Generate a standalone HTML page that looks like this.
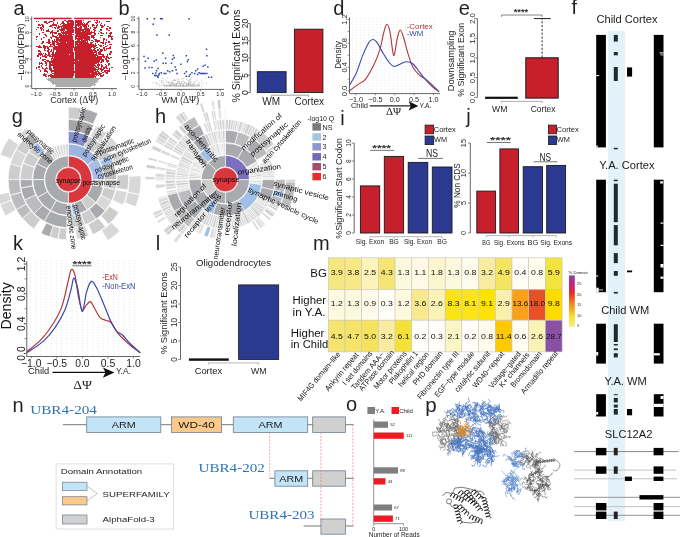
<!DOCTYPE html>
<html><head><meta charset="utf-8"><style>
html,body{margin:0;padding:0;background:#fff;}
body{width:685px;height:537px;overflow:hidden;}
svg{display:block;font-family:"Liberation Sans", sans-serif;will-change:transform;}
</style></head><body>
<svg width="685" height="537" viewBox="0 0 685 537" fill="#231f20">
<text x="13.5" y="14.5" font-size="20">a</text>
<path d="M31.7 16.5L31.7 88.6" stroke="#555" stroke-width="0.9"/>
<path d="M31.7 88.6L117 88.6" stroke="#555" stroke-width="0.9"/>
<path d="M29.7 86.1L31.7 86.1" stroke="#555" stroke-width="0.7"/>
<text x="28.6" y="86.1" font-size="5" text-anchor="middle" fill="#1e1e1e" transform="rotate(-90 28.6 86.1)">0</text>
<path d="M29.7 72.7L31.7 72.7" stroke="#555" stroke-width="0.7"/>
<text x="28.6" y="72.7" font-size="5" text-anchor="middle" fill="#1e1e1e" transform="rotate(-90 28.6 72.7)">2</text>
<path d="M29.7 59.3L31.7 59.3" stroke="#555" stroke-width="0.7"/>
<text x="28.6" y="59.3" font-size="5" text-anchor="middle" fill="#1e1e1e" transform="rotate(-90 28.6 59.3)">4</text>
<path d="M29.7 45.9L31.7 45.9" stroke="#555" stroke-width="0.7"/>
<text x="28.6" y="45.9" font-size="5" text-anchor="middle" fill="#1e1e1e" transform="rotate(-90 28.6 45.9)">6</text>
<path d="M29.7 32.5L31.7 32.5" stroke="#555" stroke-width="0.7"/>
<text x="28.6" y="32.5" font-size="5" text-anchor="middle" fill="#1e1e1e" transform="rotate(-90 28.6 32.5)">8</text>
<path d="M29.7 19.1L31.7 19.1" stroke="#555" stroke-width="0.7"/>
<text x="28.6" y="19.1" font-size="5" text-anchor="middle" fill="#1e1e1e" transform="rotate(-90 28.6 19.1)">10</text>
<path d="M36 88.6L36 90.4" stroke="#555" stroke-width="0.7"/>
<text x="36" y="95.8" font-size="5.7" text-anchor="middle" fill="#1e1e1e">−1.0</text>
<path d="M55 88.6L55 90.4" stroke="#555" stroke-width="0.7"/>
<text x="55" y="95.8" font-size="5.7" text-anchor="middle" fill="#1e1e1e">−0.5</text>
<path d="M74 88.6L74 90.4" stroke="#555" stroke-width="0.7"/>
<text x="74" y="95.8" font-size="5.7" text-anchor="middle" fill="#1e1e1e">0.0</text>
<path d="M93 88.6L93 90.4" stroke="#555" stroke-width="0.7"/>
<text x="93" y="95.8" font-size="5.7" text-anchor="middle" fill="#1e1e1e">0.5</text>
<path d="M112 88.6L112 90.4" stroke="#555" stroke-width="0.7"/>
<text x="112" y="95.8" font-size="5.7" text-anchor="middle" fill="#1e1e1e">1.0</text>
<text x="50.2" y="102.8" font-size="9">Cortex (<tspan font-family='"Liberation Serif", serif' font-size="9.5">ΔΨ</tspan>)</text>
<text x="23.8" y="51.8" font-size="8.5" text-anchor="middle" transform="rotate(-90 23.8 51.8)" textLength="56.7" lengthAdjust="spacingAndGlyphs">−Log10(FDR)</text>
<path d="M45.5 77.5h0.5v0.5h-0.5zM46.5 77.5h5.5v0.5h-5.5zM54.5 77.5h0.5v0.5h-0.5zM56 77.5h1v0.5h-1zM62 77.5h1.5v0.5h-1.5zM67.5 77.5h1v0.5h-1zM71.5 77.5h3.5v0.5h-3.5zM77.5 77.5h1v0.5h-1zM81.5 77.5h1v0.5h-1zM83.5 77.5h2v0.5h-2zM89 77.5h0.5v0.5h-0.5zM92 77.5h2.5v0.5h-2.5zM96 77.5h5v0.5h-5zM101.5 77.5h1.5v0.5h-1.5zM46 78h1v0.5h-1zM47.5 78h53.5v0.5h-53.5zM101.5 78h0.5v0.5h-0.5zM47 78.5h53.5v0.5h-53.5zM47 79h52v0.5h-52zM99.5 79h0.5v0.5h-0.5zM48 79.5h50.5v0.5h-50.5zM99 79.5h1v0.5h-1zM48 80h0.5v0.5h-0.5zM49 80h49v0.5h-49zM98.5 80h0.5v0.5h-0.5zM99.5 80h0.5v0.5h-0.5zM48.5 80.5h0.5v0.5h-0.5zM49.5 80.5h48v0.5h-48zM98 80.5h0.5v0.5h-0.5zM99 80.5h0.5v0.5h-0.5zM50 81h47v0.5h-47zM97.5 81h1.5v0.5h-1.5zM51 81.5h45.5v0.5h-45.5zM97 81.5h0.5v0.5h-0.5zM98 81.5h0.5v0.5h-0.5zM51 82h45.5v0.5h-45.5zM51 82.5h0.5v0.5h-0.5zM52.5 82.5h43v0.5h-43zM96 82.5h0.5v0.5h-0.5zM52 83h43v0.5h-43zM95.5 83h0.5v0.5h-0.5zM52.5 83.5h0.5v0.5h-0.5zM53.5 83.5h41v0.5h-41zM53 84h1v0.5h-1zM54.5 84h41v0.5h-41zM53 84.5h1v0.5h-1zM54.5 84.5h38.5v0.5h-38.5zM94.5 84.5h0.5v0.5h-0.5zM53.5 85h0.5v0.5h-0.5zM54.5 85h0.5v0.5h-0.5zM55.5 85h37.5v0.5h-37.5zM93.5 85h1v0.5h-1zM54.5 85.5h1v0.5h-1zM56 85.5h36.5v0.5h-36.5zM93 85.5h0.5v0.5h-0.5zM55 86h0.5v0.5h-0.5zM56 86h0.5v0.5h-0.5zM57 86h34v0.5h-34z" fill="#ababab" shape-rendering="crispEdges"/>
<path d="M53 19h1.5v0.5h-1.5zM53 19.5h1.5v0.5h-1.5zM64 19.5h1.5v0.5h-1.5zM68 19.5h1.5v0.5h-1.5zM71 19.5h1.5v0.5h-1.5zM75 19.5h1.5v0.5h-1.5zM79 19.5h1.5v0.5h-1.5zM82.5 19.5h1.5v0.5h-1.5zM96 19.5h1.5v0.5h-1.5zM53 20h1.5v0.5h-1.5zM64 20h1.5v0.5h-1.5zM68 20h2.5v0.5h-2.5zM71 20h1.5v0.5h-1.5zM74.5 20h2v0.5h-2zM77 20h5v0.5h-5zM82.5 20h1.5v0.5h-1.5zM93.5 20h1.5v0.5h-1.5zM96 20h1.5v0.5h-1.5zM35.5 20.5h1.5v0.5h-1.5zM37.5 20.5h1.5v0.5h-1.5zM49 20.5h1.5v0.5h-1.5zM51 20.5h1.5v0.5h-1.5zM66 20.5h7.5v0.5h-7.5zM74.5 20.5h2v0.5h-2zM77 20.5h5v0.5h-5zM82.5 20.5h1.5v0.5h-1.5zM89 20.5h1.5v0.5h-1.5zM93.5 20.5h1.5v0.5h-1.5zM96 20.5h1.5v0.5h-1.5zM106 20.5h1.5v0.5h-1.5zM35.5 21h1.5v0.5h-1.5zM37.5 21h1.5v0.5h-1.5zM44 21h1.5v0.5h-1.5zM46 21h1v0.5h-1zM49 21h1.5v0.5h-1.5zM51 21h1.5v0.5h-1.5zM62 21h1.5v0.5h-1.5zM66 21h5.5v0.5h-5.5zM72 21h1.5v0.5h-1.5zM74.5 21h7.5v0.5h-7.5zM87.5 21h1v0.5h-1zM89 21h1.5v0.5h-1.5zM96.5 21h1.5v0.5h-1.5zM98.5 21h1.5v0.5h-1.5zM106 21h1.5v0.5h-1.5zM108 21h1.5v0.5h-1.5zM35.5 21.5h1.5v0.5h-1.5zM37.5 21.5h1.5v0.5h-1.5zM44 21.5h1.5v0.5h-1.5zM46 21.5h1v0.5h-1zM48 21.5h2.5v0.5h-2.5zM51 21.5h1.5v0.5h-1.5zM57 21.5h1v0.5h-1zM62 21.5h1.5v0.5h-1.5zM66 21.5h5.5v0.5h-5.5zM72 21.5h1.5v0.5h-1.5zM74.5 21.5h7.5v0.5h-7.5zM82.5 21.5h1.5v0.5h-1.5zM87 21.5h1.5v0.5h-1.5zM89 21.5h1.5v0.5h-1.5zM94.5 21.5h3.5v0.5h-3.5zM98.5 21.5h1.5v0.5h-1.5zM106 21.5h1.5v0.5h-1.5zM108 21.5h1.5v0.5h-1.5zM44 22h1.5v0.5h-1.5zM46 22h1v0.5h-1zM48 22h1.5v0.5h-1.5zM52.5 22h1v0.5h-1zM57 22h1v0.5h-1zM62 22h1.5v0.5h-1.5zM66.5 22h2v0.5h-2zM69.5 22h4.5v0.5h-4.5zM74.5 22h7v0.5h-7zM82.5 22h1.5v0.5h-1.5zM87 22h1.5v0.5h-1.5zM94.5 22h3.5v0.5h-3.5zM98.5 22h1.5v0.5h-1.5zM46 22.5h1.5v0.5h-1.5zM48 22.5h1.5v0.5h-1.5zM52.5 22.5h1v0.5h-1zM57 22.5h1v0.5h-1zM60.5 22.5h2v0.5h-2zM66.5 22.5h7.5v0.5h-7.5zM74.5 22.5h7v0.5h-7zM82.5 22.5h2.5v0.5h-2.5zM87 22.5h1.5v0.5h-1.5zM94.5 22.5h2.5v0.5h-2.5zM100.5 22.5h1.5v0.5h-1.5zM46 23h1.5v0.5h-1.5zM52.5 23h1v0.5h-1zM57 23h1v0.5h-1zM60.5 23h4v0.5h-4zM66.5 23h3v0.5h-3zM70 23h4v0.5h-4zM74.5 23h1.5v0.5h-1.5zM76.5 23h6v0.5h-6zM83.5 23h1.5v0.5h-1.5zM86 23h1.5v0.5h-1.5zM95.5 23h1v0.5h-1zM100.5 23h1.5v0.5h-1.5zM46 23.5h1.5v0.5h-1.5zM55.5 23.5h1.5v0.5h-1.5zM59.5 23.5h5v0.5h-5zM65 23.5h4.5v0.5h-4.5zM70 23.5h3.5v0.5h-3.5zM76.5 23.5h11v0.5h-11zM95.5 23.5h1v0.5h-1zM100.5 23.5h1.5v0.5h-1.5zM38 24h1.5v0.5h-1.5zM41 24h1.5v0.5h-1.5zM51.5 24h3v0.5h-3zM55 24h2v0.5h-2zM59.5 24h1.5v0.5h-1.5zM62.5 24h11v0.5h-11zM75 24h12.5v0.5h-12.5zM92 24h1.5v0.5h-1.5zM96.5 24h1v0.5h-1zM100 24h1v0.5h-1zM103.5 24h1.5v0.5h-1.5zM38 24.5h2.5v0.5h-2.5zM41 24.5h1.5v0.5h-1.5zM50.5 24.5h4v0.5h-4zM55 24.5h2v0.5h-2zM59.5 24.5h1.5v0.5h-1.5zM62.5 24.5h11v0.5h-11zM74.5 24.5h6v0.5h-6zM82 24.5h5v0.5h-5zM92 24.5h2.5v0.5h-2.5zM96.5 24.5h1v0.5h-1zM100 24.5h1v0.5h-1zM101.5 24.5h1.5v0.5h-1.5zM103.5 24.5h1.5v0.5h-1.5zM38 25h2.5v0.5h-2.5zM42 25h1.5v0.5h-1.5zM49.5 25h5v0.5h-5zM55 25h1.5v0.5h-1.5zM57.5 25h1v0.5h-1zM62 25h5.5v0.5h-5.5zM68 25h5.5v0.5h-5.5zM74.5 25h6.5v0.5h-6.5zM82 25h4.5v0.5h-4.5zM87.5 25h1.5v0.5h-1.5zM92 25h2.5v0.5h-2.5zM95.5 25h2v0.5h-2zM100 25h3v0.5h-3zM103.5 25h1.5v0.5h-1.5zM39.5 25.5h1v0.5h-1zM42 25.5h1.5v0.5h-1.5zM49 25.5h3v0.5h-3zM55.5 25.5h1.5v0.5h-1.5zM57.5 25.5h1v0.5h-1zM62 25.5h3v0.5h-3zM65.5 25.5h4.5v0.5h-4.5zM70.5 25.5h3v0.5h-3zM75.5 25.5h1.5v0.5h-1.5zM77.5 25.5h1.5v0.5h-1.5zM79.5 25.5h2.5v0.5h-2.5zM83 25.5h4v0.5h-4zM87.5 25.5h1.5v0.5h-1.5zM91.5 25.5h1v0.5h-1zM93 25.5h1.5v0.5h-1.5zM95.5 25.5h1.5v0.5h-1.5zM101 25.5h1.5v0.5h-1.5zM107 25.5h1.5v0.5h-1.5zM42 26h1.5v0.5h-1.5zM49 26h2.5v0.5h-2.5zM55.5 26h1.5v0.5h-1.5zM57.5 26h4v0.5h-4zM62 26h1.5v0.5h-1.5zM64 26h8.5v0.5h-8.5zM74.5 26h2.5v0.5h-2.5zM77.5 26h1.5v0.5h-1.5zM79.5 26h2.5v0.5h-2.5zM83 26h4v0.5h-4zM87.5 26h1.5v0.5h-1.5zM91.5 26h1v0.5h-1zM95.5 26h1.5v0.5h-1.5zM101 26h3v0.5h-3zM107 26h1.5v0.5h-1.5zM37 26.5h1.5v0.5h-1.5zM42.5 26.5h1.5v0.5h-1.5zM49 26.5h1.5v0.5h-1.5zM51.5 26.5h1.5v0.5h-1.5zM54 26.5h1.5v0.5h-1.5zM56.5 26.5h5v0.5h-5zM63 26.5h10.5v0.5h-10.5zM74 26.5h2.5v0.5h-2.5zM78 26.5h3v0.5h-3zM91.5 26.5h2.5v0.5h-2.5zM95 26.5h1.5v0.5h-1.5zM101 26.5h3v0.5h-3zM37 27h1.5v0.5h-1.5zM40 27h2v0.5h-2zM42.5 27h1.5v0.5h-1.5zM51.5 27h1.5v0.5h-1.5zM54 27h1.5v0.5h-1.5zM56.5 27h3.5v0.5h-3.5zM60.5 27h1v0.5h-1zM62.5 27h4v0.5h-4zM67 27h6.5v0.5h-6.5zM74 27h2.5v0.5h-2.5zM78.5 27h3.5v0.5h-3.5zM84 27h3v0.5h-3zM89.5 27h1.5v0.5h-1.5zM92.5 27h4v0.5h-4zM101 27h1.5v0.5h-1.5zM108.5 27h2.5v0.5h-2.5zM37 27.5h1.5v0.5h-1.5zM40 27.5h2v0.5h-2zM42.5 27.5h1.5v0.5h-1.5zM51.5 27.5h1.5v0.5h-1.5zM54 27.5h1.5v0.5h-1.5zM56.5 27.5h2v0.5h-2zM62.5 27.5h4v0.5h-4zM67 27.5h6v0.5h-6zM74 27.5h8v0.5h-8zM84 27.5h4.5v0.5h-4.5zM89.5 27.5h1.5v0.5h-1.5zM92.5 27.5h4v0.5h-4zM101 27.5h1.5v0.5h-1.5zM108.5 27.5h2.5v0.5h-2.5zM40 28h3v0.5h-3zM54.5 28h1v0.5h-1zM57 28h1.5v0.5h-1.5zM61 28h11.5v0.5h-11.5zM74.5 28h7.5v0.5h-7.5zM84 28h4.5v0.5h-4.5zM89.5 28h1.5v0.5h-1.5zM94 28h2v0.5h-2zM106 28h1.5v0.5h-1.5zM108.5 28h2.5v0.5h-2.5zM35.5 28.5h1.5v0.5h-1.5zM40.5 28.5h2.5v0.5h-2.5zM47.5 28.5h1.5v0.5h-1.5zM57 28.5h1.5v0.5h-1.5zM61 28.5h1.5v0.5h-1.5zM63 28.5h9v0.5h-9zM72.5 28.5h1v0.5h-1zM74.5 28.5h10v0.5h-10zM85 28.5h1.5v0.5h-1.5zM87 28.5h2v0.5h-2zM89.5 28.5h1.5v0.5h-1.5zM94 28.5h1.5v0.5h-1.5zM106 28.5h1.5v0.5h-1.5zM108.5 28.5h1v0.5h-1zM35.5 29h1.5v0.5h-1.5zM40.5 29h1v0.5h-1zM42.5 29h1.5v0.5h-1.5zM47.5 29h1.5v0.5h-1.5zM59 29h1.5v0.5h-1.5zM61 29h3.5v0.5h-3.5zM66 29h7.5v0.5h-7.5zM74.5 29h2v0.5h-2zM77 29h7.5v0.5h-7.5zM85 29h4.5v0.5h-4.5zM93 29h2v0.5h-2zM100 29h1.5v0.5h-1.5zM106 29h2v0.5h-2zM35.5 29.5h1.5v0.5h-1.5zM40.5 29.5h1.5v0.5h-1.5zM42.5 29.5h1.5v0.5h-1.5zM47.5 29.5h1.5v0.5h-1.5zM51.5 29.5h1v0.5h-1zM57.5 29.5h7.5v0.5h-7.5zM66.5 29.5h4v0.5h-4zM71 29.5h2.5v0.5h-2.5zM75 29.5h9v0.5h-9zM84.5 29.5h5v0.5h-5zM93 29.5h3v0.5h-3zM100 29.5h2v0.5h-2zM106.5 29.5h3v0.5h-3zM40.5 30h1.5v0.5h-1.5zM42.5 30h1.5v0.5h-1.5zM45.5 30h2v0.5h-2zM48 30h1v0.5h-1zM51.5 30h1v0.5h-1zM57 30h2v0.5h-2zM60 30h5v0.5h-5zM66.5 30h7v0.5h-7zM75 30h3.5v0.5h-3.5zM79 30h5v0.5h-5zM84.5 30h5v0.5h-5zM93.5 30h2.5v0.5h-2.5zM100 30h2v0.5h-2zM108 30h1.5v0.5h-1.5zM40.5 30.5h1.5v0.5h-1.5zM45.5 30.5h2v0.5h-2zM48 30.5h1.5v0.5h-1.5zM51.5 30.5h1v0.5h-1zM57 30.5h2v0.5h-2zM60 30.5h1.5v0.5h-1.5zM62.5 30.5h10v0.5h-10zM75 30.5h2.5v0.5h-2.5zM80 30.5h1v0.5h-1zM81.5 30.5h8v0.5h-8zM90.5 30.5h1v0.5h-1zM100.5 30.5h1.5v0.5h-1.5zM108 30.5h1.5v0.5h-1.5zM45.5 31h2v0.5h-2zM48 31h1.5v0.5h-1.5zM51 31h1.5v0.5h-1.5zM57 31h1.5v0.5h-1.5zM60.5 31h1.5v0.5h-1.5zM62.5 31h1v0.5h-1zM64.5 31h9.5v0.5h-9.5zM74.5 31h1v0.5h-1zM76 31h4.5v0.5h-4.5zM81.5 31h8v0.5h-8zM90.5 31h1v0.5h-1zM93.5 31h1.5v0.5h-1.5zM99 31h1v0.5h-1zM42 31.5h1.5v0.5h-1.5zM48 31.5h1.5v0.5h-1.5zM50 31.5h4v0.5h-4zM60.5 31.5h3v0.5h-3zM64.5 31.5h9.5v0.5h-9.5zM74.5 31.5h12.5v0.5h-12.5zM89 31.5h4v0.5h-4zM93.5 31.5h1.5v0.5h-1.5zM99 31.5h1v0.5h-1zM100.5 31.5h1.5v0.5h-1.5zM42 32h1.5v0.5h-1.5zM50 32h7v0.5h-7zM60.5 32h3v0.5h-3zM64 32h10v0.5h-10zM74.5 32h14v0.5h-14zM89 32h6v0.5h-6zM99.5 32h2.5v0.5h-2.5zM105.5 32h1.5v0.5h-1.5zM110 32h1.5v0.5h-1.5zM42 32.5h1.5v0.5h-1.5zM49.5 32.5h2v0.5h-2zM52.5 32.5h4.5v0.5h-4.5zM58.5 32.5h2v0.5h-2zM62 32.5h7.5v0.5h-7.5zM70 32.5h1.5v0.5h-1.5zM74.5 32.5h6v0.5h-6zM81 32.5h7.5v0.5h-7.5zM89 32.5h4.5v0.5h-4.5zM99.5 32.5h4v0.5h-4zM105.5 32.5h1.5v0.5h-1.5zM108.5 32.5h3v0.5h-3zM38.5 33h1.5v0.5h-1.5zM49.5 33h1.5v0.5h-1.5zM51.5 33h1.5v0.5h-1.5zM54 33h3v0.5h-3zM58 33h2.5v0.5h-2.5zM62 33h10v0.5h-10zM74.5 33h6v0.5h-6zM81 33h7.5v0.5h-7.5zM89 33h3v0.5h-3zM93.5 33h2v0.5h-2zM97.5 33h1.5v0.5h-1.5zM101 33h2.5v0.5h-2.5zM105.5 33h1.5v0.5h-1.5zM108.5 33h3v0.5h-3zM38.5 33.5h1.5v0.5h-1.5zM44 33.5h1.5v0.5h-1.5zM49.5 33.5h1.5v0.5h-1.5zM51.5 33.5h1.5v0.5h-1.5zM58 33.5h2.5v0.5h-2.5zM62 33.5h2.5v0.5h-2.5zM65 33.5h2.5v0.5h-2.5zM68 33.5h5.5v0.5h-5.5zM75.5 33.5h5v0.5h-5zM81 33.5h3.5v0.5h-3.5zM85 33.5h3.5v0.5h-3.5zM89 33.5h1.5v0.5h-1.5zM93.5 33.5h2v0.5h-2zM97.5 33.5h1.5v0.5h-1.5zM101 33.5h1.5v0.5h-1.5zM108.5 33.5h2.5v0.5h-2.5zM38.5 34h1.5v0.5h-1.5zM44 34h1.5v0.5h-1.5zM51.5 34h1.5v0.5h-1.5zM58 34h3.5v0.5h-3.5zM62.5 34h1.5v0.5h-1.5zM64.5 34h2.5v0.5h-2.5zM68 34h5.5v0.5h-5.5zM75.5 34h13v0.5h-13zM89 34h1.5v0.5h-1.5zM93.5 34h2v0.5h-2zM109.5 34h1.5v0.5h-1.5zM44 34.5h2.5v0.5h-2.5zM56.5 34.5h7.5v0.5h-7.5zM64.5 34.5h9v0.5h-9zM75 34.5h13v0.5h-13zM93.5 34.5h1.5v0.5h-1.5zM99.5 34.5h3v0.5h-3zM45 35h1.5v0.5h-1.5zM52 35h1.5v0.5h-1.5zM56.5 35h1.5v0.5h-1.5zM58.5 35h8v0.5h-8zM67 35h4.5v0.5h-4.5zM74.5 35h8v0.5h-8zM83 35h4.5v0.5h-4.5zM91 35h4v0.5h-4zM99.5 35h3v0.5h-3zM108 35h2.5v0.5h-2.5zM36.5 35.5h1.5v0.5h-1.5zM45 35.5h1.5v0.5h-1.5zM52 35.5h1.5v0.5h-1.5zM54 35.5h1.5v0.5h-1.5zM56.5 35.5h1.5v0.5h-1.5zM60 35.5h13v0.5h-13zM74.5 35.5h6.5v0.5h-6.5zM82.5 35.5h5v0.5h-5zM91 35.5h4v0.5h-4zM99.5 35.5h3v0.5h-3zM108 35.5h4.5v0.5h-4.5zM35.5 36h2.5v0.5h-2.5zM45.5 36h1v0.5h-1zM52 36h1.5v0.5h-1.5zM54 36h2.5v0.5h-2.5zM59 36h14v0.5h-14zM74.5 36h13v0.5h-13zM88 36h1.5v0.5h-1.5zM90.5 36h3.5v0.5h-3.5zM107.5 36h5v0.5h-5zM35.5 36.5h2.5v0.5h-2.5zM50 36.5h1.5v0.5h-1.5zM54 36.5h2.5v0.5h-2.5zM59 36.5h4v0.5h-4zM64 36.5h2.5v0.5h-2.5zM67 36.5h2v0.5h-2zM69.5 36.5h1v0.5h-1zM71 36.5h2v0.5h-2zM74.5 36.5h2.5v0.5h-2.5zM77.5 36.5h10v0.5h-10zM88 36.5h1.5v0.5h-1.5zM90.5 36.5h4v0.5h-4zM99.5 36.5h1.5v0.5h-1.5zM107.5 36.5h1.5v0.5h-1.5zM110.5 36.5h2v0.5h-2zM35.5 37h1.5v0.5h-1.5zM43 37h1.5v0.5h-1.5zM50 37h1.5v0.5h-1.5zM55 37h3.5v0.5h-3.5zM59 37h7.5v0.5h-7.5zM67 37h3.5v0.5h-3.5zM71 37h2v0.5h-2zM75 37h1.5v0.5h-1.5zM77.5 37h12v0.5h-12zM90.5 37h4v0.5h-4zM99.5 37h1.5v0.5h-1.5zM107.5 37h1.5v0.5h-1.5zM110.5 37h1.5v0.5h-1.5zM43 37.5h1.5v0.5h-1.5zM50.5 37.5h1.5v0.5h-1.5zM55.5 37.5h3v0.5h-3zM59 37.5h8v0.5h-8zM68.5 37.5h2v0.5h-2zM71 37.5h2v0.5h-2zM75 37.5h1.5v0.5h-1.5zM78.5 37.5h1v0.5h-1zM80 37.5h8v0.5h-8zM92 37.5h2.5v0.5h-2.5zM99.5 37.5h1.5v0.5h-1.5zM103 37.5h1.5v0.5h-1.5zM110.5 37.5h2v0.5h-2zM40.5 38h1.5v0.5h-1.5zM50.5 38h1.5v0.5h-1.5zM55.5 38h3v0.5h-3zM60 38h13v0.5h-13zM75 38h14.5v0.5h-14.5zM92.5 38h1.5v0.5h-1.5zM103 38h1.5v0.5h-1.5zM111 38h1.5v0.5h-1.5zM35.5 38.5h1.5v0.5h-1.5zM40.5 38.5h1.5v0.5h-1.5zM50.5 38.5h1.5v0.5h-1.5zM57.5 38.5h1v0.5h-1zM59 38.5h4v0.5h-4zM63.5 38.5h9v0.5h-9zM74.5 38.5h1.5v0.5h-1.5zM76.5 38.5h13v0.5h-13zM92.5 38.5h1.5v0.5h-1.5zM96 38.5h1v0.5h-1zM103 38.5h1.5v0.5h-1.5zM111 38.5h1.5v0.5h-1.5zM35.5 39h1.5v0.5h-1.5zM40.5 39h1.5v0.5h-1.5zM48 39h1.5v0.5h-1.5zM53.5 39h1.5v0.5h-1.5zM56 39h2.5v0.5h-2.5zM59 39h13.5v0.5h-13.5zM74.5 39h1.5v0.5h-1.5zM76.5 39h6.5v0.5h-6.5zM83.5 39h6v0.5h-6zM94 39h1.5v0.5h-1.5zM96 39h1v0.5h-1zM103 39h1.5v0.5h-1.5zM105.5 39h1.5v0.5h-1.5zM111 39h1.5v0.5h-1.5zM35.5 39.5h1.5v0.5h-1.5zM48 39.5h1.5v0.5h-1.5zM51.5 39.5h1.5v0.5h-1.5zM53.5 39.5h1.5v0.5h-1.5zM56 39.5h3v0.5h-3zM59.5 39.5h6v0.5h-6zM68 39.5h4.5v0.5h-4.5zM74.5 39.5h1.5v0.5h-1.5zM76.5 39.5h4v0.5h-4zM81 39.5h4.5v0.5h-4.5zM86 39.5h2.5v0.5h-2.5zM91 39.5h1.5v0.5h-1.5zM94 39.5h1.5v0.5h-1.5zM96 39.5h1v0.5h-1zM105.5 39.5h1.5v0.5h-1.5zM111 39.5h1.5v0.5h-1.5zM48 40h1.5v0.5h-1.5zM51.5 40h1.5v0.5h-1.5zM53.5 40h1.5v0.5h-1.5zM56 40h4.5v0.5h-4.5zM61 40h4.5v0.5h-4.5zM66 40h7.5v0.5h-7.5zM76.5 40h3.5v0.5h-3.5zM80.5 40h5v0.5h-5zM86 40h2v0.5h-2zM88.5 40h1.5v0.5h-1.5zM91 40h1.5v0.5h-1.5zM95 40h4.5v0.5h-4.5zM102.5 40h1.5v0.5h-1.5zM105.5 40h1.5v0.5h-1.5zM48 40.5h1.5v0.5h-1.5zM51.5 40.5h3.5v0.5h-3.5zM56 40.5h9.5v0.5h-9.5zM66 40.5h7.5v0.5h-7.5zM74.5 40.5h4.5v0.5h-4.5zM79.5 40.5h6.5v0.5h-6.5zM87 40.5h1v0.5h-1zM88.5 40.5h1.5v0.5h-1.5zM91 40.5h3v0.5h-3zM95 40.5h4.5v0.5h-4.5zM102.5 40.5h1.5v0.5h-1.5zM42 41h1.5v0.5h-1.5zM48 41h1.5v0.5h-1.5zM51.5 41h4v0.5h-4zM56 41h2v0.5h-2zM59 41h11.5v0.5h-11.5zM71 41h2.5v0.5h-2.5zM74.5 41h11.5v0.5h-11.5zM86.5 41h1v0.5h-1zM92.5 41h1.5v0.5h-1.5zM95 41h4.5v0.5h-4.5zM102.5 41h1.5v0.5h-1.5zM108 41h1.5v0.5h-1.5zM42 41.5h1.5v0.5h-1.5zM46 41.5h3v0.5h-3zM49.5 41.5h1v0.5h-1zM51.5 41.5h4v0.5h-4zM56 41.5h3v0.5h-3zM59.5 41.5h7.5v0.5h-7.5zM67.5 41.5h1.5v0.5h-1.5zM74.5 41.5h13v0.5h-13zM91 41.5h3v0.5h-3zM96.5 41.5h3v0.5h-3zM100 41.5h1.5v0.5h-1.5zM102 41.5h1.5v0.5h-1.5zM105 41.5h1.5v0.5h-1.5zM108 41.5h1.5v0.5h-1.5zM42 42h1.5v0.5h-1.5zM46 42h4.5v0.5h-4.5zM51.5 42h3.5v0.5h-3.5zM56 42h3v0.5h-3zM59.5 42h6.5v0.5h-6.5zM67 42h7v0.5h-7zM74.5 42h13v0.5h-13zM89.5 42h1v0.5h-1zM91 42h1.5v0.5h-1.5zM96.5 42h1.5v0.5h-1.5zM100 42h1.5v0.5h-1.5zM102 42h1.5v0.5h-1.5zM105 42h1.5v0.5h-1.5zM108 42h1.5v0.5h-1.5zM41 42.5h1.5v0.5h-1.5zM47.5 42.5h3v0.5h-3zM51.5 42.5h3.5v0.5h-3.5zM56.5 42.5h2.5v0.5h-2.5zM59.5 42.5h6v0.5h-6zM66 42.5h8v0.5h-8zM74.5 42.5h14.5v0.5h-14.5zM89.5 42.5h1v0.5h-1zM91 42.5h1.5v0.5h-1.5zM96.5 42.5h1.5v0.5h-1.5zM100 42.5h1.5v0.5h-1.5zM102 42.5h1.5v0.5h-1.5zM105 42.5h1.5v0.5h-1.5zM41 43h1.5v0.5h-1.5zM48 43h1.5v0.5h-1.5zM52 43h3v0.5h-3zM56.5 43h2v0.5h-2zM59 43h6.5v0.5h-6.5zM66 43h8v0.5h-8zM75 43h2.5v0.5h-2.5zM78.5 43h10.5v0.5h-10.5zM89.5 43h2.5v0.5h-2.5zM94.5 43h1.5v0.5h-1.5zM102 43h1.5v0.5h-1.5zM105 43h1v0.5h-1zM41 43.5h1.5v0.5h-1.5zM51 43.5h4v0.5h-4zM55.5 43.5h15v0.5h-15zM71 43.5h2.5v0.5h-2.5zM74.5 43.5h14.5v0.5h-14.5zM90 43.5h1.5v0.5h-1.5zM92 43.5h1.5v0.5h-1.5zM94.5 43.5h1.5v0.5h-1.5zM97.5 43.5h1.5v0.5h-1.5zM104.5 43.5h1.5v0.5h-1.5zM109 43.5h3v0.5h-3zM49.5 44h3v0.5h-3zM53 44h2v0.5h-2zM55.5 44h18.5v0.5h-18.5zM74.5 44h15v0.5h-15zM90 44h1.5v0.5h-1.5zM92 44h1.5v0.5h-1.5zM94.5 44h1.5v0.5h-1.5zM97.5 44h1.5v0.5h-1.5zM104.5 44h1.5v0.5h-1.5zM109 44h3v0.5h-3zM43 44.5h1v0.5h-1zM49.5 44.5h3v0.5h-3zM53 44.5h1.5v0.5h-1.5zM55.5 44.5h1.5v0.5h-1.5zM57.5 44.5h16.5v0.5h-16.5zM74.5 44.5h15.5v0.5h-15.5zM92 44.5h5v0.5h-5zM97.5 44.5h3v0.5h-3zM102.5 44.5h1.5v0.5h-1.5zM104.5 44.5h1.5v0.5h-1.5zM38.5 45h1.5v0.5h-1.5zM43 45h1.5v0.5h-1.5zM49.5 45h1.5v0.5h-1.5zM53 45h1.5v0.5h-1.5zM57.5 45h16.5v0.5h-16.5zM74.5 45h1.5v0.5h-1.5zM76.5 45h14v0.5h-14zM91 45h1.5v0.5h-1.5zM93 45h4v0.5h-4zM99 45h2.5v0.5h-2.5zM102.5 45h1.5v0.5h-1.5zM107 45h1v0.5h-1zM36 45.5h4v0.5h-4zM43 45.5h1.5v0.5h-1.5zM46 45.5h1.5v0.5h-1.5zM49 45.5h2.5v0.5h-2.5zM53.5 45.5h2.5v0.5h-2.5zM58.5 45.5h15v0.5h-15zM74.5 45.5h18v0.5h-18zM93 45.5h4v0.5h-4zM99 45.5h2.5v0.5h-2.5zM102.5 45.5h1.5v0.5h-1.5zM104.5 45.5h1.5v0.5h-1.5zM107 45.5h1v0.5h-1zM109.5 45.5h1.5v0.5h-1.5zM36 46h5v0.5h-5zM42.5 46h5v0.5h-5zM49 46h4v0.5h-4zM53.5 46h3v0.5h-3zM57 46h13.5v0.5h-13.5zM71 46h2.5v0.5h-2.5zM74.5 46h18v0.5h-18zM93 46h3v0.5h-3zM100 46h1.5v0.5h-1.5zM104.5 46h2v0.5h-2zM109.5 46h1.5v0.5h-1.5zM37.5 46.5h4v0.5h-4zM42.5 46.5h5v0.5h-5zM49 46.5h4v0.5h-4zM53.5 46.5h20v0.5h-20zM74 46.5h18v0.5h-18zM93 46.5h4.5v0.5h-4.5zM100.5 46.5h1v0.5h-1zM104.5 46.5h2v0.5h-2zM109.5 46.5h1.5v0.5h-1.5zM37.5 47h4v0.5h-4zM42.5 47h3.5v0.5h-3.5zM47 47h1.5v0.5h-1.5zM52.5 47h21v0.5h-21zM74 47h18v0.5h-18zM93 47h1.5v0.5h-1.5zM96 47h1.5v0.5h-1.5zM103 47h1.5v0.5h-1.5zM109 47h1.5v0.5h-1.5zM40 47.5h1.5v0.5h-1.5zM44 47.5h2v0.5h-2zM47 47.5h1.5v0.5h-1.5zM52.5 47.5h21v0.5h-21zM74 47.5h17.5v0.5h-17.5zM93 47.5h2.5v0.5h-2.5zM96 47.5h1.5v0.5h-1.5zM99 47.5h1v0.5h-1zM103 47.5h1.5v0.5h-1.5zM107 47.5h1.5v0.5h-1.5zM109 47.5h1.5v0.5h-1.5zM44 48h2v0.5h-2zM47 48h2v0.5h-2zM52.5 48h20.5v0.5h-20.5zM74 48h16.5v0.5h-16.5zM94 48h1.5v0.5h-1.5zM99 48h1v0.5h-1zM103 48h1.5v0.5h-1.5zM105.5 48h3v0.5h-3zM109 48h1.5v0.5h-1.5zM44.5 48.5h1.5v0.5h-1.5zM47.5 48.5h1.5v0.5h-1.5zM53 48.5h3.5v0.5h-3.5zM57 48.5h15v0.5h-15zM72.5 48.5h0.5v0.5h-0.5zM74 48.5h17v0.5h-17zM93 48.5h2.5v0.5h-2.5zM100.5 48.5h1.5v0.5h-1.5zM103.5 48.5h1.5v0.5h-1.5zM105.5 48.5h3v0.5h-3zM109 48.5h1.5v0.5h-1.5zM43.5 49h1.5v0.5h-1.5zM47.5 49h2.5v0.5h-2.5zM50.5 49h1.5v0.5h-1.5zM53 49h20v0.5h-20zM74 49h18v0.5h-18zM93 49h1.5v0.5h-1.5zM96.5 49h2v0.5h-2zM99.5 49h3v0.5h-3zM103.5 49h1.5v0.5h-1.5zM105.5 49h1.5v0.5h-1.5zM43.5 49.5h1.5v0.5h-1.5zM48.5 49.5h1.5v0.5h-1.5zM50.5 49.5h1.5v0.5h-1.5zM52.5 49.5h1.5v0.5h-1.5zM55 49.5h18v0.5h-18zM74 49.5h18v0.5h-18zM93 49.5h2.5v0.5h-2.5zM96.5 49.5h2v0.5h-2zM99.5 49.5h3v0.5h-3zM103.5 49.5h2v0.5h-2zM38 50h1.5v0.5h-1.5zM43.5 50h2.5v0.5h-2.5zM47 50h1.5v0.5h-1.5zM50.5 50h1.5v0.5h-1.5zM52.5 50h1.5v0.5h-1.5zM55.5 50h2v0.5h-2zM58 50h15v0.5h-15zM74 50h18.5v0.5h-18.5zM93 50h2.5v0.5h-2.5zM96.5 50h2v0.5h-2zM99.5 50h3v0.5h-3zM104 50h1.5v0.5h-1.5zM37.5 50.5h2v0.5h-2zM44.5 50.5h1.5v0.5h-1.5zM46.5 50.5h2v0.5h-2zM50 50.5h1.5v0.5h-1.5zM52.5 50.5h1.5v0.5h-1.5zM55.5 50.5h17.5v0.5h-17.5zM74 50.5h18.5v0.5h-18.5zM94 50.5h2.5v0.5h-2.5zM97.5 50.5h1v0.5h-1zM100 50.5h1.5v0.5h-1.5zM104 50.5h1.5v0.5h-1.5zM37.5 51h3.5v0.5h-3.5zM46.5 51h2v0.5h-2zM50 51h1.5v0.5h-1.5zM52.5 51h1.5v0.5h-1.5zM55.5 51h17.5v0.5h-17.5zM74.5 51h18.5v0.5h-18.5zM93.5 51h3v0.5h-3zM99 51h2.5v0.5h-2.5zM110 51h1.5v0.5h-1.5zM37.5 51.5h1.5v0.5h-1.5zM39.5 51.5h1.5v0.5h-1.5zM46.5 51.5h3v0.5h-3zM50 51.5h1.5v0.5h-1.5zM52.5 51.5h1.5v0.5h-1.5zM55 51.5h18v0.5h-18zM74.5 51.5h22v0.5h-22zM99 51.5h2.5v0.5h-2.5zM110 51.5h1.5v0.5h-1.5zM39.5 52h1.5v0.5h-1.5zM48 52h1.5v0.5h-1.5zM51.5 52h2.5v0.5h-2.5zM55 52h18.5v0.5h-18.5zM74.5 52h22.5v0.5h-22.5zM98 52h2.5v0.5h-2.5zM110 52h1.5v0.5h-1.5zM47.5 52.5h2v0.5h-2zM51.5 52.5h2v0.5h-2zM55 52.5h18.5v0.5h-18.5zM74.5 52.5h22.5v0.5h-22.5zM97.5 52.5h3v0.5h-3zM110 52.5h1.5v0.5h-1.5zM38 53h4v0.5h-4zM42.5 53h1.5v0.5h-1.5zM45 53h1v0.5h-1zM47.5 53h2.5v0.5h-2.5zM51.5 53h2v0.5h-2zM54.5 53h19v0.5h-19zM74.5 53h19.5v0.5h-19.5zM95.5 53h1.5v0.5h-1.5zM97.5 53h3v0.5h-3zM108.5 53h2.5v0.5h-2.5zM38 53.5h4v0.5h-4zM42.5 53.5h1.5v0.5h-1.5zM45 53.5h1v0.5h-1zM47.5 53.5h2.5v0.5h-2.5zM51 53.5h22.5v0.5h-22.5zM74.5 53.5h19v0.5h-19zM95 53.5h1.5v0.5h-1.5zM97.5 53.5h1.5v0.5h-1.5zM100 53.5h2.5v0.5h-2.5zM108.5 53.5h2.5v0.5h-2.5zM38 54h4.5v0.5h-4.5zM44.5 54h2v0.5h-2zM47.5 54h2.5v0.5h-2.5zM51 54h18v0.5h-18zM69.5 54h4v0.5h-4zM74.5 54h22v0.5h-22zM97.5 54h6v0.5h-6zM106.5 54h1v0.5h-1zM108.5 54h2.5v0.5h-2.5zM39.5 54.5h3v0.5h-3zM44.5 54.5h5v0.5h-5zM51 54.5h1v0.5h-1zM53 54.5h19v0.5h-19zM72.5 54.5h0.5v0.5h-0.5zM74.5 54.5h17.5v0.5h-17.5zM92.5 54.5h5v0.5h-5zM99 54.5h4.5v0.5h-4.5zM106.5 54.5h1v0.5h-1zM108.5 54.5h1v0.5h-1zM37 55h1.5v0.5h-1.5zM39.5 55h1.5v0.5h-1.5zM41.5 55h1.5v0.5h-1.5zM44 55h1.5v0.5h-1.5zM46.5 55h4v0.5h-4zM52 55h21.5v0.5h-21.5zM74.5 55h23v0.5h-23zM102 55h1.5v0.5h-1.5zM106.5 55h1v0.5h-1zM37 55.5h1.5v0.5h-1.5zM39.5 55.5h1.5v0.5h-1.5zM41.5 55.5h4v0.5h-4zM47.5 55.5h3v0.5h-3zM52 55.5h1.5v0.5h-1.5zM54 55.5h19.5v0.5h-19.5zM74.5 55.5h23.5v0.5h-23.5zM101 55.5h1.5v0.5h-1.5zM103 55.5h1.5v0.5h-1.5zM106 55.5h2v0.5h-2zM37 56h1.5v0.5h-1.5zM41.5 56h5v0.5h-5zM49 56h4.5v0.5h-4.5zM54 56h19.5v0.5h-19.5zM74.5 56h21.5v0.5h-21.5zM97 56h5.5v0.5h-5.5zM103 56h1.5v0.5h-1.5zM106 56h2v0.5h-2zM42.5 56.5h1.5v0.5h-1.5zM45 56.5h1.5v0.5h-1.5zM49.5 56.5h2.5v0.5h-2.5zM54 56.5h19.5v0.5h-19.5zM74.5 56.5h21v0.5h-21zM96.5 56.5h5.5v0.5h-5.5zM103 56.5h1.5v0.5h-1.5zM106 56.5h2.5v0.5h-2.5zM110 56.5h1.5v0.5h-1.5zM39.5 57h1.5v0.5h-1.5zM45 57h1.5v0.5h-1.5zM51.5 57h1.5v0.5h-1.5zM54 57h19.5v0.5h-19.5zM74.5 57h27.5v0.5h-27.5zM103 57h1.5v0.5h-1.5zM106 57h2.5v0.5h-2.5zM110 57h1.5v0.5h-1.5zM39.5 57.5h1.5v0.5h-1.5zM50.5 57.5h23v0.5h-23zM75 57.5h18v0.5h-18zM93.5 57.5h5.5v0.5h-5.5zM99.5 57.5h1v0.5h-1zM106 57.5h3.5v0.5h-3.5zM110 57.5h1.5v0.5h-1.5zM39.5 58h1.5v0.5h-1.5zM50.5 58h20v0.5h-20zM71 58h2.5v0.5h-2.5zM75 58h26.5v0.5h-26.5zM105 58h1.5v0.5h-1.5zM108 58h1.5v0.5h-1.5zM41.5 58.5h4v0.5h-4zM50.5 58.5h1.5v0.5h-1.5zM52.5 58.5h21v0.5h-21zM74.5 58.5h25v0.5h-25zM100 58.5h1.5v0.5h-1.5zM105 58.5h1.5v0.5h-1.5zM41.5 59h4v0.5h-4zM50.5 59h1.5v0.5h-1.5zM52.5 59h21v0.5h-21zM74 59h25.5v0.5h-25.5zM100 59h4v0.5h-4zM105 59h2v0.5h-2zM41.5 59.5h4v0.5h-4zM46 59.5h2.5v0.5h-2.5zM52.5 59.5h21v0.5h-21zM74 59.5h24.5v0.5h-24.5zM101.5 59.5h2.5v0.5h-2.5zM105.5 59.5h1.5v0.5h-1.5zM42 60h1.5v0.5h-1.5zM46 60h3v0.5h-3zM51 60h22.5v0.5h-22.5zM74 60h4v0.5h-4zM78.5 60h21.5v0.5h-21.5zM100.5 60h3.5v0.5h-3.5zM106 60h2.5v0.5h-2.5zM42 60.5h1.5v0.5h-1.5zM44 60.5h1.5v0.5h-1.5zM46 60.5h3v0.5h-3zM50 60.5h23.5v0.5h-23.5zM74 60.5h26v0.5h-26zM100.5 60.5h3v0.5h-3zM106 60.5h2.5v0.5h-2.5zM44 61h1.5v0.5h-1.5zM47 61h1.5v0.5h-1.5zM49 61h25v0.5h-25zM74.5 61h24v0.5h-24zM99 61h1v0.5h-1zM100.5 61h3v0.5h-3zM106 61h2.5v0.5h-2.5zM38.5 61.5h1.5v0.5h-1.5zM44 61.5h1.5v0.5h-1.5zM49 61.5h25v0.5h-25zM74.5 61.5h22v0.5h-22zM97 61.5h1.5v0.5h-1.5zM106.5 61.5h1.5v0.5h-1.5zM38.5 62h1.5v0.5h-1.5zM40.5 62h1.5v0.5h-1.5zM45 62h1.5v0.5h-1.5zM49 62h24.5v0.5h-24.5zM74 62h22.5v0.5h-22.5zM97 62h1.5v0.5h-1.5zM99.5 62h2.5v0.5h-2.5zM106.5 62h1.5v0.5h-1.5zM38.5 62.5h3.5v0.5h-3.5zM45 62.5h1.5v0.5h-1.5zM49.5 62.5h2.5v0.5h-2.5zM52.5 62.5h21v0.5h-21zM74 62.5h22.5v0.5h-22.5zM97 62.5h1.5v0.5h-1.5zM99.5 62.5h2.5v0.5h-2.5zM39 63h4v0.5h-4zM45 63h2v0.5h-2zM49 63h2v0.5h-2zM52 63h44.5v0.5h-44.5zM98 63h1v0.5h-1zM108 63h1.5v0.5h-1.5zM39 63.5h1.5v0.5h-1.5zM41.5 63.5h1.5v0.5h-1.5zM46 63.5h1v0.5h-1zM49 63.5h2.5v0.5h-2.5zM52 63.5h22v0.5h-22zM74.5 63.5h23v0.5h-23zM98 63.5h1v0.5h-1zM105 63.5h1v0.5h-1zM108 63.5h1.5v0.5h-1.5zM39 64h1v0.5h-1zM41.5 64h1.5v0.5h-1.5zM46 64h1v0.5h-1zM49 64h2.5v0.5h-2.5zM52 64h22v0.5h-22zM74.5 64h20v0.5h-20zM96.5 64h1v0.5h-1zM98 64h1.5v0.5h-1.5zM100.5 64h1.5v0.5h-1.5zM105 64h1v0.5h-1zM108 64h1.5v0.5h-1.5zM45 64.5h2v0.5h-2zM50 64.5h23.5v0.5h-23.5zM74.5 64.5h20v0.5h-20zM96.5 64.5h3v0.5h-3zM100.5 64.5h1.5v0.5h-1.5zM105 64.5h1v0.5h-1zM107.5 64.5h1.5v0.5h-1.5zM40.5 65h1.5v0.5h-1.5zM45 65h1.5v0.5h-1.5zM49 65h24.5v0.5h-24.5zM74.5 65h21.5v0.5h-21.5zM97 65h2.5v0.5h-2.5zM100.5 65h2v0.5h-2zM105.5 65h1v0.5h-1zM107.5 65h1.5v0.5h-1.5zM40.5 65.5h1.5v0.5h-1.5zM49 65.5h1.5v0.5h-1.5zM53 65.5h20v0.5h-20zM74.5 65.5h21.5v0.5h-21.5zM97 65.5h2.5v0.5h-2.5zM100.5 65.5h2v0.5h-2zM105.5 65.5h1v0.5h-1zM107.5 65.5h1.5v0.5h-1.5zM38 66h1.5v0.5h-1.5zM40.5 66h1.5v0.5h-1.5zM49 66h1.5v0.5h-1.5zM53 66h20.5v0.5h-20.5zM74.5 66h19v0.5h-19zM94.5 66h2.5v0.5h-2.5zM97.5 66h1v0.5h-1zM101 66h1.5v0.5h-1.5zM105 66h1.5v0.5h-1.5zM38 66.5h1.5v0.5h-1.5zM53 66.5h20.5v0.5h-20.5zM74.5 66.5h20v0.5h-20zM95.5 66.5h1.5v0.5h-1.5zM97.5 66.5h1v0.5h-1zM100.5 66.5h2v0.5h-2zM105 66.5h1.5v0.5h-1.5zM111 66.5h1.5v0.5h-1.5zM35.5 67h1.5v0.5h-1.5zM38 67h1.5v0.5h-1.5zM41.5 67h1.5v0.5h-1.5zM45.5 67h1.5v0.5h-1.5zM49 67h1.5v0.5h-1.5zM53 67h20.5v0.5h-20.5zM75 67h19.5v0.5h-19.5zM95.5 67h3v0.5h-3zM100.5 67h1.5v0.5h-1.5zM103 67h1.5v0.5h-1.5zM105 67h1.5v0.5h-1.5zM111 67h1.5v0.5h-1.5zM35.5 67.5h1.5v0.5h-1.5zM41.5 67.5h1.5v0.5h-1.5zM45 67.5h3v0.5h-3zM49 67.5h3v0.5h-3zM52.5 67.5h21v0.5h-21zM75 67.5h21v0.5h-21zM96.5 67.5h3v0.5h-3zM100.5 67.5h1.5v0.5h-1.5zM103 67.5h1.5v0.5h-1.5zM111 67.5h1.5v0.5h-1.5zM35.5 68h1.5v0.5h-1.5zM41.5 68h2v0.5h-2zM45 68h3v0.5h-3zM49 68h3v0.5h-3zM52.5 68h21v0.5h-21zM74.5 68h21.5v0.5h-21.5zM97.5 68h4v0.5h-4zM103 68h1.5v0.5h-1.5zM106 68h1.5v0.5h-1.5zM108.5 68h1.5v0.5h-1.5zM39 68.5h1v0.5h-1zM42 68.5h1.5v0.5h-1.5zM45 68.5h3v0.5h-3zM50.5 68.5h1.5v0.5h-1.5zM52.5 68.5h21v0.5h-21zM74.5 68.5h27v0.5h-27zM102 68.5h1.5v0.5h-1.5zM106 68.5h1.5v0.5h-1.5zM108.5 68.5h1.5v0.5h-1.5zM39 69h1v0.5h-1zM43.5 69h2v0.5h-2zM49 69h3v0.5h-3zM53.5 69h20v0.5h-20zM74.5 69h24.5v0.5h-24.5zM99.5 69h4v0.5h-4zM108.5 69h1.5v0.5h-1.5zM39 69.5h1v0.5h-1zM43.5 69.5h2v0.5h-2zM49 69.5h2.5v0.5h-2.5zM52 69.5h22v0.5h-22zM74.5 69.5h12.5v0.5h-12.5zM87.5 69.5h11.5v0.5h-11.5zM101.5 69.5h2v0.5h-2zM105 69.5h3v0.5h-3zM40 70h1v0.5h-1zM43.5 70h3v0.5h-3zM50 70h24v0.5h-24zM74.5 70h21.5v0.5h-21.5zM96.5 70h1.5v0.5h-1.5zM100.5 70h2v0.5h-2zM104 70h5.5v0.5h-5.5zM40 70.5h1v0.5h-1zM44 70.5h2.5v0.5h-2.5zM51 70.5h23v0.5h-23zM74.5 70.5h20v0.5h-20zM95 70.5h1v0.5h-1zM100.5 70.5h1.5v0.5h-1.5zM103.5 70.5h6v0.5h-6zM40 71h1v0.5h-1zM44 71h3.5v0.5h-3.5zM50.5 71h43.5v0.5h-43.5zM95 71h3.5v0.5h-3.5zM100.5 71h1.5v0.5h-1.5zM103.5 71h2v0.5h-2zM107 71h2.5v0.5h-2.5zM46.5 71.5h1v0.5h-1zM50.5 71.5h1.5v0.5h-1.5zM53 71.5h20.5v0.5h-20.5zM74 71.5h19v0.5h-19zM94 71.5h1v0.5h-1zM96 71.5h4v0.5h-4zM102 71.5h6.5v0.5h-6.5zM46.5 72h1v0.5h-1zM50.5 72h1.5v0.5h-1.5zM53.5 72h43.5v0.5h-43.5zM97.5 72h2.5v0.5h-2.5zM102 72h1.5v0.5h-1.5zM105 72h3v0.5h-3zM43.5 72.5h1.5v0.5h-1.5zM51.5 72.5h22.5v0.5h-22.5zM74.5 72.5h21.5v0.5h-21.5zM96.5 72.5h3.5v0.5h-3.5zM102 72.5h1.5v0.5h-1.5zM105 72.5h2.5v0.5h-2.5zM43.5 73h1.5v0.5h-1.5zM51.5 73h22.5v0.5h-22.5zM74.5 73h15.5v0.5h-15.5zM90.5 73h11v0.5h-11zM106 73h1.5v0.5h-1.5zM43.5 73.5h3v0.5h-3zM50.5 73.5h23.5v0.5h-23.5zM74.5 73.5h27v0.5h-27zM103 73.5h1v0.5h-1zM106 73.5h1.5v0.5h-1.5zM43 74h3.5v0.5h-3.5zM49.5 74h2v0.5h-2zM53.5 74h18v0.5h-18zM72 74h1.5v0.5h-1.5zM75 74h15.5v0.5h-15.5zM91 74h6.5v0.5h-6.5zM99 74h2v0.5h-2zM103 74h1v0.5h-1zM43 74.5h3.5v0.5h-3.5zM48 74.5h4v0.5h-4zM54 74.5h20v0.5h-20zM74.5 74.5h22.5v0.5h-22.5zM98 74.5h1v0.5h-1zM99.5 74.5h1.5v0.5h-1.5zM102 74.5h2v0.5h-2zM43 75h2.5v0.5h-2.5zM48 75h5.5v0.5h-5.5zM54 75h20v0.5h-20zM74.5 75h20v0.5h-20zM95.5 75h1.5v0.5h-1.5zM98 75h1v0.5h-1zM100 75h3.5v0.5h-3.5zM48 75.5h1.5v0.5h-1.5zM50 75.5h3.5v0.5h-3.5zM54 75.5h19.5v0.5h-19.5zM74.5 75.5h21v0.5h-21zM98 75.5h1v0.5h-1zM100 75.5h2.5v0.5h-2.5zM45 76h1.5v0.5h-1.5zM48 76h1v0.5h-1zM50 76h3.5v0.5h-3.5zM54 76h19v0.5h-19zM75 76h2.5v0.5h-2.5zM78 76h17.5v0.5h-17.5zM100 76h2.5v0.5h-2.5zM45 76.5h1.5v0.5h-1.5zM48 76.5h1v0.5h-1zM50 76.5h23v0.5h-23zM75 76.5h21v0.5h-21zM50.5 77h22.5v0.5h-22.5zM75 77h19v0.5h-19zM94.5 77h1.5v0.5h-1.5zM52 77.5h2.5v0.5h-2.5zM55 77.5h1v0.5h-1zM57 77.5h5v0.5h-5zM63.5 77.5h4v0.5h-4zM68.5 77.5h3v0.5h-3zM75 77.5h2.5v0.5h-2.5zM78.5 77.5h3v0.5h-3zM82.5 77.5h1v0.5h-1zM85.5 77.5h3.5v0.5h-3.5zM89.5 77.5h2.5v0.5h-2.5zM94.5 77.5h1.5v0.5h-1.5z" fill="#c7202c" shape-rendering="crispEdges"/>
<rect x="33.8" y="17.7" width="37.8" height="1.5" fill="#c7202c"/>
<rect x="74.3" y="17.7" width="37.9" height="1.5" fill="#c7202c"/>
<text x="118.5" y="14.5" font-size="20">b</text>
<path d="M138.9 16.5L138.9 89.4" stroke="#555" stroke-width="0.9"/>
<path d="M138.9 89.4L224 89.4" stroke="#555" stroke-width="0.9"/>
<path d="M136.9 86.3L138.9 86.3" stroke="#555" stroke-width="0.7"/>
<text x="135" y="86.3" font-size="5" text-anchor="middle" fill="#1e1e1e" transform="rotate(-90 135 86.3)">0</text>
<path d="M136.9 72.8L138.9 72.8" stroke="#555" stroke-width="0.7"/>
<text x="135" y="72.8" font-size="5" text-anchor="middle" fill="#1e1e1e" transform="rotate(-90 135 72.8)">2</text>
<path d="M136.9 59.2L138.9 59.2" stroke="#555" stroke-width="0.7"/>
<text x="135" y="59.2" font-size="5" text-anchor="middle" fill="#1e1e1e" transform="rotate(-90 135 59.2)">4</text>
<path d="M136.9 45.7L138.9 45.7" stroke="#555" stroke-width="0.7"/>
<text x="135" y="45.7" font-size="5" text-anchor="middle" fill="#1e1e1e" transform="rotate(-90 135 45.7)">6</text>
<path d="M136.9 32.1L138.9 32.1" stroke="#555" stroke-width="0.7"/>
<text x="135" y="32.1" font-size="5" text-anchor="middle" fill="#1e1e1e" transform="rotate(-90 135 32.1)">8</text>
<path d="M136.9 18.6L138.9 18.6" stroke="#555" stroke-width="0.7"/>
<text x="135" y="18.6" font-size="5" text-anchor="middle" fill="#1e1e1e" transform="rotate(-90 135 18.6)">10</text>
<path d="M141.7 89.4L141.7 91.2" stroke="#555" stroke-width="0.7"/>
<text x="141.7" y="96.3" font-size="5.7" text-anchor="middle" fill="#1e1e1e">−1.0</text>
<path d="M161.3 89.4L161.3 91.2" stroke="#555" stroke-width="0.7"/>
<text x="161.3" y="96.3" font-size="5.7" text-anchor="middle" fill="#1e1e1e">−0.5</text>
<path d="M181 89.4L181 91.2" stroke="#555" stroke-width="0.7"/>
<text x="181" y="96.3" font-size="5.7" text-anchor="middle" fill="#1e1e1e">0.0</text>
<path d="M200.7 89.4L200.7 91.2" stroke="#555" stroke-width="0.7"/>
<text x="200.7" y="96.3" font-size="5.7" text-anchor="middle" fill="#1e1e1e">0.5</text>
<path d="M220.3 89.4L220.3 91.2" stroke="#555" stroke-width="0.7"/>
<text x="220.3" y="96.3" font-size="5.7" text-anchor="middle" fill="#1e1e1e">1.0</text>
<text x="161.5" y="102.8" font-size="9">WM (<tspan font-family='"Liberation Serif", serif' font-size="9.5">ΔΨ</tspan>)</text>
<text x="128.1" y="51.8" font-size="8.5" text-anchor="middle" transform="rotate(-90 128.1 51.8)" textLength="56.7" lengthAdjust="spacingAndGlyphs">−Log10(FDR)</text>
<path d="M174.8 80.1h0.8v0.8h-0.8zM187.7 84.7h0.8v0.8h-0.8zM173.5 84.8h0.8v0.8h-0.8zM194.4 85.2h0.8v0.8h-0.8zM181.1 81.3h0.8v0.8h-0.8zM179.7 85.1h0.8v0.8h-0.8zM172.6 82.7h0.8v0.8h-0.8zM177.5 80.6h0.8v0.8h-0.8zM201.5 81.4h0.8v0.8h-0.8zM166.4 81.1h0.8v0.8h-0.8zM159.2 85.8h0.8v0.8h-0.8zM174.2 85.2h0.8v0.8h-0.8zM186.6 79.4h0.8v0.8h-0.8zM194.9 85.2h0.8v0.8h-0.8zM189.2 84.4h0.8v0.8h-0.8zM172.7 83.5h0.8v0.8h-0.8zM170.7 83.8h0.8v0.8h-0.8zM170.5 82.7h0.8v0.8h-0.8zM162.9 85.4h0.8v0.8h-0.8zM170.8 82.1h0.8v0.8h-0.8zM189.6 79.4h0.8v0.8h-0.8zM163 81.4h0.8v0.8h-0.8zM178 85.9h0.8v0.8h-0.8zM176.3 85.6h0.8v0.8h-0.8zM165.1 79.6h0.8v0.8h-0.8zM176.8 83.4h0.8v0.8h-0.8zM199.5 84.1h0.8v0.8h-0.8zM190.7 85.9h0.8v0.8h-0.8zM198.4 83.5h0.8v0.8h-0.8zM183.6 85.7h0.8v0.8h-0.8zM196.7 83.6h0.8v0.8h-0.8zM178.5 83.5h0.8v0.8h-0.8zM182.4 78.5h0.8v0.8h-0.8zM169.6 85.6h0.8v0.8h-0.8zM185.1 85h0.8v0.8h-0.8zM184.1 81.7h0.8v0.8h-0.8zM166.2 85.5h0.8v0.8h-0.8zM180.4 83.6h0.8v0.8h-0.8zM173.5 79.2h0.8v0.8h-0.8zM201.2 85.9h0.8v0.8h-0.8zM162.5 79.7h0.8v0.8h-0.8zM183 78.2h0.8v0.8h-0.8zM188 82.8h0.8v0.8h-0.8zM188 79.9h0.8v0.8h-0.8zM177.4 82.4h0.8v0.8h-0.8zM183.1 85.8h0.8v0.8h-0.8zM180.8 83.2h0.8v0.8h-0.8zM184.3 82h0.8v0.8h-0.8zM186.1 83.9h0.8v0.8h-0.8zM190.8 84.3h0.8v0.8h-0.8zM175.8 84.5h0.8v0.8h-0.8zM156.6 82.6h0.8v0.8h-0.8zM173.8 84.4h0.8v0.8h-0.8zM188.4 83.5h0.8v0.8h-0.8zM186.3 82.5h0.8v0.8h-0.8zM175.2 80.3h0.8v0.8h-0.8zM177.4 79.1h0.8v0.8h-0.8zM178.2 79.5h0.8v0.8h-0.8zM166.8 85.3h0.8v0.8h-0.8zM188.6 83.3h0.8v0.8h-0.8zM187.8 81.5h0.8v0.8h-0.8zM155.3 82.3h0.8v0.8h-0.8zM199.2 85.1h0.8v0.8h-0.8zM187.2 84.6h0.8v0.8h-0.8zM173.7 79.9h0.8v0.8h-0.8zM192.6 85.2h0.8v0.8h-0.8zM170.6 84.3h0.8v0.8h-0.8zM188.8 84.3h0.8v0.8h-0.8zM175.7 83.1h0.8v0.8h-0.8zM168.9 85h0.8v0.8h-0.8zM182.8 83.8h0.8v0.8h-0.8zM170 85.2h0.8v0.8h-0.8zM192 83.8h0.8v0.8h-0.8zM179.8 84.1h0.8v0.8h-0.8zM171.5 85.3h0.8v0.8h-0.8zM176.4 83.6h0.8v0.8h-0.8zM201.2 79.7h0.8v0.8h-0.8zM181.9 84.9h0.8v0.8h-0.8zM174.4 85h0.8v0.8h-0.8zM167.8 81.9h0.8v0.8h-0.8zM188.7 83.6h0.8v0.8h-0.8zM186.1 84.6h0.8v0.8h-0.8zM167 77.6h0.8v0.8h-0.8zM165.3 85.7h0.8v0.8h-0.8zM177.1 83.5h0.8v0.8h-0.8zM166.8 84.7h0.8v0.8h-0.8zM160.6 85h0.8v0.8h-0.8zM183.8 82.9h0.8v0.8h-0.8zM165.7 84.6h0.8v0.8h-0.8zM168.8 84.6h0.8v0.8h-0.8zM188.5 82.6h0.8v0.8h-0.8zM177.1 83.2h0.8v0.8h-0.8zM187.8 80h0.8v0.8h-0.8zM173 82.7h0.8v0.8h-0.8zM163.1 83.5h0.8v0.8h-0.8zM192.1 83.9h0.8v0.8h-0.8zM185.5 84.9h0.8v0.8h-0.8zM176.2 84.4h0.8v0.8h-0.8zM185.4 85.3h0.8v0.8h-0.8zM185.8 85.6h0.8v0.8h-0.8zM161 82.2h0.8v0.8h-0.8zM162.5 80h0.8v0.8h-0.8zM188.2 83.6h0.8v0.8h-0.8zM175.4 84.6h0.8v0.8h-0.8zM162 85.2h0.8v0.8h-0.8zM168 82.7h0.8v0.8h-0.8zM182.1 82.9h0.8v0.8h-0.8zM186.1 83.9h0.8v0.8h-0.8zM189.7 83.6h0.8v0.8h-0.8zM168.7 85.6h0.8v0.8h-0.8zM165.6 85.6h0.8v0.8h-0.8zM159.5 80.4h0.8v0.8h-0.8zM161.7 82.7h0.8v0.8h-0.8zM178.8 82.2h0.8v0.8h-0.8zM180.4 84.4h0.8v0.8h-0.8zM161.4 80.6h0.8v0.8h-0.8zM173.6 84.6h0.8v0.8h-0.8zM152.8 82h0.8v0.8h-0.8zM167.2 82.3h0.8v0.8h-0.8zM190.7 85.7h0.8v0.8h-0.8zM176.3 84.8h0.8v0.8h-0.8zM171.8 80.2h0.8v0.8h-0.8zM175.4 85.8h0.8v0.8h-0.8zM185.9 83.8h0.8v0.8h-0.8zM187.7 85.6h0.8v0.8h-0.8zM171.5 85.1h0.8v0.8h-0.8zM173.6 82.8h0.8v0.8h-0.8zM189.2 83.5h0.8v0.8h-0.8zM180.5 84.1h0.8v0.8h-0.8zM191.2 77.2h0.8v0.8h-0.8zM173.3 84h0.8v0.8h-0.8zM184.7 82.6h0.8v0.8h-0.8zM188.6 82.6h0.8v0.8h-0.8zM196.8 80.3h0.8v0.8h-0.8zM201.3 81.6h0.8v0.8h-0.8zM188.2 81.4h0.8v0.8h-0.8zM185.9 79.2h0.8v0.8h-0.8zM197.3 85.2h0.8v0.8h-0.8zM179.3 81h0.8v0.8h-0.8zM174.6 84.4h0.8v0.8h-0.8zM192.2 85.7h0.8v0.8h-0.8zM179.8 83.1h0.8v0.8h-0.8zM161 81.8h0.8v0.8h-0.8zM173.7 82.7h0.8v0.8h-0.8zM178.7 85.2h0.8v0.8h-0.8zM163.8 83.8h0.8v0.8h-0.8zM188 83.9h0.8v0.8h-0.8zM193.2 83.4h0.8v0.8h-0.8zM183.3 83.7h0.8v0.8h-0.8zM194.4 81h0.8v0.8h-0.8zM182.3 85.5h0.8v0.8h-0.8zM175.3 83.4h0.8v0.8h-0.8zM193.1 82.2h0.8v0.8h-0.8zM184.1 82h0.8v0.8h-0.8zM166.2 85.1h0.8v0.8h-0.8zM176.1 83.8h0.8v0.8h-0.8zM191.2 85h0.8v0.8h-0.8zM185.6 85.7h0.8v0.8h-0.8zM182.1 81.5h0.8v0.8h-0.8zM172 82h0.8v0.8h-0.8zM189.1 79.5h0.8v0.8h-0.8zM189.7 80.9h0.8v0.8h-0.8zM188.1 84.2h0.8v0.8h-0.8zM181.4 78.8h0.8v0.8h-0.8zM194.7 83.3h0.8v0.8h-0.8zM206.3 82.5h0.8v0.8h-0.8zM205.1 77.8h0.8v0.8h-0.8zM171.3 82.6h0.8v0.8h-0.8zM192.9 84.9h0.8v0.8h-0.8zM172.6 84.6h0.8v0.8h-0.8zM170.2 85.1h0.8v0.8h-0.8zM179.6 84.6h0.8v0.8h-0.8zM189.6 81.6h0.8v0.8h-0.8zM198 84.7h0.8v0.8h-0.8zM162.4 78.1h0.8v0.8h-0.8zM187.2 83.8h0.8v0.8h-0.8zM190.6 79.5h0.8v0.8h-0.8zM180.4 84.9h0.8v0.8h-0.8zM173 79.9h0.8v0.8h-0.8zM184.6 82.3h0.8v0.8h-0.8zM180.1 83.9h0.8v0.8h-0.8zM156.3 83.6h0.8v0.8h-0.8zM172.4 85.1h0.8v0.8h-0.8zM177.9 81.6h0.8v0.8h-0.8zM182.4 84.8h0.8v0.8h-0.8zM182.6 85.9h0.8v0.8h-0.8zM171 85h0.8v0.8h-0.8zM180.2 85.5h0.8v0.8h-0.8zM180.9 82.7h0.8v0.8h-0.8zM190.5 83.5h0.8v0.8h-0.8zM190.6 85.7h0.8v0.8h-0.8zM190.4 78.7h0.8v0.8h-0.8zM168.6 81.5h0.8v0.8h-0.8zM159.4 84.2h0.8v0.8h-0.8zM183 84.2h0.8v0.8h-0.8zM169.4 84.1h0.8v0.8h-0.8zM175.4 85.6h0.8v0.8h-0.8zM186.7 84h0.8v0.8h-0.8zM177.2 83.5h0.8v0.8h-0.8zM191.1 81.8h0.8v0.8h-0.8zM177.7 85.9h0.8v0.8h-0.8zM183.1 85.1h0.8v0.8h-0.8zM170.5 81.4h0.8v0.8h-0.8zM168.2 82.3h0.8v0.8h-0.8zM189 80.4h0.8v0.8h-0.8zM174.4 85.7h0.8v0.8h-0.8zM190.4 85.6h0.8v0.8h-0.8zM197.2 84.4h0.8v0.8h-0.8zM172.4 84.3h0.8v0.8h-0.8zM190 84h0.8v0.8h-0.8zM169.2 85.6h0.8v0.8h-0.8zM187.7 83.3h0.8v0.8h-0.8zM202.9 82.9h0.8v0.8h-0.8zM157.9 83.4h0.8v0.8h-0.8zM181.5 82.2h0.8v0.8h-0.8zM178.7 81.6h0.8v0.8h-0.8zM188.6 82.9h0.8v0.8h-0.8zM190 82.2h0.8v0.8h-0.8zM171.6 82.5h0.8v0.8h-0.8zM172.8 83.8h0.8v0.8h-0.8zM195.5 81.4h0.8v0.8h-0.8zM168.8 82h0.8v0.8h-0.8zM172.8 82.5h0.8v0.8h-0.8zM163.8 84.7h0.8v0.8h-0.8zM194.1 84.2h0.8v0.8h-0.8zM190.6 85.5h0.8v0.8h-0.8zM192.7 84.9h0.8v0.8h-0.8zM173.3 84h0.8v0.8h-0.8zM174.8 79.2h0.8v0.8h-0.8zM165.9 84.8h0.8v0.8h-0.8zM176.9 82.5h0.8v0.8h-0.8zM170.1 83.9h0.8v0.8h-0.8zM189.6 85.8h0.8v0.8h-0.8zM199.3 82.3h0.8v0.8h-0.8zM193 84.3h0.8v0.8h-0.8zM192.4 85.7h0.8v0.8h-0.8zM179.9 85.4h0.8v0.8h-0.8zM172.3 84.8h0.8v0.8h-0.8zM185.3 85.9h0.8v0.8h-0.8zM173.9 79.7h0.8v0.8h-0.8zM193.2 84.3h0.8v0.8h-0.8zM180.3 85.4h0.8v0.8h-0.8zM186 83.4h0.8v0.8h-0.8zM192.7 84.8h0.8v0.8h-0.8zM179.9 84.9h0.8v0.8h-0.8zM186.3 83.9h0.8v0.8h-0.8zM183 80.6h0.8v0.8h-0.8zM157.1 85.7h0.8v0.8h-0.8z" fill="#b4b4b4"/>
<path d="M164 86L199.5 86" stroke="#b0b0b0" stroke-width="0.8"/>
<path d="M146.5 17.9h1.5v1.5h-1.5zM153.6 17.9h1.5v1.5h-1.5zM159.9 17.9h1.5v1.5h-1.5zM161.4 17.9h1.5v1.5h-1.5zM188.4 17.9h1.5v1.5h-1.5zM152.5 23.5h1.5v1.5h-1.5zM156.2 34.3h1.5v1.5h-1.5zM168.5 34.3h1.5v1.5h-1.5zM205.8 48.6h1.5v1.5h-1.5zM143.3 55.7h1.5v1.5h-1.5zM144.7 60.4h1.5v1.5h-1.5zM147.4 57.4h1.5v1.5h-1.5zM148.4 66.7h1.5v1.5h-1.5zM151.2 66.7h1.5v1.5h-1.5zM153.4 60.4h1.5v1.5h-1.5zM155.5 59.2h1.5v1.5h-1.5zM157.3 67.8h1.5v1.5h-1.5zM155.8 70.1h1.5v1.5h-1.5zM154.9 72.3h1.5v1.5h-1.5zM162 52.4h1.5v1.5h-1.5zM164.8 57.4h1.5v1.5h-1.5zM162.4 62.6h1.5v1.5h-1.5zM165.1 62.6h1.5v1.5h-1.5zM171.7 58.5h1.5v1.5h-1.5zM170.7 62.6h1.5v1.5h-1.5zM167 70.1h1.5v1.5h-1.5zM168.9 71h1.5v1.5h-1.5zM171.7 70.1h1.5v1.5h-1.5zM172.6 54.8h1.5v1.5h-1.5zM173.5 57h1.5v1.5h-1.5zM174.5 66.3h1.5v1.5h-1.5zM175.4 69.1h1.5v1.5h-1.5zM158.6 72.8h1.5v1.5h-1.5zM160.5 71.9h1.5v1.5h-1.5zM163.3 72.8h1.5v1.5h-1.5zM154 74.7h1.5v1.5h-1.5zM156.8 75.6h1.5v1.5h-1.5zM157.3 76.6h1.5v1.5h-1.5zM180.1 63.5h1.5v1.5h-1.5zM183.8 72.8h1.5v1.5h-1.5zM185.6 71h1.5v1.5h-1.5zM186.6 60.7h1.5v1.5h-1.5zM185.6 55.1h1.5v1.5h-1.5zM187.5 58.9h1.5v1.5h-1.5zM188.4 75.6h1.5v1.5h-1.5zM189.4 73.8h1.5v1.5h-1.5zM195 70.1h1.5v1.5h-1.5zM196.8 68.2h1.5v1.5h-1.5zM198.3 71.9h1.5v1.5h-1.5zM200.5 72.8h1.5v1.5h-1.5zM202.4 65.4h1.5v1.5h-1.5zM204.3 64.5h1.5v1.5h-1.5zM199.6 72.8h1.5v1.5h-1.5zM201.5 72.8h1.5v1.5h-1.5zM203.3 72.8h1.5v1.5h-1.5zM206.1 55.1h1.5v1.5h-1.5zM207.1 66.3h1.5v1.5h-1.5zM208 76.6h1.5v1.5h-1.5zM210.8 76.6h1.5v1.5h-1.5zM204.3 72.8h1.5v1.5h-1.5zM144.3 67.3h1.5v1.5h-1.5zM152.1 72.8h1.5v1.5h-1.5zM165.1 72.8h1.5v1.5h-1.5zM176.3 72.8h1.5v1.5h-1.5zM191.2 71.9h1.5v1.5h-1.5zM194 72.8h1.5v1.5h-1.5zM196.8 73.8h1.5v1.5h-1.5zM155.3 74.7h1.5v1.5h-1.5zM158.1 74.2h1.5v1.5h-1.5zM185.6 75.6h1.5v1.5h-1.5zM206.1 72.8h1.5v1.5h-1.5zM202.4 72.8h1.5v1.5h-1.5z" fill="#2f44a6"/>
<text x="219.5" y="14.5" font-size="20">c</text>
<path d="M250.2 23.5L250.2 92.6" stroke="#555" stroke-width="1"/>
<path d="M247.6 92.6L250.2 92.6" stroke="#555" stroke-width="0.8"/>
<text x="247.6" y="92.6" font-size="8.5" text-anchor="middle" fill="#1e1e1e" transform="rotate(-90 247.6 92.6)">0</text>
<path d="M247.6 75.3L250.2 75.3" stroke="#555" stroke-width="0.8"/>
<text x="247.6" y="75.3" font-size="8.5" text-anchor="middle" fill="#1e1e1e" transform="rotate(-90 247.6 75.3)">5</text>
<path d="M247.6 58L250.2 58" stroke="#555" stroke-width="0.8"/>
<text x="247.6" y="58" font-size="8.5" text-anchor="middle" fill="#1e1e1e" transform="rotate(-90 247.6 58)">10</text>
<path d="M247.6 40.8L250.2 40.8" stroke="#555" stroke-width="0.8"/>
<text x="247.6" y="40.8" font-size="8.5" text-anchor="middle" fill="#1e1e1e" transform="rotate(-90 247.6 40.8)">15</text>
<path d="M247.6 23.5L250.2 23.5" stroke="#555" stroke-width="0.8"/>
<text x="247.6" y="23.5" font-size="8.5" text-anchor="middle" fill="#1e1e1e" transform="rotate(-90 247.6 23.5)">20</text>
<rect x="257.3" y="71.7" width="28.8" height="20.9" fill="#2b3990" stroke="#1a1a1a" stroke-width="0.9"/>
<rect x="294.4" y="29.2" width="28.5" height="63.4" fill="#c7202c" stroke="#1a1a1a" stroke-width="0.9"/>
<path d="M271.5 95.2L308.6 95.2" stroke="#888" stroke-width="0.8"/>
<path d="M271.5 95.2L271.5 97" stroke="#888" stroke-width="0.8"/>
<path d="M308.6 95.2L308.6 97" stroke="#888" stroke-width="0.8"/>
<text x="271.2" y="105.3" font-size="10" text-anchor="middle">WM</text>
<text x="309.3" y="105.3" font-size="10" text-anchor="middle">Cortex</text>
<text x="239.5" y="56" font-size="10.5" text-anchor="middle" transform="rotate(-90 239.5 56)">% Significant Exons</text>
<text x="333.2" y="14.9" font-size="20">d</text>
<path d="M352.4 18.5L352.4 93" stroke="#d0d0d0" stroke-width="0.7" stroke-dasharray="0.7 2.1"/>
<path d="M356.5 18.5L356.5 93" stroke="#d0d0d0" stroke-width="0.7" stroke-dasharray="0.7 2.1"/>
<path d="M360.6 18.5L360.6 93" stroke="#d0d0d0" stroke-width="0.7" stroke-dasharray="0.7 2.1"/>
<path d="M364.7 18.5L364.7 93" stroke="#d0d0d0" stroke-width="0.7" stroke-dasharray="0.7 2.1"/>
<path d="M368.8 18.5L368.8 93" stroke="#d0d0d0" stroke-width="0.7" stroke-dasharray="0.7 2.1"/>
<path d="M372.9 18.5L372.9 93" stroke="#d0d0d0" stroke-width="0.7" stroke-dasharray="0.7 2.1"/>
<path d="M377 18.5L377 93" stroke="#d0d0d0" stroke-width="0.7" stroke-dasharray="0.7 2.1"/>
<path d="M381.1 18.5L381.1 93" stroke="#d0d0d0" stroke-width="0.7" stroke-dasharray="0.7 2.1"/>
<path d="M385.2 18.5L385.2 93" stroke="#d0d0d0" stroke-width="0.7" stroke-dasharray="0.7 2.1"/>
<path d="M389.3 18.5L389.3 93" stroke="#d0d0d0" stroke-width="0.7" stroke-dasharray="0.7 2.1"/>
<path d="M393.4 18.5L393.4 93" stroke="#d0d0d0" stroke-width="0.7" stroke-dasharray="0.7 2.1"/>
<path d="M397.5 18.5L397.5 93" stroke="#d0d0d0" stroke-width="0.7" stroke-dasharray="0.7 2.1"/>
<path d="M401.6 18.5L401.6 93" stroke="#d0d0d0" stroke-width="0.7" stroke-dasharray="0.7 2.1"/>
<path d="M405.7 18.5L405.7 93" stroke="#d0d0d0" stroke-width="0.7" stroke-dasharray="0.7 2.1"/>
<path d="M409.8 18.5L409.8 93" stroke="#d0d0d0" stroke-width="0.7" stroke-dasharray="0.7 2.1"/>
<path d="M413.9 18.5L413.9 93" stroke="#d0d0d0" stroke-width="0.7" stroke-dasharray="0.7 2.1"/>
<path d="M418 18.5L418 93" stroke="#d0d0d0" stroke-width="0.7" stroke-dasharray="0.7 2.1"/>
<path d="M422.1 18.5L422.1 93" stroke="#d0d0d0" stroke-width="0.7" stroke-dasharray="0.7 2.1"/>
<path d="M426.2 18.5L426.2 93" stroke="#d0d0d0" stroke-width="0.7" stroke-dasharray="0.7 2.1"/>
<path d="M430.3 18.5L430.3 93" stroke="#d0d0d0" stroke-width="0.7" stroke-dasharray="0.7 2.1"/>
<path d="M434.4 18.5L434.4 93" stroke="#d0d0d0" stroke-width="0.7" stroke-dasharray="0.7 2.1"/>
<path d="M349.5 17.4L349.5 93.6" stroke="#555" stroke-width="0.9"/>
<path d="M349.5 93.6L440 93.6" stroke="#555" stroke-width="0.9"/>
<path d="M347.7 91L349.5 91" stroke="#555" stroke-width="0.7"/>
<text x="347.1" y="91" font-size="7.6" text-anchor="middle" fill="#1e1e1e" transform="rotate(-90 347.1 91)">0.0</text>
<path d="M347.7 79.1L349.5 79.1" stroke="#555" stroke-width="0.7"/>
<path d="M347.7 67.2L349.5 67.2" stroke="#555" stroke-width="0.7"/>
<text x="347.1" y="67.2" font-size="7.6" text-anchor="middle" fill="#1e1e1e" transform="rotate(-90 347.1 67.2)">0.4</text>
<path d="M347.7 55.2L349.5 55.2" stroke="#555" stroke-width="0.7"/>
<path d="M347.7 43.3L349.5 43.3" stroke="#555" stroke-width="0.7"/>
<text x="347.1" y="43.3" font-size="7.6" text-anchor="middle" fill="#1e1e1e" transform="rotate(-90 347.1 43.3)">0.8</text>
<path d="M347.7 31.4L349.5 31.4" stroke="#555" stroke-width="0.7"/>
<path d="M347.7 19.5L349.5 19.5" stroke="#555" stroke-width="0.7"/>
<text x="347.1" y="19.5" font-size="7.6" text-anchor="middle" fill="#1e1e1e" transform="rotate(-90 347.1 19.5)">1.2</text>
<path d="M356 93.6L356 95.2" stroke="#555" stroke-width="0.7"/>
<text x="356" y="101.8" font-size="7.2" text-anchor="middle" fill="#1e1e1e">−1.0</text>
<path d="M375.4 93.6L375.4 95.2" stroke="#555" stroke-width="0.7"/>
<text x="375.4" y="101.8" font-size="7.2" text-anchor="middle" fill="#1e1e1e">−0.5</text>
<path d="M394.8 93.6L394.8 95.2" stroke="#555" stroke-width="0.7"/>
<text x="394.8" y="101.8" font-size="7.2" text-anchor="middle" fill="#1e1e1e">0.0</text>
<path d="M414.1 93.6L414.1 95.2" stroke="#555" stroke-width="0.7"/>
<text x="414.1" y="101.8" font-size="7.2" text-anchor="middle" fill="#1e1e1e">0.5</text>
<path d="M433.5 93.6L433.5 95.2" stroke="#555" stroke-width="0.7"/>
<text x="433.5" y="101.8" font-size="7.2" text-anchor="middle" fill="#1e1e1e">1.0</text>
<text x="341" y="54.9" font-size="8.3" text-anchor="middle" transform="rotate(-90 341 54.9)" textLength="27.7" lengthAdjust="spacingAndGlyphs">Density</text>
<path d="M349.4 91C350.8 89.9 355 86.6 357.7 84.6C360.4 82.6 363 82.3 365.6 79.1C368.2 75.9 371.1 70.5 373.5 65.6C375.9 60.7 378.1 55.3 379.8 49.8C381.5 44.3 382.6 36.7 383.8 32.4C385 28.1 385.8 24.2 386.9 24.2C387.9 24.2 389 27.2 390.1 32.4C391.2 37.6 392.5 54.2 393.7 55.3C394.9 56.3 396.1 42.9 397.2 38.7C398.3 34.5 399.1 30.2 400.1 30C401.2 29.8 402.1 33.1 403.5 37.2C404.9 41.3 406.7 49.6 408.3 54.6C409.9 59.6 411.1 63.8 413 67.2C414.9 70.6 417.3 73.1 419.4 75.1C421.5 77.1 423.6 77.5 425.7 79.1C427.8 80.7 429.8 82.5 432 84.6C434.2 86.7 437.9 90.5 439.1 91.7" stroke="#b3343c" stroke-width="1.1" fill="none"/>
<path d="M349.4 85.4C350.5 83.4 353.9 78.4 356.1 73.5C358.3 68.6 360.3 61.2 362.4 56.1C364.5 51 367 45.5 368.7 42.7C370.4 39.9 371.4 39.6 372.7 39.5C374 39.4 374.9 39.6 376.6 41.9C378.3 44.1 381 49.7 383 53C385 56.3 386.7 59.5 388.5 61.7C390.3 63.9 392 66 394 66.4C396 66.8 398.3 64.8 400.4 64C402.5 63.2 404.6 61.7 406.7 61.7C408.8 61.7 410.9 62.3 413 64C415.1 65.7 417.3 69.2 419.4 71.9C421.5 74.6 423.3 77.2 425.7 79.9C428.1 82.6 431.4 85.8 433.6 87.8C435.8 89.8 438.2 91 439.1 91.7" stroke="#3847a8" stroke-width="1.1" fill="none"/>
<text x="406.7" y="28.9" font-size="7.9" fill="#b3343c" textLength="26.1" lengthAdjust="spacingAndGlyphs">-Cortex</text>
<text x="406.7" y="35.6" font-size="7.9" fill="#3847a8" textLength="16.6" lengthAdjust="spacingAndGlyphs">-WM</text>
<text x="350.9" y="107.6" font-size="7.5" fill="#1e1e1e" textLength="17.1" lengthAdjust="spacingAndGlyphs">Child</text>
<path d="M369.8 105.9L412 105.9" stroke="#222" stroke-width="1.1"/>
<path d="M408.7 101.3L418.3 105.9L408.7 110.4L410.8 105.9" stroke="none" stroke-width="0" fill="#111"/>
<text x="419.6" y="107.6" font-size="7" fill="#1e1e1e" textLength="11.9" lengthAdjust="spacingAndGlyphs">Y.A.</text>
<text x="393.6" y="115.3" font-size="10.5" text-anchor="middle" font-family='"Liberation Serif", serif' fill="#222" textLength="15.2" lengthAdjust="spacingAndGlyphs">ΔΨ</text>
<text x="458.8" y="15" font-size="20">e</text>
<path d="M477.4 18.6L477.4 97.4" stroke="#555" stroke-width="0.9"/>
<path d="M475.2 97.4L477.4 97.4" stroke="#555" stroke-width="0.7"/>
<text x="475.1" y="97.4" font-size="6.6" text-anchor="middle" fill="#1e1e1e" transform="rotate(-90 475.1 97.4)" textLength="11" lengthAdjust="spacingAndGlyphs">0.0</text>
<path d="M475.2 77.7L477.4 77.7" stroke="#555" stroke-width="0.7"/>
<text x="475.1" y="77.7" font-size="6.6" text-anchor="middle" fill="#1e1e1e" transform="rotate(-90 475.1 77.7)" textLength="11" lengthAdjust="spacingAndGlyphs">0.5</text>
<path d="M475.2 58L477.4 58" stroke="#555" stroke-width="0.7"/>
<text x="475.1" y="58" font-size="6.6" text-anchor="middle" fill="#1e1e1e" transform="rotate(-90 475.1 58)" textLength="11" lengthAdjust="spacingAndGlyphs">1.0</text>
<path d="M475.2 38.3L477.4 38.3" stroke="#555" stroke-width="0.7"/>
<text x="475.1" y="38.3" font-size="6.6" text-anchor="middle" fill="#1e1e1e" transform="rotate(-90 475.1 38.3)" textLength="11" lengthAdjust="spacingAndGlyphs">1.5</text>
<path d="M475.2 18.6L477.4 18.6" stroke="#555" stroke-width="0.7"/>
<text x="475.1" y="18.6" font-size="6.6" text-anchor="middle" fill="#1e1e1e" transform="rotate(-90 475.1 18.6)" textLength="11" lengthAdjust="spacingAndGlyphs">2.0</text>
<rect x="485.1" y="96.7" width="32.7" height="2.2" fill="#111"/>
<path d="M542.1 57.6L542.1 18.6" stroke="#1e1e1e" stroke-width="0.9" stroke-dasharray="2.2 1.6"/>
<path d="M533.9 18.6L550.7 18.6" stroke="#1e1e1e" stroke-width="1"/>
<rect x="525.8" y="57.8" width="32.4" height="40.3" fill="#c7202c" stroke="#1a1a1a" stroke-width="1"/>
<path d="M501.5 15L542.2 15" stroke="#666" stroke-width="0.8"/>
<path d="M501.5 15L501.5 16.8" stroke="#666" stroke-width="0.8"/>
<path d="M542.2 15L542.2 16.8" stroke="#666" stroke-width="0.8"/>
<text x="521" y="15" font-size="8.5" text-anchor="middle" fill="#333" font-weight="bold" textLength="14.5" lengthAdjust="spacingAndGlyphs">****</text>
<path d="M501.2 101.4L542.1 101.4" stroke="#999" stroke-width="0.8"/>
<path d="M501.2 101.4L501.2 103.2" stroke="#999" stroke-width="0.8"/>
<path d="M542.1 101.4L542.1 103.2" stroke="#999" stroke-width="0.8"/>
<text x="499.7" y="112" font-size="8.6" text-anchor="middle" fill="#222" textLength="15.3" lengthAdjust="spacingAndGlyphs">WM</text>
<text x="543.1" y="112" font-size="8.6" text-anchor="middle" fill="#222" textLength="24.8" lengthAdjust="spacingAndGlyphs">Cortex</text>
<text x="454.2" y="60.9" font-size="9.2" text-anchor="middle" fill="#222" transform="rotate(-90 454.2 60.9)" textLength="60.7" lengthAdjust="spacingAndGlyphs">Downsampling</text>
<text x="464.2" y="59.8" font-size="8.9" text-anchor="middle" fill="#222" transform="rotate(-90 464.2 59.8)" textLength="74.1" lengthAdjust="spacingAndGlyphs">% Significant Exon</text>
<text x="340.2" y="124.8" font-size="20">i</text>
<path d="M354.2 143.1L354.2 233" stroke="#555" stroke-width="0.9"/>
<path d="M351.8 233L354.2 233" stroke="#555" stroke-width="0.7"/>
<text x="351.4" y="233" font-size="6.6" text-anchor="middle" fill="#1e1e1e" transform="rotate(-90 351.4 233)">0</text>
<path d="M351.8 215L354.2 215" stroke="#555" stroke-width="0.7"/>
<text x="351.4" y="215" font-size="6.6" text-anchor="middle" fill="#1e1e1e" transform="rotate(-90 351.4 215)">2</text>
<path d="M351.8 197L354.2 197" stroke="#555" stroke-width="0.7"/>
<text x="351.4" y="197" font-size="6.6" text-anchor="middle" fill="#1e1e1e" transform="rotate(-90 351.4 197)">4</text>
<path d="M351.8 179.1L354.2 179.1" stroke="#555" stroke-width="0.7"/>
<text x="351.4" y="179.1" font-size="6.6" text-anchor="middle" fill="#1e1e1e" transform="rotate(-90 351.4 179.1)">6</text>
<path d="M351.8 161.1L354.2 161.1" stroke="#555" stroke-width="0.7"/>
<text x="351.4" y="161.1" font-size="6.6" text-anchor="middle" fill="#1e1e1e" transform="rotate(-90 351.4 161.1)">8</text>
<path d="M351.8 143.1L354.2 143.1" stroke="#555" stroke-width="0.7"/>
<text x="351.4" y="143.1" font-size="6.6" text-anchor="middle" fill="#1e1e1e" transform="rotate(-90 351.4 143.1)">10</text>
<rect x="360.4" y="185.9" width="19.3" height="47.1" fill="#c7202c" stroke="#1a1a1a" stroke-width="0.9"/>
<rect x="384.3" y="156.4" width="19.3" height="76.6" fill="#c7202c" stroke="#1a1a1a" stroke-width="0.9"/>
<rect x="408.2" y="162.4" width="19.6" height="70.6" fill="#2b3990" stroke="#1a1a1a" stroke-width="0.9"/>
<rect x="432.3" y="167" width="19.7" height="66" fill="#2b3990" stroke="#1a1a1a" stroke-width="0.9"/>
<path d="M370 236.7L442.1 236.7" stroke="#999" stroke-width="0.7"/>
<path d="M370 236.7L370 238.5" stroke="#999" stroke-width="0.7"/>
<path d="M394 236.7L394 238.5" stroke="#999" stroke-width="0.7"/>
<path d="M418 236.7L418 238.5" stroke="#999" stroke-width="0.7"/>
<path d="M442.1 236.7L442.1 238.5" stroke="#999" stroke-width="0.7"/>
<text x="370" y="244" font-size="6.7" text-anchor="middle" fill="#1e1e1e" textLength="28.6" lengthAdjust="spacingAndGlyphs">Sig. Exon</text>
<text x="394" y="244" font-size="6.7" text-anchor="middle" fill="#1e1e1e" textLength="9.7" lengthAdjust="spacingAndGlyphs">BG</text>
<text x="418" y="244" font-size="6.7" text-anchor="middle" fill="#1e1e1e" textLength="28.1" lengthAdjust="spacingAndGlyphs">Sig. Exon</text>
<text x="442.1" y="244" font-size="6.7" text-anchor="middle" fill="#1e1e1e" textLength="9.7" lengthAdjust="spacingAndGlyphs">BG</text>
<text x="341.6" y="188.5" font-size="8.3" text-anchor="middle" transform="rotate(-90 341.6 188.5)" textLength="100.5" lengthAdjust="spacingAndGlyphs">%Significant Start Codon</text>
<rect x="425.1" y="125.1" width="8.6" height="8.7" fill="#c7202c" stroke="#1a1a1a" stroke-width="0.8"/>
<rect x="425.1" y="136" width="8.6" height="8.6" fill="#2b3990" stroke="#1a1a1a" stroke-width="0.8"/>
<text x="433.7" y="131.9" font-size="7.7" fill="#222" textLength="22.2" lengthAdjust="spacingAndGlyphs">Cortex</text>
<text x="434" y="142" font-size="7.7" fill="#222" textLength="13" lengthAdjust="spacingAndGlyphs">WM</text>
<path d="M370.2 150.4L394.2 150.4" stroke="#555" stroke-width="0.8"/>
<text x="381.6" y="151" font-size="8.5" text-anchor="middle" fill="#333" font-weight="bold" textLength="18.8" lengthAdjust="spacingAndGlyphs">****</text>
<path d="M418.1 158.4L443 158.4" stroke="#555" stroke-width="0.8"/>
<text x="432" y="156.9" font-size="10.7" text-anchor="middle" fill="#222" textLength="12.1" lengthAdjust="spacingAndGlyphs">NS</text>
<text x="466.2" y="122.5" font-size="20">j</text>
<path d="M470.3 143.1L470.3 233" stroke="#555" stroke-width="0.9"/>
<path d="M467.9 233L470.3 233" stroke="#555" stroke-width="0.7"/>
<text x="466.3" y="233" font-size="6.8" text-anchor="middle" fill="#1e1e1e" transform="rotate(-90 466.3 233)" textLength="4.1" lengthAdjust="spacingAndGlyphs">0</text>
<path d="M467.9 203L470.3 203" stroke="#555" stroke-width="0.7"/>
<text x="466.3" y="203" font-size="6.8" text-anchor="middle" fill="#1e1e1e" transform="rotate(-90 466.3 203)" textLength="4.1" lengthAdjust="spacingAndGlyphs">5</text>
<path d="M467.9 173.1L470.3 173.1" stroke="#555" stroke-width="0.7"/>
<text x="466.3" y="173.1" font-size="6.8" text-anchor="middle" fill="#1e1e1e" transform="rotate(-90 466.3 173.1)" textLength="8.2" lengthAdjust="spacingAndGlyphs">10</text>
<path d="M467.9 143.1L470.3 143.1" stroke="#555" stroke-width="0.7"/>
<text x="466.3" y="143.1" font-size="6.8" text-anchor="middle" fill="#1e1e1e" transform="rotate(-90 466.3 143.1)" textLength="8.2" lengthAdjust="spacingAndGlyphs">15</text>
<rect x="476.8" y="191.1" width="18.8" height="41.9" fill="#c7202c" stroke="#1a1a1a" stroke-width="0.9"/>
<rect x="499.9" y="148.9" width="18.6" height="84.1" fill="#c7202c" stroke="#1a1a1a" stroke-width="0.9"/>
<rect x="523.2" y="166.7" width="19.3" height="66.3" fill="#2b3990" stroke="#1a1a1a" stroke-width="0.9"/>
<rect x="546.7" y="165.4" width="18.9" height="67.6" fill="#2b3990" stroke="#1a1a1a" stroke-width="0.9"/>
<path d="M486.2 235.6L556.2 235.6" stroke="#999" stroke-width="0.7"/>
<path d="M486.2 235.6L486.2 237.4" stroke="#999" stroke-width="0.7"/>
<path d="M509.2 235.6L509.2 237.4" stroke="#999" stroke-width="0.7"/>
<path d="M532.9 235.6L532.9 237.4" stroke="#999" stroke-width="0.7"/>
<path d="M556.2 235.6L556.2 237.4" stroke="#999" stroke-width="0.7"/>
<text x="486.2" y="245.2" font-size="6.7" text-anchor="middle" fill="#1e1e1e" textLength="7.9" lengthAdjust="spacingAndGlyphs">BG</text>
<text x="509.2" y="245.2" font-size="6.7" text-anchor="middle" fill="#1e1e1e" textLength="30.6" lengthAdjust="spacingAndGlyphs">Sig. Exons</text>
<text x="532.9" y="245.2" font-size="6.7" text-anchor="middle" fill="#1e1e1e" textLength="10.8" lengthAdjust="spacingAndGlyphs">BG</text>
<text x="556.2" y="245.2" font-size="6.7" text-anchor="middle" fill="#1e1e1e" textLength="32" lengthAdjust="spacingAndGlyphs">Sig. Exons</text>
<text x="460.3" y="185.5" font-size="8.4" text-anchor="middle" transform="rotate(-90 460.3 185.5)" textLength="44.4" lengthAdjust="spacingAndGlyphs">% Non CDS</text>
<rect x="548.5" y="125.1" width="8.1" height="8.7" fill="#c7202c" stroke="#1a1a1a" stroke-width="0.8"/>
<rect x="548.5" y="136" width="8.1" height="8.6" fill="#2b3990" stroke="#1a1a1a" stroke-width="0.8"/>
<text x="556.6" y="131.9" font-size="7.7" fill="#222" textLength="22.2" lengthAdjust="spacingAndGlyphs">Cortex</text>
<text x="556.8" y="142" font-size="7.7" fill="#222" textLength="13" lengthAdjust="spacingAndGlyphs">WM</text>
<path d="M486.8 142.5L510.6 142.5" stroke="#555" stroke-width="0.8"/>
<text x="500.5" y="143" font-size="8.5" text-anchor="middle" fill="#333" font-weight="bold" textLength="21" lengthAdjust="spacingAndGlyphs">****</text>
<path d="M533.5 161.8L557.4 161.8" stroke="#555" stroke-width="0.8"/>
<text x="545.2" y="160.7" font-size="10.5" text-anchor="middle" fill="#222" textLength="11.5" lengthAdjust="spacingAndGlyphs">NS</text>
<text x="13" y="250" font-size="20">k</text>
<path d="M30.4 260.5L30.4 355.5" stroke="#cfcfcf" stroke-width="0.7" stroke-dasharray="0.7 2.06"/>
<path d="M35.6 260.5L35.6 355.5" stroke="#cfcfcf" stroke-width="0.7" stroke-dasharray="0.7 2.06"/>
<path d="M40.8 260.5L40.8 355.5" stroke="#cfcfcf" stroke-width="0.7" stroke-dasharray="0.7 2.06"/>
<path d="M46 260.5L46 355.5" stroke="#cfcfcf" stroke-width="0.7" stroke-dasharray="0.7 2.06"/>
<path d="M51.2 260.5L51.2 355.5" stroke="#cfcfcf" stroke-width="0.7" stroke-dasharray="0.7 2.06"/>
<path d="M56.4 260.5L56.4 355.5" stroke="#cfcfcf" stroke-width="0.7" stroke-dasharray="0.7 2.06"/>
<path d="M61.6 260.5L61.6 355.5" stroke="#cfcfcf" stroke-width="0.7" stroke-dasharray="0.7 2.06"/>
<path d="M66.8 260.5L66.8 355.5" stroke="#cfcfcf" stroke-width="0.7" stroke-dasharray="0.7 2.06"/>
<path d="M72 260.5L72 355.5" stroke="#cfcfcf" stroke-width="0.7" stroke-dasharray="0.7 2.06"/>
<path d="M77.2 260.5L77.2 355.5" stroke="#cfcfcf" stroke-width="0.7" stroke-dasharray="0.7 2.06"/>
<path d="M82.4 260.5L82.4 355.5" stroke="#cfcfcf" stroke-width="0.7" stroke-dasharray="0.7 2.06"/>
<path d="M87.6 260.5L87.6 355.5" stroke="#cfcfcf" stroke-width="0.7" stroke-dasharray="0.7 2.06"/>
<path d="M92.8 260.5L92.8 355.5" stroke="#cfcfcf" stroke-width="0.7" stroke-dasharray="0.7 2.06"/>
<path d="M98 260.5L98 355.5" stroke="#cfcfcf" stroke-width="0.7" stroke-dasharray="0.7 2.06"/>
<path d="M103.2 260.5L103.2 355.5" stroke="#cfcfcf" stroke-width="0.7" stroke-dasharray="0.7 2.06"/>
<path d="M108.4 260.5L108.4 355.5" stroke="#cfcfcf" stroke-width="0.7" stroke-dasharray="0.7 2.06"/>
<path d="M113.6 260.5L113.6 355.5" stroke="#cfcfcf" stroke-width="0.7" stroke-dasharray="0.7 2.06"/>
<path d="M118.8 260.5L118.8 355.5" stroke="#cfcfcf" stroke-width="0.7" stroke-dasharray="0.7 2.06"/>
<path d="M124 260.5L124 355.5" stroke="#cfcfcf" stroke-width="0.7" stroke-dasharray="0.7 2.06"/>
<path d="M129.2 260.5L129.2 355.5" stroke="#cfcfcf" stroke-width="0.7" stroke-dasharray="0.7 2.06"/>
<path d="M134.4 260.5L134.4 355.5" stroke="#cfcfcf" stroke-width="0.7" stroke-dasharray="0.7 2.06"/>
<path d="M26.8 260.9L26.8 356.5" stroke="#555" stroke-width="0.9"/>
<path d="M26.3 356.5L140.1 356.5" stroke="#555" stroke-width="0.9"/>
<path d="M24.6 353.5L26.8 353.5" stroke="#555" stroke-width="0.7"/>
<text x="24.6" y="353.5" font-size="10.4" text-anchor="middle" fill="#1e1e1e" transform="rotate(-90 24.6 353.5)">0.0</text>
<path d="M24.6 338.6L26.8 338.6" stroke="#555" stroke-width="0.7"/>
<path d="M24.6 323.7L26.8 323.7" stroke="#555" stroke-width="0.7"/>
<text x="24.6" y="323.7" font-size="10.4" text-anchor="middle" fill="#1e1e1e" transform="rotate(-90 24.6 323.7)">0.4</text>
<path d="M24.6 308.7L26.8 308.7" stroke="#555" stroke-width="0.7"/>
<path d="M24.6 293.8L26.8 293.8" stroke="#555" stroke-width="0.7"/>
<text x="24.6" y="293.8" font-size="10.4" text-anchor="middle" fill="#1e1e1e" transform="rotate(-90 24.6 293.8)">0.8</text>
<path d="M24.6 278.9L26.8 278.9" stroke="#555" stroke-width="0.7"/>
<path d="M24.6 264L26.8 264" stroke="#555" stroke-width="0.7"/>
<text x="24.6" y="264" font-size="10.4" text-anchor="middle" fill="#1e1e1e" transform="rotate(-90 24.6 264)">1.2</text>
<path d="M31.2 356.5L31.2 358.5" stroke="#555" stroke-width="0.7"/>
<text x="31.2" y="366.8" font-size="10.4" text-anchor="middle" fill="#1e1e1e">−1.0</text>
<path d="M56.8 356.5L56.8 358.5" stroke="#555" stroke-width="0.7"/>
<text x="56.8" y="366.8" font-size="10.4" text-anchor="middle" fill="#1e1e1e">−0.5</text>
<path d="M82.4 356.5L82.4 358.5" stroke="#555" stroke-width="0.7"/>
<text x="82.4" y="366.8" font-size="10.4" text-anchor="middle" fill="#1e1e1e">0.0</text>
<path d="M108 356.5L108 358.5" stroke="#555" stroke-width="0.7"/>
<text x="108" y="366.8" font-size="10.4" text-anchor="middle" fill="#1e1e1e">0.5</text>
<path d="M133.6 356.5L133.6 358.5" stroke="#555" stroke-width="0.7"/>
<text x="133.6" y="366.8" font-size="10.4" text-anchor="middle" fill="#1e1e1e">1.0</text>
<text x="11.2" y="305.9" font-size="14.2" text-anchor="middle" fill="#111" transform="rotate(-90 11.2 305.9)">Density</text>
<path d="M26.8 351.8C29.2 349.7 37.1 343.8 41.5 339.1C45.9 334.4 49.9 329 53.3 323.5C56.7 318 59.7 312.8 62.1 305.9C64.5 299 66.4 288.4 67.9 282.4C69.4 276.4 70.2 271 71.3 269.7C72.4 268.4 73.6 269.9 74.8 274.6C76 279.3 77.5 292.1 78.7 298C79.9 303.9 80.9 308.7 82.2 309.8C83.5 310.9 85.1 306.3 86.5 304.9C87.9 303.5 89.1 301.1 90.4 301.6C91.7 302.1 92.7 305.1 94.3 307.8C95.9 310.5 98.2 315.5 100.2 317.6C102.2 319.7 104.3 319.7 106.1 320.5C107.9 321.3 109 320.4 111 322.5C113 324.6 115.4 330.1 117.8 333.2C120.2 336.3 123 338.7 125.6 341.1C128.2 343.6 131.1 345.9 133.5 347.9C135.9 349.8 139.2 352 140.3 352.8" stroke="#b3343c" stroke-width="1.2" fill="none"/>
<path d="M26.8 352.8C29.6 350.9 38.8 345.3 43.5 341.1C48.2 336.9 51.6 332.6 55.2 327.4C58.8 322.2 62.4 316 65 309.8C67.6 303.6 69.4 295.5 70.9 290.2C72.4 284.9 72.7 278.4 73.8 278.1C74.9 277.8 76.3 282.7 77.7 288.3C79.1 293.9 80.7 311.1 82.2 311.7C83.7 312.3 85 297.2 86.5 292.2C88 287.1 89.8 282.2 91.4 281.4C93 280.6 94.2 283.4 96.3 287.3C98.4 291.2 101.8 299.5 104.1 304.9C106.4 310.3 108 315.4 110 319.6C112 323.8 113.8 327.7 115.9 330.3C118 332.9 120.4 333.1 122.7 335.2C125 337.3 126.6 340.1 129.5 343C132.4 345.9 138.5 351.2 140.3 352.8" stroke="#3847a8" stroke-width="1.2" fill="none"/>
<path d="M72.4 265.8L91.4 265.8" stroke="#555" stroke-width="0.8"/>
<text x="81.9" y="267" font-size="9" text-anchor="middle" fill="#333" font-weight="bold" textLength="19" lengthAdjust="spacingAndGlyphs">****</text>
<text x="102.2" y="279.8" font-size="9.5" fill="#b3343c" textLength="15.6" lengthAdjust="spacingAndGlyphs">-ExN</text>
<text x="102.2" y="289.2" font-size="9.5" fill="#3847a8" textLength="33.2" lengthAdjust="spacingAndGlyphs">-Non-ExN</text>
<text x="28" y="374.4" font-size="8.6" fill="#1e1e1e" textLength="21.3" lengthAdjust="spacingAndGlyphs">Child</text>
<path d="M52.5 372.4L108 372.4" stroke="#111" stroke-width="1.3"/>
<path d="M102.9 367.4L114.5 372.4L102.9 377.7L105.5 372.4" stroke="none" stroke-width="0" fill="#111"/>
<text x="116" y="374.4" font-size="8.6" fill="#1e1e1e" textLength="15" lengthAdjust="spacingAndGlyphs">Y.A.</text>
<text x="82.7" y="388.6" font-size="13.5" text-anchor="middle" fill="#222" font-family='"Liberation Serif", serif'>ΔΨ</text>
<text x="155.7" y="249.8" font-size="20">l</text>
<path d="M180.5 267L180.5 359.5" stroke="#555" stroke-width="0.9"/>
<path d="M178.1 359.5L180.5 359.5" stroke="#555" stroke-width="0.7"/>
<text x="177.3" y="359.5" font-size="8.2" text-anchor="middle" fill="#1e1e1e" transform="rotate(-90 177.3 359.5)">0</text>
<path d="M178.1 341L180.5 341" stroke="#555" stroke-width="0.7"/>
<text x="177.3" y="341" font-size="8.2" text-anchor="middle" fill="#1e1e1e" transform="rotate(-90 177.3 341)">5</text>
<path d="M178.1 322.5L180.5 322.5" stroke="#555" stroke-width="0.7"/>
<text x="177.3" y="322.5" font-size="8.2" text-anchor="middle" fill="#1e1e1e" transform="rotate(-90 177.3 322.5)">10</text>
<path d="M178.1 304L180.5 304" stroke="#555" stroke-width="0.7"/>
<text x="177.3" y="304" font-size="8.2" text-anchor="middle" fill="#1e1e1e" transform="rotate(-90 177.3 304)">15</text>
<path d="M178.1 285.5L180.5 285.5" stroke="#555" stroke-width="0.7"/>
<text x="177.3" y="285.5" font-size="8.2" text-anchor="middle" fill="#1e1e1e" transform="rotate(-90 177.3 285.5)">20</text>
<path d="M178.1 267L180.5 267" stroke="#555" stroke-width="0.7"/>
<text x="177.3" y="267" font-size="8.2" text-anchor="middle" fill="#1e1e1e" transform="rotate(-90 177.3 267)">25</text>
<rect x="188.9" y="358.4" width="39.9" height="2.4" fill="#111"/>
<rect x="238.6" y="284.9" width="40.1" height="74.6" fill="#2b3990" stroke="#1a1a1a" stroke-width="0.8"/>
<path d="M208.4 362.9L258.7 362.9" stroke="#999" stroke-width="0.7"/>
<path d="M208.4 362.9L208.4 364.7" stroke="#999" stroke-width="0.7"/>
<path d="M258.7 362.9L258.7 364.7" stroke="#999" stroke-width="0.7"/>
<text x="208.4" y="374" font-size="9" text-anchor="middle" fill="#222" textLength="27.5" lengthAdjust="spacingAndGlyphs">Cortex</text>
<text x="258.7" y="374" font-size="9" text-anchor="middle" fill="#222" textLength="15.5" lengthAdjust="spacingAndGlyphs">WM</text>
<text x="166.5" y="313" font-size="8.8" text-anchor="middle" fill="#222" transform="rotate(-90 166.5 313)" textLength="82" lengthAdjust="spacingAndGlyphs">% Significant Exons</text>
<text x="233.5" y="266.3" font-size="9.2" text-anchor="middle" fill="#222" textLength="75" lengthAdjust="spacingAndGlyphs">Oligodendrocytes</text>
<text x="313" y="250.4" font-size="20">m</text>
<rect x="328.3" y="257.8" width="16.7" height="31.7" fill="#f7e781" stroke="#c8c8b8" stroke-width="0.6"/>
<text x="336.7" y="274.8" font-size="6.8" text-anchor="middle" fill="#111" textLength="12.1" lengthAdjust="spacingAndGlyphs">3.9</text>
<rect x="345" y="257.8" width="16.7" height="31.7" fill="#f8e886" stroke="#c8c8b8" stroke-width="0.6"/>
<text x="353.4" y="274.8" font-size="6.8" text-anchor="middle" fill="#111" textLength="12.1" lengthAdjust="spacingAndGlyphs">3.8</text>
<rect x="361.7" y="257.8" width="16.7" height="31.7" fill="#fbf3b9" stroke="#c8c8b8" stroke-width="0.6"/>
<text x="370.1" y="274.8" font-size="6.8" text-anchor="middle" fill="#111" textLength="12.1" lengthAdjust="spacingAndGlyphs">2.5</text>
<rect x="378.4" y="257.8" width="16.7" height="31.7" fill="#f6e574" stroke="#c8c8b8" stroke-width="0.6"/>
<text x="386.8" y="274.8" font-size="6.8" text-anchor="middle" fill="#111" textLength="12.1" lengthAdjust="spacingAndGlyphs">4.3</text>
<rect x="395.1" y="257.8" width="16.7" height="31.7" fill="#fdf9df" stroke="#c8c8b8" stroke-width="0.6"/>
<text x="403.5" y="274.8" font-size="6.8" text-anchor="middle" fill="#111" textLength="12.1" lengthAdjust="spacingAndGlyphs">1.3</text>
<rect x="411.8" y="257.8" width="16.7" height="31.7" fill="#fefae5" stroke="#c8c8b8" stroke-width="0.6"/>
<text x="420.2" y="274.8" font-size="6.8" text-anchor="middle" fill="#111" textLength="12.1" lengthAdjust="spacingAndGlyphs">1.1</text>
<rect x="428.5" y="257.8" width="16.7" height="31.7" fill="#fcf7cf" stroke="#c8c8b8" stroke-width="0.6"/>
<text x="436.9" y="274.8" font-size="6.8" text-anchor="middle" fill="#111" textLength="12.1" lengthAdjust="spacingAndGlyphs">1.8</text>
<rect x="445.2" y="257.8" width="16.7" height="31.7" fill="#fdf9df" stroke="#c8c8b8" stroke-width="0.6"/>
<text x="453.6" y="274.8" font-size="6.8" text-anchor="middle" fill="#111" textLength="12.1" lengthAdjust="spacingAndGlyphs">1.3</text>
<rect x="461.9" y="257.8" width="16.7" height="31.7" fill="#fefced" stroke="#c8c8b8" stroke-width="0.6"/>
<text x="470.2" y="274.8" font-size="6.8" text-anchor="middle" fill="#111" textLength="12.1" lengthAdjust="spacingAndGlyphs">0.8</text>
<rect x="478.6" y="257.8" width="16.7" height="31.7" fill="#f9eca0" stroke="#c8c8b8" stroke-width="0.6"/>
<text x="487" y="274.8" font-size="6.8" text-anchor="middle" fill="#111" textLength="12.1" lengthAdjust="spacingAndGlyphs">3.2</text>
<rect x="495.3" y="257.8" width="16.7" height="31.7" fill="#f5e362" stroke="#c8c8b8" stroke-width="0.6"/>
<text x="503.7" y="274.8" font-size="6.8" text-anchor="middle" fill="#111" textLength="12.1" lengthAdjust="spacingAndGlyphs">4.9</text>
<rect x="512" y="257.8" width="16.7" height="31.7" fill="#fffdf6" stroke="#c8c8b8" stroke-width="0.6"/>
<text x="520.4" y="274.8" font-size="6.8" text-anchor="middle" fill="#111" textLength="12.1" lengthAdjust="spacingAndGlyphs">0.4</text>
<rect x="528.7" y="257.8" width="16.7" height="31.7" fill="#fefced" stroke="#c8c8b8" stroke-width="0.6"/>
<text x="537.1" y="274.8" font-size="6.8" text-anchor="middle" fill="#111" textLength="12.1" lengthAdjust="spacingAndGlyphs">0.8</text>
<rect x="545.4" y="257.8" width="16.7" height="31.7" fill="#f4e23e" stroke="#c8c8b8" stroke-width="0.6"/>
<text x="553.8" y="274.8" font-size="6.8" text-anchor="middle" fill="#111" textLength="12.1" lengthAdjust="spacingAndGlyphs">5.9</text>
<rect x="328.3" y="289.5" width="16.7" height="30.7" fill="#fefae2" stroke="#c8c8b8" stroke-width="0.6"/>
<text x="336.7" y="306.1" font-size="6.8" text-anchor="middle" fill="#111" textLength="12.1" lengthAdjust="spacingAndGlyphs">1.2</text>
<rect x="345" y="289.5" width="16.7" height="30.7" fill="#fdf9df" stroke="#c8c8b8" stroke-width="0.6"/>
<text x="353.4" y="306.1" font-size="6.8" text-anchor="middle" fill="#111" textLength="12.1" lengthAdjust="spacingAndGlyphs">1.3</text>
<rect x="361.7" y="289.5" width="16.7" height="30.7" fill="#fefbea" stroke="#c8c8b8" stroke-width="0.6"/>
<text x="370.1" y="306.1" font-size="6.8" text-anchor="middle" fill="#111" textLength="12.1" lengthAdjust="spacingAndGlyphs">0.9</text>
<rect x="378.4" y="289.5" width="16.7" height="30.7" fill="#fffef8" stroke="#c8c8b8" stroke-width="0.6"/>
<text x="386.8" y="306.1" font-size="6.8" text-anchor="middle" fill="#111" textLength="12.1" lengthAdjust="spacingAndGlyphs">0.3</text>
<rect x="395.1" y="289.5" width="16.7" height="30.7" fill="#fefae2" stroke="#c8c8b8" stroke-width="0.6"/>
<text x="403.5" y="306.1" font-size="6.8" text-anchor="middle" fill="#111" textLength="12.1" lengthAdjust="spacingAndGlyphs">1.2</text>
<rect x="411.8" y="289.5" width="16.7" height="30.7" fill="#f8e98e" stroke="#c8c8b8" stroke-width="0.6"/>
<text x="420.2" y="306.1" font-size="6.8" text-anchor="middle" fill="#111" textLength="12.1" lengthAdjust="spacingAndGlyphs">3.6</text>
<rect x="428.5" y="289.5" width="16.7" height="30.7" fill="#fbf2b5" stroke="#c8c8b8" stroke-width="0.6"/>
<text x="436.9" y="306.1" font-size="6.8" text-anchor="middle" fill="#111" textLength="12.1" lengthAdjust="spacingAndGlyphs">2.6</text>
<rect x="445.2" y="289.5" width="16.7" height="30.7" fill="#fce414" stroke="#c8c8b8" stroke-width="0.6"/>
<text x="453.6" y="306.1" font-size="6.8" text-anchor="middle" fill="#111" textLength="12.1" lengthAdjust="spacingAndGlyphs">8.3</text>
<rect x="461.9" y="289.5" width="16.7" height="30.7" fill="#fbe417" stroke="#c8c8b8" stroke-width="0.6"/>
<text x="470.2" y="306.1" font-size="6.8" text-anchor="middle" fill="#111" textLength="12.1" lengthAdjust="spacingAndGlyphs">8.1</text>
<rect x="478.6" y="289.5" width="16.7" height="30.7" fill="#ffe300" stroke="#c8c8b8" stroke-width="0.6"/>
<text x="487" y="306.1" font-size="6.8" text-anchor="middle" fill="#111" textLength="12.1" lengthAdjust="spacingAndGlyphs">9.1</text>
<rect x="495.3" y="289.5" width="16.7" height="30.7" fill="#faefab" stroke="#c8c8b8" stroke-width="0.6"/>
<text x="503.7" y="306.1" font-size="6.8" text-anchor="middle" fill="#111" textLength="12.1" lengthAdjust="spacingAndGlyphs">2.9</text>
<rect x="512" y="289.5" width="16.7" height="30.7" fill="#faa019" stroke="#c8c8b8" stroke-width="0.6"/>
<text x="520.4" y="306.1" font-size="6.8" text-anchor="middle" fill="#111" textLength="15.8" lengthAdjust="spacingAndGlyphs">13.6</text>
<rect x="528.7" y="289.5" width="16.7" height="30.7" fill="#ea5028" stroke="#c8c8b8" stroke-width="0.6"/>
<text x="537.1" y="306.1" font-size="6.8" text-anchor="middle" fill="#111" textLength="15.8" lengthAdjust="spacingAndGlyphs">18.0</text>
<rect x="545.4" y="289.5" width="16.7" height="30.7" fill="#ffdb00" stroke="#c8c8b8" stroke-width="0.6"/>
<text x="553.8" y="306.1" font-size="6.8" text-anchor="middle" fill="#111" textLength="12.1" lengthAdjust="spacingAndGlyphs">9.8</text>
<rect x="328.3" y="320.2" width="16.7" height="31.7" fill="#f6e46e" stroke="#c8c8b8" stroke-width="0.6"/>
<text x="336.7" y="338.6" font-size="6.8" text-anchor="middle" fill="#111" textLength="12.1" lengthAdjust="spacingAndGlyphs">4.5</text>
<rect x="345" y="320.2" width="16.7" height="31.7" fill="#f6e468" stroke="#c8c8b8" stroke-width="0.6"/>
<text x="353.4" y="338.6" font-size="6.8" text-anchor="middle" fill="#111" textLength="12.1" lengthAdjust="spacingAndGlyphs">4.7</text>
<rect x="361.7" y="320.2" width="16.7" height="31.7" fill="#f5e35f" stroke="#c8c8b8" stroke-width="0.6"/>
<text x="370.1" y="338.6" font-size="6.8" text-anchor="middle" fill="#111" textLength="12.1" lengthAdjust="spacingAndGlyphs">5.0</text>
<rect x="378.4" y="320.2" width="16.7" height="31.7" fill="#f9eca0" stroke="#c8c8b8" stroke-width="0.6"/>
<text x="386.8" y="338.6" font-size="6.8" text-anchor="middle" fill="#111" textLength="12.1" lengthAdjust="spacingAndGlyphs">3.2</text>
<rect x="395.1" y="320.2" width="16.7" height="31.7" fill="#f4e238" stroke="#c8c8b8" stroke-width="0.6"/>
<text x="403.5" y="338.6" font-size="6.8" text-anchor="middle" fill="#111" textLength="12.1" lengthAdjust="spacingAndGlyphs">6.1</text>
<rect x="411.8" y="320.2" width="16.7" height="31.7" fill="#fffefa" stroke="#c8c8b8" stroke-width="0.6"/>
<text x="420.2" y="338.6" font-size="6.8" text-anchor="middle" fill="#111" textLength="12.1" lengthAdjust="spacingAndGlyphs">0.2</text>
<rect x="428.5" y="320.2" width="16.7" height="31.7" fill="#fffef8" stroke="#c8c8b8" stroke-width="0.6"/>
<text x="436.9" y="338.6" font-size="6.8" text-anchor="middle" fill="#111" textLength="12.1" lengthAdjust="spacingAndGlyphs">0.3</text>
<rect x="445.2" y="320.2" width="16.7" height="31.7" fill="#fcf5c6" stroke="#c8c8b8" stroke-width="0.6"/>
<text x="453.6" y="338.6" font-size="6.8" text-anchor="middle" fill="#111" textLength="12.1" lengthAdjust="spacingAndGlyphs">2.1</text>
<rect x="461.9" y="320.2" width="16.7" height="31.7" fill="#fffefa" stroke="#c8c8b8" stroke-width="0.6"/>
<text x="470.2" y="338.6" font-size="6.8" text-anchor="middle" fill="#111" textLength="12.1" lengthAdjust="spacingAndGlyphs">0.2</text>
<rect x="478.6" y="320.2" width="16.7" height="31.7" fill="#fefced" stroke="#c8c8b8" stroke-width="0.6"/>
<text x="487" y="338.6" font-size="6.8" text-anchor="middle" fill="#111" textLength="12.1" lengthAdjust="spacingAndGlyphs">0.8</text>
<rect x="495.3" y="320.2" width="16.7" height="31.7" fill="#ffc900" stroke="#c8c8b8" stroke-width="0.6"/>
<text x="503.7" y="338.6" font-size="6.8" text-anchor="middle" fill="#111" textLength="15.8" lengthAdjust="spacingAndGlyphs">11.4</text>
<rect x="512" y="320.2" width="16.7" height="31.7" fill="#fefdf1" stroke="#c8c8b8" stroke-width="0.6"/>
<text x="520.4" y="338.6" font-size="6.8" text-anchor="middle" fill="#111" textLength="12.1" lengthAdjust="spacingAndGlyphs">0.6</text>
<rect x="528.7" y="320.2" width="16.7" height="31.7" fill="#fbf2b5" stroke="#c8c8b8" stroke-width="0.6"/>
<text x="537.1" y="338.6" font-size="6.8" text-anchor="middle" fill="#111" textLength="12.1" lengthAdjust="spacingAndGlyphs">2.6</text>
<rect x="545.4" y="320.2" width="16.7" height="31.7" fill="#8a50a5" stroke="#c8c8b8" stroke-width="0.6"/>
<text x="553.8" y="338.6" font-size="6.8" text-anchor="middle" fill="#111" textLength="15.8" lengthAdjust="spacingAndGlyphs">28.7</text>
<text x="310.3" y="277.4" font-size="10.3" fill="#111" textLength="16.6" lengthAdjust="spacingAndGlyphs">BG</text>
<text x="292.6" y="303.8" font-size="10" fill="#111" textLength="33.5" lengthAdjust="spacingAndGlyphs">Higher</text>
<text x="292.6" y="316.1" font-size="10" fill="#111" textLength="33" lengthAdjust="spacingAndGlyphs">in Y.A.</text>
<text x="290.8" y="337" font-size="10" fill="#111" textLength="33.6" lengthAdjust="spacingAndGlyphs">Higher</text>
<text x="290.8" y="348.2" font-size="10" fill="#111" textLength="37.4" lengthAdjust="spacingAndGlyphs">in Child</text>
<defs><linearGradient id="cbg" x1="0" y1="0" x2="0" y2="1"><stop offset="0" stop-color="#7d4fa0"/><stop offset="0.16" stop-color="#c2228a"/><stop offset="0.33" stop-color="#e0292c"/><stop offset="0.58" stop-color="#f5921f"/><stop offset="0.79" stop-color="#f8dc2a"/><stop offset="1" stop-color="#f4ef8c"/></linearGradient></defs>
<rect x="569" y="275.4" width="5.8" height="51.6" fill="url(#cbg)"/>
<text x="568.5" y="273.6" font-size="4.2" fill="#1e1e1e">% Domain</text>
<text x="577" y="284.7" font-size="3.9" fill="#1e1e1e">25</text>
<text x="577" y="295.7" font-size="3.9" fill="#1e1e1e">20</text>
<text x="577" y="306.2" font-size="3.9" fill="#1e1e1e">15</text>
<text x="577" y="316.6" font-size="3.9" fill="#1e1e1e">10</text>
<text x="577" y="326.6" font-size="3.9" fill="#1e1e1e">5</text>
<text x="340.7" y="354.5" font-size="7.8" text-anchor="end" fill="#111" transform="rotate(-50 340.7 354.5)" textLength="61.6" lengthAdjust="spacingAndGlyphs">MIF4G domain−like</text>
<text x="359" y="355.2" font-size="7.8" text-anchor="end" fill="#111" transform="rotate(-50 359 355.2)" textLength="47.6" lengthAdjust="spacingAndGlyphs">Ankyrin repeat</text>
<text x="372.8" y="353.7" font-size="7.8" text-anchor="end" fill="#111" transform="rotate(-50 372.8 353.7)" textLength="41.9" lengthAdjust="spacingAndGlyphs">I set domains</text>
<text x="384.5" y="354.7" font-size="7.8" text-anchor="end" fill="#111" transform="rotate(-50 384.5 354.7)" textLength="46.3" lengthAdjust="spacingAndGlyphs">Tandem AAA−</text>
<text x="394.7" y="353" font-size="7.8" text-anchor="end" fill="#111" transform="rotate(-50 394.7 353)" textLength="50.3" lengthAdjust="spacingAndGlyphs">ATPase domain</text>
<text x="407.3" y="353.7" font-size="7.8" text-anchor="end" fill="#111" transform="rotate(-50 407.3 353.7)" textLength="47.1" lengthAdjust="spacingAndGlyphs">Motor proteins</text>
<text x="418.3" y="353.7" font-size="7.8" text-anchor="end" fill="#111" transform="rotate(-50 418.3 353.7)" textLength="40.5" lengthAdjust="spacingAndGlyphs">Plakophilin 1</text>
<text x="429.5" y="354.5" font-size="7.8" text-anchor="end" fill="#111" transform="rotate(-50 429.5 354.5)" textLength="43.1" lengthAdjust="spacingAndGlyphs">helical region</text>
<text x="443.1" y="353.7" font-size="7.8" text-anchor="end" fill="#111" transform="rotate(-50 443.1 353.7)" textLength="41.9" lengthAdjust="spacingAndGlyphs">PHD domain</text>
<text x="459.2" y="353.9" font-size="7.8" text-anchor="end" fill="#111" transform="rotate(-50 459.2 353.9)" textLength="59.9" lengthAdjust="spacingAndGlyphs">Fibronectin type III</text>
<text x="474.8" y="353.9" font-size="7.8" text-anchor="end" fill="#111" transform="rotate(-50 474.8 353.9)" textLength="57.4" lengthAdjust="spacingAndGlyphs">EGF−type module</text>
<text x="490.7" y="353.7" font-size="7.8" text-anchor="end" fill="#111" transform="rotate(-50 490.7 353.7)" textLength="50.8" lengthAdjust="spacingAndGlyphs">catalytic subunit</text>
<text x="504.7" y="354.2" font-size="7.8" text-anchor="end" fill="#111" transform="rotate(-50 504.7 354.2)" textLength="44.8" lengthAdjust="spacingAndGlyphs">WD40−repeat</text>
<text x="521.3" y="354.2" font-size="7.8" text-anchor="end" fill="#111" transform="rotate(-50 521.3 354.2)" textLength="45.2" lengthAdjust="spacingAndGlyphs">Voltage−gated</text>
<text x="530.1" y="355.1" font-size="7.8" text-anchor="end" fill="#111" transform="rotate(-50 530.1 355.1)" textLength="42.8" lengthAdjust="spacingAndGlyphs">K+ channels</text>
<text x="542.3" y="354.2" font-size="7.8" text-anchor="end" fill="#111" transform="rotate(-50 542.3 354.2)" textLength="44" lengthAdjust="spacingAndGlyphs">Bromodomain</text>
<text x="558.5" y="353.7" font-size="7.8" text-anchor="end" fill="#111" transform="rotate(-50 558.5 353.7)" textLength="53.2" lengthAdjust="spacingAndGlyphs">Armadillo repeat</text>
<path d="M68.40 156.00A23.60 23.60 0 0 1 68.40 203.20L68.40 192.30A12.70 12.70 0 0 0 68.40 166.90Z" fill="#d8373d" stroke="#fff" stroke-width="0.6"/>
<path d="M68.40 203.20A23.60 23.60 0 0 1 68.40 156.00L68.40 166.90A12.70 12.70 0 0 0 68.40 192.30ZM103.22 187.00A35.60 35.60 0 0 1 95.67 202.48L86.94 195.16A24.20 24.20 0 0 0 92.07 184.63ZM87.27 209.79A35.60 35.60 0 0 1 77.01 214.14L74.25 203.08A24.20 24.20 0 0 0 81.22 200.12ZM67.16 215.18A35.60 35.60 0 0 1 50.60 210.43L56.30 200.56A24.20 24.20 0 0 0 67.56 203.79ZM50.60 210.43A35.60 35.60 0 0 1 37.57 197.40L47.44 191.70A24.20 24.20 0 0 0 56.30 200.56ZM37.57 197.40A35.60 35.60 0 0 1 32.80 179.60L44.20 179.60A24.20 24.20 0 0 0 47.44 191.70ZM32.80 179.60A35.60 35.60 0 0 1 36.68 163.44L46.84 168.61A24.20 24.20 0 0 0 44.20 179.60ZM36.68 163.44A35.60 35.60 0 0 1 47.98 150.44L54.52 159.78A24.20 24.20 0 0 0 46.84 168.61ZM105.32 210.58A48.20 48.20 0 0 1 96.05 219.08L89.16 209.25A36.20 36.20 0 0 0 96.13 202.87ZM66.72 227.77A48.20 48.20 0 0 1 44.30 221.34L50.30 210.95A36.20 36.20 0 0 0 67.14 215.78ZM44.30 221.34A48.20 48.20 0 0 1 34.32 213.68L42.80 205.20A36.20 36.20 0 0 0 50.30 210.95ZM24.72 199.97A48.20 48.20 0 0 1 20.93 187.97L32.75 185.89A36.20 36.20 0 0 0 35.59 194.90ZM20.93 187.97A48.20 48.20 0 0 1 20.20 179.60L32.20 179.60A36.20 36.20 0 0 0 32.75 185.89ZM49.80 236.85A60.20 60.20 0 0 1 41.07 233.24L46.25 223.08A48.80 48.80 0 0 0 53.32 226.01ZM23.66 139.32A60.20 60.20 0 0 1 30.51 132.82L37.69 141.68A48.80 48.80 0 0 0 32.13 146.95ZM82.25 108.33A72.60 72.60 0 0 1 97.93 113.28L93.13 124.06A60.80 60.80 0 0 0 80.00 119.92Z" fill="#a9aaad" stroke="#fff" stroke-width="0.6"/>
<path d="M68.40 144.00A35.60 35.60 0 0 1 96.83 158.18L87.73 165.04A24.20 24.20 0 0 0 68.40 155.40Z" fill="#9db4df" stroke="#fff" stroke-width="0.6"/>
<path d="M96.83 158.18A35.60 35.60 0 0 1 104.00 179.60L92.60 179.60A24.20 24.20 0 0 0 87.73 165.04Z" fill="#a7bee6" stroke="#fff" stroke-width="0.6"/>
<path d="M104.00 179.60A35.60 35.60 0 0 1 103.22 187.00L92.07 184.63A24.20 24.20 0 0 0 92.60 179.60ZM95.67 202.48A35.60 35.60 0 0 1 87.27 209.79L81.22 200.12A24.20 24.20 0 0 0 86.94 195.16ZM72.74 214.93A35.60 35.60 0 0 1 67.16 215.18L67.56 203.79A24.20 24.20 0 0 0 71.35 203.62ZM88.77 135.92A48.20 48.20 0 0 1 101.27 144.35L93.09 153.12A36.20 36.20 0 0 0 83.70 146.79ZM101.27 144.35A48.20 48.20 0 0 1 110.14 155.50L99.75 161.50A36.20 36.20 0 0 0 93.09 153.12ZM116.60 179.60A48.20 48.20 0 0 1 115.55 189.62L103.81 187.13A36.20 36.20 0 0 0 104.60 179.60ZM115.55 189.62A48.20 48.20 0 0 1 111.72 200.73L100.94 195.47A36.20 36.20 0 0 0 103.81 187.13ZM96.05 219.08A48.20 48.20 0 0 1 84.89 224.89L80.78 213.62A36.20 36.20 0 0 0 89.16 209.25ZM84.89 224.89A48.20 48.20 0 0 1 70.08 227.77L69.66 215.78A36.20 36.20 0 0 0 80.78 213.62ZM20.20 179.60A48.20 48.20 0 0 1 23.11 163.11L34.38 167.22A36.20 36.20 0 0 0 32.20 179.60ZM23.11 163.11A48.20 48.20 0 0 1 28.92 151.95L38.75 158.84A36.20 36.20 0 0 0 34.38 167.22ZM28.92 151.95A48.20 48.20 0 0 1 32.58 147.35L41.50 155.38A36.20 36.20 0 0 0 38.75 158.84ZM128.37 174.35A60.20 60.20 0 0 1 127.69 190.05L116.46 188.07A48.80 48.80 0 0 0 117.01 175.35ZM118.89 212.39A60.20 60.20 0 0 1 108.68 224.34L101.05 215.87A48.80 48.80 0 0 0 109.33 206.18ZM105.46 227.04A60.20 60.20 0 0 1 92.89 234.60L88.25 224.18A48.80 48.80 0 0 0 98.44 218.05ZM66.30 239.76A60.20 60.20 0 0 1 57.95 238.89L59.93 227.66A48.80 48.80 0 0 0 66.70 228.37ZM57.95 238.89A60.20 60.20 0 0 1 49.80 236.85L53.32 226.01A48.80 48.80 0 0 0 59.93 227.66ZM33.87 228.91A60.20 60.20 0 0 1 22.28 218.30L31.02 210.97A48.80 48.80 0 0 0 40.41 219.57ZM8.20 179.60A60.20 60.20 0 0 1 10.25 164.02L21.26 166.97A48.80 48.80 0 0 0 19.60 179.60ZM16.27 149.50A60.20 60.20 0 0 1 22.97 140.11L31.57 147.58A48.80 48.80 0 0 0 26.14 155.20ZM68.40 107.00A72.60 72.60 0 0 1 81.01 108.10L78.96 119.72A60.80 60.80 0 0 0 68.40 118.80Z" fill="#cdcdcd" stroke="#fff" stroke-width="0.6"/>
<path d="M77.01 214.14A35.60 35.60 0 0 1 72.74 214.93L71.35 203.62A24.20 24.20 0 0 0 74.25 203.08Z" fill="#9fbae4" stroke="#fff" stroke-width="0.6"/>
<path d="M47.98 150.44A35.60 35.60 0 0 1 50.60 148.77L56.30 158.64A24.20 24.20 0 0 0 54.52 159.78ZM50.60 148.77A35.60 35.60 0 0 1 53.35 147.34L58.17 157.67A24.20 24.20 0 0 0 56.30 158.64ZM53.35 147.34A35.60 35.60 0 0 1 56.22 146.15L60.12 156.86A24.20 24.20 0 0 0 58.17 157.67ZM56.22 146.15A35.60 35.60 0 0 1 59.19 145.21L62.14 156.22A24.20 24.20 0 0 0 60.12 156.86ZM59.19 145.21A35.60 35.60 0 0 1 62.22 144.54L64.20 155.77A24.20 24.20 0 0 0 62.14 156.22ZM62.22 144.54A35.60 35.60 0 0 1 65.30 144.14L66.29 155.49A24.20 24.20 0 0 0 64.20 155.77ZM65.30 144.14A35.60 35.60 0 0 1 68.40 144.00L68.40 155.40A24.20 24.20 0 0 0 66.29 155.49ZM111.72 200.73A48.20 48.20 0 0 1 105.32 210.58L96.13 202.87A36.20 36.20 0 0 0 100.94 195.47ZM95.73 125.96A60.20 60.20 0 0 1 107.10 133.48L99.77 142.22A48.80 48.80 0 0 0 90.55 136.12ZM109.46 135.57A60.20 60.20 0 0 1 118.89 146.81L109.33 153.02A48.80 48.80 0 0 0 101.68 143.91ZM120.53 149.50A60.20 60.20 0 0 1 125.65 161.00L114.81 164.52A48.80 48.80 0 0 0 110.66 155.20ZM127.28 192.12A60.20 60.20 0 0 1 122.96 205.04L112.63 200.22A48.80 48.80 0 0 0 116.13 189.75ZM88.99 236.17A60.20 60.20 0 0 1 76.78 239.21L75.19 227.93A48.80 48.80 0 0 0 85.09 225.46ZM10.25 164.02A60.20 60.20 0 0 1 16.27 149.50L26.14 155.20A48.80 48.80 0 0 0 21.26 166.97ZM140.90 175.80A72.60 72.60 0 0 1 139.41 194.69L127.87 192.24A60.80 60.80 0 0 0 129.12 176.42ZM139.41 194.69A72.60 72.60 0 0 1 135.71 206.80L124.77 202.38A60.80 60.80 0 0 0 127.87 192.24ZM119.74 230.94A72.60 72.60 0 0 1 107.94 240.49L101.51 230.59A60.80 60.80 0 0 0 111.39 222.59ZM5.53 215.90A72.60 72.60 0 0 1 0.18 204.43L11.27 200.39A60.80 60.80 0 0 0 15.75 210.00ZM0.18 204.43A72.60 72.60 0 0 1 -2.61 194.69L8.93 192.24A60.80 60.80 0 0 0 11.27 200.39ZM0.18 154.77A72.60 72.60 0 0 1 8.93 137.96L18.60 144.73A60.80 60.80 0 0 0 11.27 158.81ZM19.76 134.25A66.50 66.50 0 0 1 26.55 127.92L30.14 132.35A60.80 60.80 0 0 0 23.93 138.13Z" fill="#d8d8d8" stroke="#fff" stroke-width="0.6"/>
<path d="M68.40 131.40A48.20 48.20 0 0 1 88.77 135.92L83.70 146.79A36.20 36.20 0 0 0 68.40 143.40Z" fill="#8790cf" stroke="#fff" stroke-width="0.6"/>
<path d="M110.14 155.50A48.20 48.20 0 0 1 113.69 163.11L102.42 167.22A36.20 36.20 0 0 0 99.75 161.50Z" fill="#a8c0e8" stroke="#fff" stroke-width="0.6"/>
<path d="M113.69 163.11A48.20 48.20 0 0 1 116.60 179.60L104.60 179.60A36.20 36.20 0 0 0 102.42 167.22ZM34.32 213.68A48.20 48.20 0 0 1 24.72 199.97L35.59 194.90A36.20 36.20 0 0 0 42.80 205.20ZM22.28 218.30A60.20 60.20 0 0 1 16.27 209.70L26.14 204.00A48.80 48.80 0 0 0 31.02 210.97ZM16.27 209.70A60.20 60.20 0 0 1 10.25 195.18L21.26 192.23A48.80 48.80 0 0 0 26.14 204.00ZM10.25 195.18A60.20 60.20 0 0 1 8.20 179.60L19.60 179.60A48.80 48.80 0 0 0 21.26 192.23Z" fill="#bcbcbe" stroke="#fff" stroke-width="0.6"/>
<path d="M32.58 147.35A48.20 48.20 0 0 1 37.42 142.68L45.13 151.87A36.20 36.20 0 0 0 41.50 155.38Z" fill="#a0b9e2" stroke="#fff" stroke-width="0.6"/>
<path d="M68.40 119.40A60.20 60.20 0 0 1 93.84 125.04L89.02 135.37A48.80 48.80 0 0 0 68.40 130.80Z" fill="#a5a5a7" stroke="#fff" stroke-width="0.6"/>
<circle cx="68.4" cy="179.6" r="12" fill="#d8373d" stroke="#fff" stroke-width="0.6"/>
<path d="M225.40 155.60A24.00 24.00 0 0 1 249.40 179.60L238.20 179.60A12.80 12.80 0 0 0 225.40 166.80Z" fill="#7b70c0" stroke="#fff" stroke-width="0.5"/>
<path d="M249.40 179.60A24.00 24.00 0 0 1 225.40 203.60L225.40 192.40A12.80 12.80 0 0 0 238.20 179.60ZM225.40 203.60A24.00 24.00 0 0 1 208.43 196.57L216.35 188.65A12.80 12.80 0 0 0 225.40 192.40ZM201.40 179.60A24.00 24.00 0 0 1 208.43 162.63L216.35 170.55A12.80 12.80 0 0 0 212.60 179.60ZM208.43 162.63A24.00 24.00 0 0 1 225.40 155.60L225.40 166.80A12.80 12.80 0 0 0 216.35 170.55ZM225.40 143.20A36.40 36.40 0 0 1 243.60 148.08L237.70 158.30A24.60 24.60 0 0 0 225.40 155.00ZM243.60 148.08A36.40 36.40 0 0 1 256.92 161.40L246.70 167.30A24.60 24.60 0 0 0 237.70 158.30ZM244.69 210.47A36.40 36.40 0 0 1 228.57 215.86L227.54 204.11A24.60 24.60 0 0 0 238.44 200.46ZM228.57 215.86A36.40 36.40 0 0 1 212.95 213.80L216.99 202.72A24.60 24.60 0 0 0 227.54 204.11ZM204.52 209.42A36.40 36.40 0 0 1 193.26 196.69L203.68 191.15A24.60 24.60 0 0 0 211.29 199.75ZM193.26 196.69A36.40 36.40 0 0 1 189.00 179.60L200.80 179.60A24.60 24.60 0 0 0 203.68 191.15ZM195.58 158.72A36.40 36.40 0 0 1 199.66 153.86L208.01 162.21A24.60 24.60 0 0 0 205.25 165.49ZM225.40 130.20A49.40 49.40 0 0 1 238.19 131.88L234.98 143.86A37.00 37.00 0 0 0 225.40 142.60ZM253.73 139.13A49.40 49.40 0 0 1 262.11 146.54L252.90 154.84A37.00 37.00 0 0 0 246.62 149.29ZM274.80 179.60A49.40 49.40 0 0 1 273.72 189.87L261.59 187.29A37.00 37.00 0 0 0 262.40 179.60ZM273.72 189.87A49.40 49.40 0 0 1 270.17 200.48L258.93 195.24A37.00 37.00 0 0 0 261.59 187.29ZM194.99 218.53A49.40 49.40 0 0 1 184.93 207.93L195.09 200.82A37.00 37.00 0 0 0 202.62 208.76ZM192.99 142.32A49.40 49.40 0 0 1 204.52 134.83L209.76 146.07A37.00 37.00 0 0 0 201.13 151.68ZM174.52 211.40A60.00 60.00 0 0 1 167.44 195.13L177.10 192.54A50.00 50.00 0 0 0 183.00 206.10ZM186.04 134.32A60.00 60.00 0 0 1 200.04 125.22L204.27 134.28A50.00 50.00 0 0 0 192.60 141.86Z" fill="#a9aaad" stroke="#fff" stroke-width="0.5"/>
<path d="M208.43 196.57A24.00 24.00 0 0 1 201.40 179.60L212.60 179.60A12.80 12.80 0 0 0 216.35 188.65ZM262.34 132.32A60.00 60.00 0 0 1 273.94 144.33L265.85 150.21A50.00 50.00 0 0 0 256.18 140.20Z" fill="#cdcdcd" stroke="#fff" stroke-width="0.5"/>
<path d="M261.45 184.67A36.40 36.40 0 0 1 244.69 210.47L238.44 200.46A24.60 24.60 0 0 0 249.76 183.02ZM212.95 213.80A36.40 36.40 0 0 1 204.52 209.42L211.29 199.75A24.60 24.60 0 0 0 216.99 202.72ZM199.66 153.86A36.40 36.40 0 0 1 207.20 148.08L213.10 158.30A24.60 24.60 0 0 0 208.01 162.21ZM284.09 192.07A60.00 60.00 0 0 1 282.46 198.14L272.95 195.05A50.00 50.00 0 0 0 274.31 190.00ZM207.86 236.98A60.00 60.00 0 0 1 203.90 235.61L207.48 226.28A50.00 50.00 0 0 0 210.78 227.42Z" fill="#9fc0e6" stroke="#fff" stroke-width="0.5"/>
<path d="M238.19 131.88A49.40 49.40 0 0 1 250.10 136.82L243.90 147.56A37.00 37.00 0 0 0 234.98 143.86ZM262.11 146.54A49.40 49.40 0 0 1 267.29 153.42L256.78 159.99A37.00 37.00 0 0 0 252.90 154.84ZM184.93 207.93A49.40 49.40 0 0 1 177.68 192.39L189.66 189.18A37.00 37.00 0 0 0 195.09 200.82ZM285.40 179.60A60.00 60.00 0 0 1 284.09 192.07L274.31 190.00A50.00 50.00 0 0 0 275.40 179.60ZM282.46 198.14A60.00 60.00 0 0 1 279.33 205.90L270.34 201.52A50.00 50.00 0 0 0 272.95 195.05ZM188.46 226.88A60.00 60.00 0 0 1 174.52 211.40L183.00 206.10A50.00 50.00 0 0 0 194.62 219.00ZM295.36 182.04A70.00 70.00 0 0 1 289.35 208.07L280.76 204.25A60.60 60.60 0 0 0 285.96 181.71ZM182.30 124.44A70.00 70.00 0 0 1 194.71 116.68L198.83 125.13A60.60 60.60 0 0 0 188.09 131.85Z" fill="#bcbcbe" stroke="#fff" stroke-width="0.5"/>
<path d="M225.40 119.60A60.00 60.00 0 0 1 228.59 119.68L228.06 129.67A50.00 50.00 0 0 0 225.40 129.60ZM233.43 120.14A60.00 60.00 0 0 1 235.80 120.51L234.07 130.36A50.00 50.00 0 0 0 232.09 130.05ZM235.80 120.51A60.00 60.00 0 0 1 238.20 120.98L236.07 130.75A50.00 50.00 0 0 0 234.07 130.36ZM238.20 120.98A60.00 60.00 0 0 1 239.92 121.38L237.50 131.09A50.00 50.00 0 0 0 236.07 130.75ZM239.92 121.38A60.00 60.00 0 0 1 243.35 122.35L240.35 131.89A50.00 50.00 0 0 0 237.50 131.09ZM250.78 125.23A60.00 60.00 0 0 1 253.70 126.69L248.98 135.51A50.00 50.00 0 0 0 246.55 134.29ZM255.97 127.97A60.00 60.00 0 0 1 258.47 129.54L252.96 137.88A50.00 50.00 0 0 0 250.88 136.58ZM271.62 162.17A49.40 49.40 0 0 1 272.21 163.81L260.46 167.78A37.00 37.00 0 0 0 260.02 166.55ZM259.89 167.97A36.40 36.40 0 0 1 260.50 169.96L249.12 173.09A24.60 24.60 0 0 0 248.71 171.74ZM261.16 172.80A36.40 36.40 0 0 1 261.43 174.43L249.75 176.10A24.60 24.60 0 0 0 249.57 175.00ZM261.64 176.20A36.40 36.40 0 0 1 261.75 177.74L249.97 178.34A24.60 24.60 0 0 0 249.89 177.30ZM261.75 177.74A36.40 36.40 0 0 1 261.79 178.88L250.00 179.11A24.60 24.60 0 0 0 249.97 178.34ZM295.40 179.60A70.00 70.00 0 0 1 295.36 181.98L285.96 181.66A60.60 60.60 0 0 0 286.00 179.60ZM261.66 182.76A36.40 36.40 0 0 1 261.51 184.21L249.80 182.71A24.60 24.60 0 0 0 249.91 181.74ZM270.80 218.83A60.00 60.00 0 0 1 269.44 220.34L262.10 213.55A50.00 50.00 0 0 0 263.23 212.29ZM252.99 220.58A49.40 49.40 0 0 1 251.76 221.38L245.14 210.89A37.00 37.00 0 0 0 246.06 210.29ZM251.76 221.38A49.40 49.40 0 0 1 250.12 222.37L243.92 211.63A37.00 37.00 0 0 0 245.14 210.89ZM243.53 225.55A49.40 49.40 0 0 1 240.98 226.48L237.07 214.71A37.00 37.00 0 0 0 238.98 214.02ZM234.07 228.23A49.40 49.40 0 0 1 231.94 228.56L230.30 216.27A37.00 37.00 0 0 0 231.90 216.03ZM228.11 228.93A49.40 49.40 0 0 1 226.50 228.99L226.22 216.59A37.00 37.00 0 0 0 227.43 216.54ZM224.79 229.00A49.40 49.40 0 0 1 223.33 228.96L223.85 216.57A37.00 37.00 0 0 0 224.94 216.60ZM223.33 228.96A49.40 49.40 0 0 1 221.62 228.86L222.57 216.49A37.00 37.00 0 0 0 223.85 216.57ZM212.31 227.23A49.40 49.40 0 0 1 209.94 226.52L213.82 214.74A37.00 37.00 0 0 0 215.60 215.28ZM207.44 225.62A49.40 49.40 0 0 1 204.92 224.56L210.06 213.27A37.00 37.00 0 0 0 211.95 214.07ZM199.78 221.84A49.40 49.40 0 0 1 197.99 220.70L204.87 210.38A37.00 37.00 0 0 0 206.21 211.24ZM175.18 228.36A70.00 70.00 0 0 1 173.55 226.63L180.51 220.31A60.60 60.60 0 0 0 181.92 221.81ZM166.14 233.35A80.00 80.00 0 0 1 163.46 230.23L170.74 224.28A70.60 70.60 0 0 0 173.11 227.03ZM165.55 215.91A70.00 70.00 0 0 1 164.29 213.75L172.50 209.16A60.60 60.60 0 0 0 173.59 211.03ZM163.17 211.65A70.00 70.00 0 0 1 161.78 208.81L170.33 204.89A60.60 60.60 0 0 0 171.53 207.35ZM160.76 206.46A70.00 70.00 0 0 1 159.34 202.74L168.21 199.64A60.60 60.60 0 0 0 169.44 202.86ZM166.99 193.33A60.00 60.00 0 0 1 166.57 191.37L176.37 189.41A50.00 50.00 0 0 0 176.73 191.05ZM176.96 189.29A49.40 49.40 0 0 1 176.69 187.84L188.92 185.78A37.00 37.00 0 0 0 189.12 186.86ZM166.24 189.61A60.00 60.00 0 0 1 165.88 187.18L175.80 185.92A50.00 50.00 0 0 0 176.10 187.95ZM165.88 187.18A60.00 60.00 0 0 1 165.55 183.84L175.53 183.13A50.00 50.00 0 0 0 175.80 185.92ZM165.55 183.84A60.00 60.00 0 0 1 165.41 180.43L175.40 180.29A50.00 50.00 0 0 0 175.53 183.13ZM165.41 180.43A60.00 60.00 0 0 1 165.40 179.60L175.40 179.60A50.00 50.00 0 0 0 175.40 180.29ZM145.40 179.60A80.00 80.00 0 0 1 145.46 176.56L154.85 176.91A70.60 70.60 0 0 0 154.80 179.60ZM189.15 176.33A36.40 36.40 0 0 1 189.40 174.25L201.07 175.98A24.60 24.60 0 0 0 200.90 177.39ZM165.64 174.22A60.00 60.00 0 0 1 166.05 170.78L175.94 172.25A50.00 50.00 0 0 0 175.60 175.11ZM176.88 170.34A49.40 49.40 0 0 1 177.25 168.57L189.33 171.34A37.00 37.00 0 0 0 189.06 172.66ZM190.18 170.41A36.40 36.40 0 0 1 190.46 169.41L201.78 172.71A24.60 24.60 0 0 0 201.60 173.39ZM147.99 159.41A80.00 80.00 0 0 1 148.60 157.20L157.63 159.83A70.60 70.60 0 0 0 157.09 161.78ZM190.89 168.03A36.40 36.40 0 0 1 191.39 166.63L202.41 170.83A24.60 24.60 0 0 0 202.08 171.78ZM191.39 166.63A36.40 36.40 0 0 1 191.77 165.67L202.67 170.18A24.60 24.60 0 0 0 202.41 170.83ZM191.77 165.67A36.40 36.40 0 0 1 192.50 164.02L203.17 169.07A24.60 24.60 0 0 0 202.67 170.18ZM151.49 148.98A80.00 80.00 0 0 1 153.10 145.36L161.59 149.38A70.60 70.60 0 0 0 160.18 152.57ZM192.50 164.02A36.40 36.40 0 0 1 193.42 162.21L203.79 167.84A24.60 24.60 0 0 0 203.17 169.07ZM172.69 150.93A60.00 60.00 0 0 1 173.58 149.35L182.22 154.39A50.00 50.00 0 0 0 181.48 155.71ZM182.74 154.70A49.40 49.40 0 0 1 184.07 152.54L194.44 159.34A37.00 37.00 0 0 0 193.45 160.95ZM173.58 149.35A60.00 60.00 0 0 1 175.20 146.74L183.57 152.22A50.00 50.00 0 0 0 182.22 154.39ZM168.46 138.88A70.00 70.00 0 0 1 170.07 136.72L177.50 142.48A60.60 60.60 0 0 0 176.11 144.35ZM160.33 133.06A80.00 80.00 0 0 1 162.17 130.59L169.60 136.35A70.60 70.60 0 0 0 167.98 138.53ZM173.91 132.18A70.00 70.00 0 0 1 176.50 129.51L183.07 136.24A60.60 60.60 0 0 0 180.82 138.55ZM178.56 127.58A70.00 70.00 0 0 1 181.66 124.95L187.53 132.29A60.60 60.60 0 0 0 184.85 134.57ZM209.30 146.95A36.40 36.40 0 0 1 210.02 146.61L215.00 157.30A24.60 24.60 0 0 0 214.52 157.54ZM212.00 145.76A36.40 36.40 0 0 1 213.68 145.14L217.48 156.31A24.60 24.60 0 0 0 216.34 156.73ZM209.50 132.83A49.40 49.40 0 0 1 211.09 132.32L214.68 144.19A37.00 37.00 0 0 0 213.49 144.57ZM206.08 122.79A60.00 60.00 0 0 1 208.02 122.17L210.92 131.74A50.00 50.00 0 0 0 209.30 132.26ZM202.86 113.33A70.00 70.00 0 0 1 205.12 112.60L207.85 121.60A60.60 60.60 0 0 0 205.89 122.23ZM199.65 103.86A80.00 80.00 0 0 1 202.23 103.03L204.95 112.03A70.60 70.60 0 0 0 202.67 112.76ZM214.86 144.76A36.40 36.40 0 0 1 216.01 144.43L219.05 155.83A24.60 24.60 0 0 0 218.27 156.05ZM212.65 131.87A49.40 49.40 0 0 1 215.24 131.26L217.79 143.39A37.00 37.00 0 0 0 215.85 143.85ZM217.91 143.98A36.40 36.40 0 0 1 218.98 143.77L221.06 155.39A24.60 24.60 0 0 0 220.34 155.53ZM213.05 110.70A70.00 70.00 0 0 1 215.01 110.38L216.41 119.67A60.60 60.60 0 0 0 214.71 119.95ZM218.07 130.75A49.40 49.40 0 0 1 220.34 130.46L221.61 142.79A37.00 37.00 0 0 0 219.91 143.01Z" fill="#d3d3d3" stroke="#fff" stroke-width="0.5"/>
<path d="M228.59 119.68A60.00 60.00 0 0 1 231.23 119.88L230.26 129.84A50.00 50.00 0 0 0 228.06 129.67ZM231.23 119.88A60.00 60.00 0 0 1 233.43 120.14L232.09 130.05A50.00 50.00 0 0 0 230.26 129.84ZM247.69 123.89A60.00 60.00 0 0 1 250.78 125.23L246.55 134.29A50.00 50.00 0 0 0 243.97 133.18ZM252.63 138.38A49.40 49.40 0 0 1 253.73 139.13L246.62 149.29A37.00 37.00 0 0 0 245.79 148.73ZM274.57 145.21A60.00 60.00 0 0 1 275.96 147.29L267.53 152.67A50.00 50.00 0 0 0 266.37 150.94ZM257.50 162.44A36.40 36.40 0 0 1 258.19 163.80L247.56 168.92A24.60 24.60 0 0 0 247.09 168.00ZM259.46 166.76A36.40 36.40 0 0 1 259.89 167.97L248.71 171.74A24.60 24.60 0 0 0 248.42 170.92ZM272.21 163.81A49.40 49.40 0 0 1 273.04 166.52L261.08 169.80A37.00 37.00 0 0 0 260.46 167.78ZM260.50 169.96A36.40 36.40 0 0 1 260.85 171.35L249.36 174.03A24.60 24.60 0 0 0 249.12 173.09ZM273.04 166.52A49.40 49.40 0 0 1 273.52 168.41L261.44 171.22A37.00 37.00 0 0 0 261.08 169.80ZM260.85 171.35A36.40 36.40 0 0 1 261.16 172.80L249.57 175.00A24.60 24.60 0 0 0 249.36 174.03ZM261.43 174.43A36.40 36.40 0 0 1 261.64 176.20L249.89 177.30A24.60 24.60 0 0 0 249.75 176.10ZM261.80 179.60A36.40 36.40 0 0 1 261.78 180.84L249.99 180.44A24.60 24.60 0 0 0 250.00 179.60ZM277.81 208.80A60.00 60.00 0 0 1 276.51 211.03L267.99 205.79A50.00 50.00 0 0 0 269.08 203.94ZM274.33 214.32A60.00 60.00 0 0 1 272.26 217.07L264.45 210.82A50.00 50.00 0 0 0 266.18 208.54ZM263.98 210.45A49.40 49.40 0 0 1 262.78 211.90L253.39 203.79A37.00 37.00 0 0 0 254.30 202.71ZM262.78 211.90A49.40 49.40 0 0 1 261.66 213.15L252.56 204.73A37.00 37.00 0 0 0 253.39 203.79ZM260.27 214.59A49.40 49.40 0 0 1 258.30 216.45L250.04 207.20A37.00 37.00 0 0 0 251.52 205.81ZM255.70 218.61A49.40 49.40 0 0 1 254.47 219.54L247.17 209.52A37.00 37.00 0 0 0 248.10 208.82ZM262.21 226.98A60.00 60.00 0 0 1 260.71 228.11L254.82 220.03A50.00 50.00 0 0 0 256.07 219.09ZM258.90 229.37A60.00 60.00 0 0 1 257.41 230.35L252.08 221.89A50.00 50.00 0 0 0 253.32 221.08ZM250.10 222.38A49.40 49.40 0 0 1 247.67 223.69L242.08 212.63A37.00 37.00 0 0 0 243.90 211.64ZM238.48 227.24A49.40 49.40 0 0 1 236.55 227.73L233.75 215.65A37.00 37.00 0 0 0 235.20 215.28ZM214.83 227.86A49.40 49.40 0 0 1 212.31 227.23L215.60 215.28A37.00 37.00 0 0 0 217.49 215.74ZM204.92 224.56A49.40 49.40 0 0 1 202.67 223.46L208.38 212.45A37.00 37.00 0 0 0 210.06 213.27ZM201.03 222.57A49.40 49.40 0 0 1 199.78 221.84L206.21 211.24A37.00 37.00 0 0 0 207.15 211.78ZM194.28 230.90A60.00 60.00 0 0 1 192.11 229.52L197.66 221.20A50.00 50.00 0 0 0 199.47 222.35ZM179.90 232.79A70.00 70.00 0 0 1 177.44 230.58L183.88 223.74A60.60 60.60 0 0 0 186.01 225.65ZM168.00 235.33A80.00 80.00 0 0 1 166.14 233.35L173.11 227.03A70.60 70.60 0 0 0 174.75 228.78ZM173.55 226.63A70.00 70.00 0 0 1 171.20 223.90L178.48 217.95A60.60 60.60 0 0 0 180.51 220.31ZM169.40 221.60A70.00 70.00 0 0 1 168.19 219.93L175.87 214.52A60.60 60.60 0 0 0 176.92 215.96ZM177.68 192.39A49.40 49.40 0 0 1 177.31 190.91L189.38 188.07A37.00 37.00 0 0 0 189.66 189.18ZM176.40 185.84A49.40 49.40 0 0 1 176.12 183.09L188.49 182.22A37.00 37.00 0 0 0 188.70 184.27ZM155.41 180.57A70.00 70.00 0 0 1 155.40 179.60L164.80 179.60A60.60 60.60 0 0 0 164.81 180.44ZM189.03 178.21A36.40 36.40 0 0 1 189.15 176.33L200.90 177.39A24.60 24.60 0 0 0 200.82 178.66ZM189.40 174.25A36.40 36.40 0 0 1 189.65 172.77L201.24 174.99A24.60 24.60 0 0 0 201.07 175.98ZM146.27 167.84A80.00 80.00 0 0 1 146.82 164.60L156.05 166.36A70.60 70.60 0 0 0 155.57 169.22ZM189.65 172.77A36.40 36.40 0 0 1 189.92 171.47L201.42 174.11A24.60 24.60 0 0 0 201.24 174.99ZM177.25 168.57A49.40 49.40 0 0 1 177.60 167.13L189.60 170.26A37.00 37.00 0 0 0 189.33 171.34ZM177.60 167.13A49.40 49.40 0 0 1 177.98 165.77L189.88 169.24A37.00 37.00 0 0 0 189.60 170.26ZM167.34 164.46A60.00 60.00 0 0 1 167.80 162.80L177.40 165.60A50.00 50.00 0 0 0 177.02 166.98ZM190.46 169.41A36.40 36.40 0 0 1 190.89 168.03L202.08 171.78A24.60 24.60 0 0 0 201.78 172.71ZM177.98 165.77A49.40 49.40 0 0 1 178.56 163.90L190.32 167.84A37.00 37.00 0 0 0 189.88 169.24ZM178.56 163.90A49.40 49.40 0 0 1 179.24 162.00L190.83 166.42A37.00 37.00 0 0 0 190.32 167.84ZM179.24 162.00A49.40 49.40 0 0 1 179.76 160.69L191.22 165.44A37.00 37.00 0 0 0 190.83 166.42ZM180.75 158.46A49.40 49.40 0 0 1 182.01 155.99L192.90 161.92A37.00 37.00 0 0 0 191.96 163.76ZM163.91 146.15A70.00 70.00 0 0 1 164.95 144.31L173.06 149.05A60.60 60.60 0 0 0 172.17 150.64ZM158.46 135.79A80.00 80.00 0 0 1 160.33 133.06L167.98 138.53A70.60 70.60 0 0 0 166.33 140.93ZM186.35 149.34A49.40 49.40 0 0 1 187.58 147.82L197.07 155.80A37.00 37.00 0 0 0 196.16 156.93ZM177.98 142.84A60.00 60.00 0 0 1 179.46 141.00L187.12 147.44A50.00 50.00 0 0 0 185.88 148.97ZM187.58 147.82A49.40 49.40 0 0 1 189.06 146.14L198.18 154.54A37.00 37.00 0 0 0 197.07 155.80ZM189.06 146.14A49.40 49.40 0 0 1 190.89 144.25L199.55 153.12A37.00 37.00 0 0 0 198.18 154.54ZM190.89 144.25A49.40 49.40 0 0 1 192.34 142.89L200.64 152.10A37.00 37.00 0 0 0 199.55 153.12ZM178.76 114.60A80.00 80.00 0 0 1 181.58 112.67L186.73 120.53A70.60 70.60 0 0 0 184.24 122.24ZM207.57 147.86A36.40 36.40 0 0 1 209.30 146.95L214.52 157.54A24.60 24.60 0 0 0 213.35 158.15ZM204.52 134.83A49.40 49.40 0 0 1 207.21 133.67L211.78 145.20A37.00 37.00 0 0 0 209.76 146.07ZM211.09 132.32A49.40 49.40 0 0 1 212.65 131.87L215.85 143.85A37.00 37.00 0 0 0 214.68 144.19ZM208.02 122.17A60.00 60.00 0 0 1 209.92 121.63L212.50 131.29A50.00 50.00 0 0 0 210.92 131.74ZM205.12 112.60A70.00 70.00 0 0 1 207.34 111.97L209.76 121.05A60.60 60.60 0 0 0 207.85 121.60ZM216.01 144.43A36.40 36.40 0 0 1 217.91 143.98L220.34 155.53A24.60 24.60 0 0 0 219.05 155.83ZM213.06 120.88A60.00 60.00 0 0 1 214.81 120.54L216.58 130.38A50.00 50.00 0 0 0 215.12 130.67ZM216.68 130.98A49.40 49.40 0 0 1 218.07 130.75L219.91 143.01A37.00 37.00 0 0 0 218.87 143.18ZM219.25 119.92A60.00 60.00 0 0 1 221.61 119.72L222.24 129.70A50.00 50.00 0 0 0 220.27 129.86ZM217.20 100.02A80.00 80.00 0 0 1 220.34 99.76L220.94 109.14A70.60 70.60 0 0 0 218.16 109.37ZM223.10 143.27A36.40 36.40 0 0 1 224.95 143.20L225.10 155.00A24.60 24.60 0 0 0 223.84 155.05ZM222.28 130.30A49.40 49.40 0 0 1 224.79 130.20L224.95 142.60A37.00 37.00 0 0 0 223.06 142.67ZM224.79 130.20A49.40 49.40 0 0 1 225.40 130.20L225.40 142.60A37.00 37.00 0 0 0 224.95 142.60Z" fill="#cccccc" stroke="#fff" stroke-width="0.5"/>
<path d="M243.35 122.35A60.00 60.00 0 0 1 245.35 123.02L242.03 132.45A50.00 50.00 0 0 0 240.35 131.89ZM250.57 137.09A49.40 49.40 0 0 1 252.63 138.38L245.79 148.73A37.00 37.00 0 0 0 244.25 147.76ZM256.92 161.40A36.40 36.40 0 0 1 257.50 162.44L247.09 168.00A24.60 24.60 0 0 0 246.70 167.30ZM258.73 164.97A36.40 36.40 0 0 1 259.46 166.76L248.42 170.92A24.60 24.60 0 0 0 247.93 169.71ZM274.30 172.58A49.40 49.40 0 0 1 274.58 174.99L262.24 176.14A37.00 37.00 0 0 0 262.02 174.34ZM274.74 177.08A49.40 49.40 0 0 1 274.79 178.62L262.39 178.87A37.00 37.00 0 0 0 262.35 177.71ZM289.10 208.61A70.00 70.00 0 0 1 288.32 210.29L279.87 206.17A60.60 60.60 0 0 0 280.55 204.72ZM268.55 203.64A49.40 49.40 0 0 1 267.48 205.48L256.92 198.98A37.00 37.00 0 0 0 257.72 197.61ZM265.69 208.19A49.40 49.40 0 0 1 263.98 210.45L254.30 202.71A37.00 37.00 0 0 0 255.57 201.01ZM265.36 224.36A60.00 60.00 0 0 1 263.89 225.63L257.47 217.96A50.00 50.00 0 0 0 258.70 216.90ZM263.89 225.63A60.00 60.00 0 0 1 262.21 226.98L256.07 219.09A50.00 50.00 0 0 0 257.47 217.96ZM236.55 227.73A49.40 49.40 0 0 1 234.07 228.23L231.90 216.03A37.00 37.00 0 0 0 233.75 215.65ZM231.94 228.56A49.40 49.40 0 0 1 229.50 228.83L228.47 216.47A37.00 37.00 0 0 0 230.30 216.27ZM229.50 228.83A49.40 49.40 0 0 1 228.11 228.93L227.43 216.54A37.00 37.00 0 0 0 228.47 216.47ZM226.50 228.99A49.40 49.40 0 0 1 224.79 229.00L224.94 216.60A37.00 37.00 0 0 0 226.22 216.59ZM221.62 228.86A49.40 49.40 0 0 1 218.88 228.57L220.52 216.28A37.00 37.00 0 0 0 222.57 216.49ZM214.98 238.69A60.00 60.00 0 0 1 212.57 238.21L214.71 228.44A50.00 50.00 0 0 0 216.72 228.84ZM200.53 234.20A60.00 60.00 0 0 1 197.80 232.87L202.40 223.99A50.00 50.00 0 0 0 204.68 225.10ZM197.80 232.87A60.00 60.00 0 0 1 195.80 231.79L200.73 223.09A50.00 50.00 0 0 0 202.40 223.99ZM197.99 220.70A49.40 49.40 0 0 1 196.83 219.90L204.00 209.78A37.00 37.00 0 0 0 204.87 210.38ZM190.70 228.55A60.00 60.00 0 0 1 188.46 226.88L194.62 219.00A50.00 50.00 0 0 0 196.48 220.39ZM182.30 234.76A70.00 70.00 0 0 1 179.90 232.79L186.01 225.65A60.60 60.60 0 0 0 188.09 227.35ZM176.15 242.64A80.00 80.00 0 0 1 173.40 240.39L179.51 233.25A70.60 70.60 0 0 0 181.93 235.23ZM158.41 223.33A80.00 80.00 0 0 1 157.00 221.10L165.04 216.22A70.60 70.60 0 0 0 166.28 218.20ZM164.29 213.75A70.00 70.00 0 0 1 163.17 211.65L171.53 207.35A60.60 60.60 0 0 0 172.50 209.16ZM177.31 190.91A49.40 49.40 0 0 1 176.96 189.29L189.12 186.86A37.00 37.00 0 0 0 189.38 188.07ZM176.69 187.84A49.40 49.40 0 0 1 176.40 185.84L188.70 184.27A37.00 37.00 0 0 0 188.92 185.78ZM189.00 179.60A36.40 36.40 0 0 1 189.03 178.21L200.82 178.66A24.60 24.60 0 0 0 200.80 179.60ZM165.40 179.60A60.00 60.00 0 0 1 165.44 177.32L175.44 177.70A50.00 50.00 0 0 0 175.40 179.60ZM155.40 179.60A70.00 70.00 0 0 1 155.45 176.94L164.84 177.29A60.60 60.60 0 0 0 164.80 179.60ZM176.04 177.72A49.40 49.40 0 0 1 176.20 175.17L188.55 176.28A37.00 37.00 0 0 0 188.43 178.19ZM189.92 171.47A36.40 36.40 0 0 1 190.18 170.41L201.60 173.39A24.60 24.60 0 0 0 201.42 174.11ZM169.97 156.63A60.00 60.00 0 0 1 171.17 153.92L180.21 158.20A50.00 50.00 0 0 0 179.21 160.46ZM193.42 162.21A36.40 36.40 0 0 1 193.96 161.25L204.15 167.20A24.60 24.60 0 0 0 203.79 167.84ZM182.01 155.99A49.40 49.40 0 0 1 182.74 154.70L193.45 160.95A37.00 37.00 0 0 0 192.90 161.92ZM193.96 161.25A36.40 36.40 0 0 1 194.94 159.66L204.82 166.13A24.60 24.60 0 0 0 204.15 167.20ZM164.95 144.31A70.00 70.00 0 0 1 166.83 141.26L174.70 146.41A60.60 60.60 0 0 0 173.06 149.05ZM166.83 141.26A70.00 70.00 0 0 1 168.46 138.88L176.11 144.35A60.60 60.60 0 0 0 174.70 146.41ZM185.22 150.86A49.40 49.40 0 0 1 186.35 149.34L196.16 156.93A37.00 37.00 0 0 0 195.31 158.08ZM179.46 141.00A60.00 60.00 0 0 1 181.26 138.96L188.62 145.73A50.00 50.00 0 0 0 187.12 147.44ZM181.58 112.67A80.00 80.00 0 0 1 183.75 111.30L188.64 119.32A70.60 70.60 0 0 0 186.73 120.53ZM207.21 133.67A49.40 49.40 0 0 1 209.50 132.83L213.49 144.57A37.00 37.00 0 0 0 211.78 145.20ZM203.31 123.81A60.00 60.00 0 0 1 206.08 122.79L209.30 132.26A50.00 50.00 0 0 0 206.99 133.11ZM215.24 131.26A49.40 49.40 0 0 1 216.68 130.98L218.87 143.18A37.00 37.00 0 0 0 217.79 143.39ZM218.98 143.77A36.40 36.40 0 0 1 220.00 143.60L221.75 155.27A24.60 24.60 0 0 0 221.06 155.39ZM214.81 120.54A60.00 60.00 0 0 1 216.49 120.26L217.98 130.15A50.00 50.00 0 0 0 216.58 130.38ZM220.00 143.60A36.40 36.40 0 0 1 221.67 143.39L222.88 155.13A24.60 24.60 0 0 0 221.75 155.27ZM216.49 120.26A60.00 60.00 0 0 1 219.25 119.92L220.27 129.86A50.00 50.00 0 0 0 217.98 130.15ZM220.34 130.46A49.40 49.40 0 0 1 222.28 130.30L223.06 142.67A37.00 37.00 0 0 0 221.61 142.79ZM218.22 109.97A70.00 70.00 0 0 1 220.97 109.74L221.57 119.12A60.60 60.60 0 0 0 219.19 119.32ZM224.95 143.20A36.40 36.40 0 0 1 225.40 143.20L225.40 155.00A24.60 24.60 0 0 0 225.10 155.00ZM224.66 119.60A60.00 60.00 0 0 1 225.40 119.60L225.40 129.60A50.00 50.00 0 0 0 224.79 129.60ZM224.54 109.61A70.00 70.00 0 0 1 225.40 109.60L225.40 119.00A60.60 60.60 0 0 0 224.66 119.00Z" fill="#dedede" stroke="#fff" stroke-width="0.5"/>
<path d="M245.35 123.02A60.00 60.00 0 0 1 247.69 123.89L243.97 133.18A50.00 50.00 0 0 0 242.03 132.45ZM253.70 126.69A60.00 60.00 0 0 1 255.97 127.97L250.88 136.58A50.00 50.00 0 0 0 248.98 135.51ZM258.47 129.54A60.00 60.00 0 0 1 259.81 130.45L254.08 138.64A50.00 50.00 0 0 0 252.96 137.88ZM268.01 154.60A49.40 49.40 0 0 1 268.18 154.90L257.44 161.10A37.00 37.00 0 0 0 257.31 160.88ZM258.19 163.80A36.40 36.40 0 0 1 258.73 164.97L247.93 169.71A24.60 24.60 0 0 0 247.56 168.92ZM270.63 159.74A49.40 49.40 0 0 1 271.62 162.17L260.02 166.55A37.00 37.00 0 0 0 259.28 164.73ZM273.93 170.36A49.40 49.40 0 0 1 274.30 172.58L262.02 174.34A37.00 37.00 0 0 0 261.75 172.68ZM274.58 174.99A49.40 49.40 0 0 1 274.74 177.08L262.35 177.71A37.00 37.00 0 0 0 262.24 176.14ZM261.79 178.88A36.40 36.40 0 0 1 261.80 179.60L250.00 179.60A24.60 24.60 0 0 0 250.00 179.11ZM274.79 178.62A49.40 49.40 0 0 1 274.80 179.60L262.40 179.60A37.00 37.00 0 0 0 262.39 178.87ZM261.78 180.84A36.40 36.40 0 0 1 261.66 182.76L249.91 181.74A24.60 24.60 0 0 0 249.99 180.44ZM269.80 201.26A49.40 49.40 0 0 1 268.55 203.64L257.72 197.61A37.00 37.00 0 0 0 258.66 195.82ZM279.33 205.90A60.00 60.00 0 0 1 277.81 208.80L269.08 203.94A50.00 50.00 0 0 0 270.34 201.52ZM267.48 205.48A49.40 49.40 0 0 1 266.47 207.05L256.16 200.16A37.00 37.00 0 0 0 256.92 198.98ZM266.47 207.05A49.40 49.40 0 0 1 265.69 208.19L255.57 201.01A37.00 37.00 0 0 0 256.16 200.16ZM275.28 212.94A60.00 60.00 0 0 1 274.33 214.32L266.18 208.54A50.00 50.00 0 0 0 266.97 207.39ZM261.66 213.15A49.40 49.40 0 0 1 260.27 214.59L251.52 205.81A37.00 37.00 0 0 0 252.56 204.73ZM258.30 216.45A49.40 49.40 0 0 1 257.09 217.50L249.14 207.98A37.00 37.00 0 0 0 250.04 207.20ZM257.09 217.50A49.40 49.40 0 0 1 255.70 218.61L248.10 208.82A37.00 37.00 0 0 0 249.14 207.98ZM254.47 219.54A49.40 49.40 0 0 1 252.99 220.58L246.06 210.29A37.00 37.00 0 0 0 247.17 209.52ZM247.67 223.69A49.40 49.40 0 0 1 245.76 224.61L240.65 213.31A37.00 37.00 0 0 0 242.08 212.63ZM245.76 224.61A49.40 49.40 0 0 1 243.53 225.55L238.98 214.02A37.00 37.00 0 0 0 240.65 213.31ZM240.98 226.48A49.40 49.40 0 0 1 238.48 227.24L235.20 215.28A37.00 37.00 0 0 0 237.07 214.71ZM218.88 228.57A49.40 49.40 0 0 1 216.98 228.28L219.10 216.06A37.00 37.00 0 0 0 220.52 216.28ZM216.82 228.25A49.40 49.40 0 0 1 214.83 227.86L217.49 215.74A37.00 37.00 0 0 0 218.98 216.04ZM212.57 238.21A60.00 60.00 0 0 1 209.50 237.46L212.15 227.81A50.00 50.00 0 0 0 214.71 228.44ZM209.94 226.52A49.40 49.40 0 0 1 207.44 225.62L211.95 214.07A37.00 37.00 0 0 0 213.82 214.74ZM202.67 223.46A49.40 49.40 0 0 1 201.03 222.57L207.15 211.78A37.00 37.00 0 0 0 208.38 212.45ZM192.11 229.52A60.00 60.00 0 0 1 190.70 228.55L196.48 220.39A50.00 50.00 0 0 0 197.66 221.20ZM196.83 219.90A49.40 49.40 0 0 1 194.99 218.53L202.62 208.76A37.00 37.00 0 0 0 204.00 209.78ZM177.44 230.58A70.00 70.00 0 0 1 175.18 228.36L181.92 221.81A60.60 60.60 0 0 0 183.88 223.74ZM171.20 223.90A70.00 70.00 0 0 1 169.40 221.60L176.92 215.96A60.60 60.60 0 0 0 178.48 217.95ZM168.19 219.93A70.00 70.00 0 0 1 166.79 217.87L174.66 212.73A60.60 60.60 0 0 0 175.87 214.52ZM166.79 217.87A70.00 70.00 0 0 1 165.55 215.91L173.59 211.03A60.60 60.60 0 0 0 174.66 212.73ZM155.56 218.62A80.00 80.00 0 0 1 154.28 216.23L162.63 211.93A70.60 70.60 0 0 0 163.77 214.04ZM154.28 216.23A80.00 80.00 0 0 1 152.70 212.98L161.24 209.06A70.60 70.60 0 0 0 162.63 211.93ZM161.78 208.81A70.00 70.00 0 0 1 160.76 206.46L169.44 202.86A60.60 60.60 0 0 0 170.33 204.89ZM159.34 202.74A70.00 70.00 0 0 1 158.24 199.35L167.26 196.70A60.60 60.60 0 0 0 168.21 199.64ZM158.24 199.35A70.00 70.00 0 0 1 157.79 197.72L166.86 195.28A60.60 60.60 0 0 0 167.26 196.70ZM167.44 195.13A60.00 60.00 0 0 1 166.99 193.33L176.73 191.05A50.00 50.00 0 0 0 177.10 192.54ZM155.96 188.44A70.00 70.00 0 0 1 155.58 184.55L164.95 183.88A60.60 60.60 0 0 0 165.29 187.25ZM176.12 183.09A49.40 49.40 0 0 1 176.00 180.28L188.40 180.11A37.00 37.00 0 0 0 188.49 182.22ZM176.00 180.28A49.40 49.40 0 0 1 176.00 179.60L188.40 179.60A37.00 37.00 0 0 0 188.40 180.11ZM176.00 179.60A49.40 49.40 0 0 1 176.04 177.72L188.43 178.19A37.00 37.00 0 0 0 188.40 179.60ZM165.44 177.32A60.00 60.00 0 0 1 165.64 174.22L175.60 175.11A50.00 50.00 0 0 0 175.44 177.70ZM155.45 176.94A70.00 70.00 0 0 1 155.68 173.32L165.04 174.16A60.60 60.60 0 0 0 164.84 177.29ZM176.20 175.17A49.40 49.40 0 0 1 176.54 172.34L188.80 174.16A37.00 37.00 0 0 0 188.55 176.28ZM176.54 172.34A49.40 49.40 0 0 1 176.88 170.34L189.06 172.66A37.00 37.00 0 0 0 188.80 174.16ZM166.05 170.78A60.00 60.00 0 0 1 166.46 168.35L176.29 170.22A50.00 50.00 0 0 0 175.94 172.25ZM156.16 169.31A70.00 70.00 0 0 1 156.64 166.47L165.87 168.24A60.60 60.60 0 0 0 165.46 170.69ZM166.92 166.20A60.00 60.00 0 0 1 167.34 164.46L177.02 166.98A50.00 50.00 0 0 0 176.66 168.43ZM157.67 161.93A70.00 70.00 0 0 1 158.20 160.00L167.23 162.63A60.60 60.60 0 0 0 166.76 164.31ZM179.76 160.69A49.40 49.40 0 0 1 180.75 158.46L191.96 163.76A37.00 37.00 0 0 0 191.22 165.44ZM160.73 152.80A70.00 70.00 0 0 1 162.13 149.64L170.63 153.66A60.60 60.60 0 0 0 169.42 156.40ZM155.13 141.37A80.00 80.00 0 0 1 156.31 139.27L164.43 144.01A70.60 70.60 0 0 0 163.38 145.86ZM156.31 139.27A80.00 80.00 0 0 1 158.46 135.79L166.33 140.93A70.60 70.60 0 0 0 164.43 144.01ZM184.07 152.54A49.40 49.40 0 0 1 185.22 150.86L195.31 158.08A37.00 37.00 0 0 0 194.44 159.34ZM175.20 146.74A60.00 60.00 0 0 1 176.60 144.70L184.73 150.51A50.00 50.00 0 0 0 183.57 152.22ZM176.60 144.70A60.00 60.00 0 0 1 177.98 142.84L185.88 148.97A50.00 50.00 0 0 0 184.73 150.51ZM171.81 134.57A70.00 70.00 0 0 1 173.91 132.18L180.82 138.55A60.60 60.60 0 0 0 179.00 140.62ZM181.26 138.96A60.00 60.00 0 0 1 183.49 136.67L190.47 143.82A50.00 50.00 0 0 0 188.62 145.73ZM183.49 136.67A60.00 60.00 0 0 1 185.25 135.01L191.94 142.44A50.00 50.00 0 0 0 190.47 143.82ZM175.41 117.14A80.00 80.00 0 0 1 178.76 114.60L184.24 122.24A70.60 70.60 0 0 0 181.28 124.48ZM210.02 146.61A36.40 36.40 0 0 1 212.00 145.76L216.34 156.73A24.60 24.60 0 0 0 215.00 157.30ZM213.68 145.14A36.40 36.40 0 0 1 214.86 144.76L218.27 156.05A24.60 24.60 0 0 0 217.48 156.31ZM211.00 111.10A70.00 70.00 0 0 1 213.05 110.70L214.71 119.95A60.60 60.60 0 0 0 212.94 120.30ZM211.28 100.86A80.00 80.00 0 0 1 213.53 100.49L214.92 109.78A70.60 70.60 0 0 0 212.94 110.11ZM221.67 143.39A36.40 36.40 0 0 1 223.10 143.27L223.84 155.05A24.60 24.60 0 0 0 222.88 155.13ZM221.61 119.72A60.00 60.00 0 0 1 224.66 119.60L224.79 129.60A50.00 50.00 0 0 0 222.24 129.70Z" fill="#d9d9d9" stroke="#fff" stroke-width="0.5"/>
<circle cx="225.4" cy="179.6" r="12.2" fill="#d8373d" stroke="#fff" stroke-width="0.6"/>
<text x="11.8" y="122.6" font-size="20">g</text>
<text x="155" y="122.7" font-size="20">h</text>
<text x="68.5" y="182.7" font-size="7.3" text-anchor="middle" fill="#0a0a0a" transform="rotate(0 68.5 182.7)" textLength="25" lengthAdjust="spacingAndGlyphs">synapse</text>
<text x="101.2" y="185.4" font-size="7.3" text-anchor="middle" fill="#0a0a0a" transform="rotate(0 101.2 185.4)" textLength="37.6" lengthAdjust="spacingAndGlyphs">postsynapse</text>
<text x="81" y="125.1" font-size="7.3" text-anchor="middle" fill="#0a0a0a" transform="rotate(-74.4 81 125.1)" textLength="36.3" lengthAdjust="spacingAndGlyphs">postsynaptic</text>
<text x="88.7" y="135" font-size="7.3" text-anchor="middle" fill="#0a0a0a" transform="rotate(-70.1 88.7 135)" textLength="16.5" lengthAdjust="spacingAndGlyphs">density</text>
<text x="95.4" y="141.7" font-size="7.3" text-anchor="middle" fill="#0a0a0a" transform="rotate(-57.5 95.4 141.7)" textLength="36.5" lengthAdjust="spacingAndGlyphs">postsynaptic</text>
<text x="105.2" y="144.5" font-size="7.3" text-anchor="middle" fill="#0a0a0a" transform="rotate(-56.3 105.2 144.5)" textLength="40.2" lengthAdjust="spacingAndGlyphs">specialization</text>
<text x="117.3" y="148.8" font-size="7.3" text-anchor="middle" fill="#0a0a0a" transform="rotate(-19.8 117.3 148.8)" textLength="37" lengthAdjust="spacingAndGlyphs">postsynaptic</text>
<text x="127.9" y="152.3" font-size="7.3" text-anchor="middle" fill="#0a0a0a" transform="rotate(-22.4 127.9 152.3)" textLength="51.3" lengthAdjust="spacingAndGlyphs">actin cytoskeleton</text>
<text x="112.5" y="167" font-size="7.3" text-anchor="middle" fill="#0a0a0a" transform="rotate(-20.5 112.5 167)" textLength="35.8" lengthAdjust="spacingAndGlyphs">postsynaptic</text>
<text x="115.8" y="174" font-size="7.3" text-anchor="middle" fill="#0a0a0a" transform="rotate(-15.7 115.8 174)" textLength="36.2" lengthAdjust="spacingAndGlyphs">cytoskeleton</text>
<text x="39" y="143.5" font-size="7.3" text-anchor="middle" fill="#0a0a0a" transform="rotate(41.6 39 143.5)" textLength="33.6" lengthAdjust="spacingAndGlyphs">presynaptic</text>
<text x="33.5" y="149.8" font-size="7.3" text-anchor="middle" fill="#0a0a0a" transform="rotate(41.2 33.5 149.8)" textLength="44.5" lengthAdjust="spacingAndGlyphs">endocytic zone</text>
<text x="77.5" y="222.7" font-size="7.3" text-anchor="middle" fill="#0a0a0a" transform="rotate(76.5 77.5 222.7)" textLength="36" lengthAdjust="spacingAndGlyphs">postsynaptic</text>
<text x="69" y="228" font-size="7.3" text-anchor="middle" fill="#0a0a0a" transform="rotate(82.6 69 228)" textLength="43.8" lengthAdjust="spacingAndGlyphs">endocytic zone</text>
<text x="226" y="182.2" font-size="7.3" text-anchor="middle" fill="#0a0a0a" transform="rotate(0 226 182.2)" textLength="26.8" lengthAdjust="spacingAndGlyphs">synapse</text>
<text x="259.7" y="171.7" font-size="7.3" text-anchor="middle" fill="#0a0a0a" transform="rotate(-7.9 259.7 171.7)" textLength="43.6" lengthAdjust="spacingAndGlyphs">organization</text>
<text x="263.1" y="133.6" font-size="7.3" text-anchor="middle" fill="#0a0a0a" transform="rotate(-41.5 263.1 133.6)" textLength="51.6" lengthAdjust="spacingAndGlyphs">modification of</text>
<text x="270.5" y="141.1" font-size="7.3" text-anchor="middle" fill="#0a0a0a" transform="rotate(-41.1 270.5 141.1)" textLength="47.5" lengthAdjust="spacingAndGlyphs">postsynaptic</text>
<text x="283.4" y="143.1" font-size="7.3" text-anchor="middle" fill="#0a0a0a" transform="rotate(-48.3 283.4 143.1)" textLength="55.9" lengthAdjust="spacingAndGlyphs">actin cytoskeleton</text>
<text x="199.7" y="144.6" font-size="7.3" text-anchor="middle" fill="#0a0a0a" transform="rotate(48.8 199.7 144.6)" textLength="47.5" lengthAdjust="spacingAndGlyphs">axo-dendritic</text>
<text x="194.3" y="154.8" font-size="7.3" text-anchor="middle" fill="#0a0a0a" transform="rotate(56.4 194.3 154.8)" textLength="32.2" lengthAdjust="spacingAndGlyphs">transport</text>
<text x="300.6" y="193" font-size="7.3" text-anchor="middle" fill="#0a0a0a" transform="rotate(15.1 300.6 193)" textLength="57.1" lengthAdjust="spacingAndGlyphs">synaptic vesicle</text>
<text x="284.8" y="198.1" font-size="7.3" text-anchor="middle" fill="#0a0a0a" transform="rotate(17.5 284.8 198.1)" textLength="25" lengthAdjust="spacingAndGlyphs">priming</text>
<text x="282.4" y="207.7" font-size="7.3" text-anchor="middle" fill="#0a0a0a" transform="rotate(25.1 282.4 207.7)" textLength="77.3" lengthAdjust="spacingAndGlyphs">synaptic vesicle cycle</text>
<text x="191.8" y="202" font-size="7.3" text-anchor="middle" fill="#0a0a0a" transform="rotate(-46.3 191.8 202)" textLength="43.1" lengthAdjust="spacingAndGlyphs">regulation of</text>
<text x="196" y="211.9" font-size="7.3" text-anchor="middle" fill="#0a0a0a" transform="rotate(-38.6 196 211.9)" textLength="57.2" lengthAdjust="spacingAndGlyphs">neurotransmitter</text>
<text x="204.5" y="217.5" font-size="7.3" text-anchor="middle" fill="#0a0a0a" transform="rotate(-50.6 204.5 217.5)" textLength="54" lengthAdjust="spacingAndGlyphs">receptor levels</text>
<text x="221.4" y="233.6" font-size="7.3" text-anchor="middle" fill="#0a0a0a" transform="rotate(-81.8 221.4 233.6)" textLength="52.6" lengthAdjust="spacingAndGlyphs">neurotransmitter</text>
<text x="230.5" y="218.5" font-size="7.3" text-anchor="middle" fill="#0a0a0a" transform="rotate(-85 230.5 218.5)" textLength="34.4" lengthAdjust="spacingAndGlyphs">receptor</text>
<text x="239" y="224.6" font-size="7.3" text-anchor="middle" fill="#0a0a0a" transform="rotate(-83.4 239 224.6)" textLength="43.5" lengthAdjust="spacingAndGlyphs">localization</text>
<text x="307.6" y="120.5" font-size="7" fill="#222" textLength="26.7" lengthAdjust="spacingAndGlyphs">-log10 Q</text>
<rect x="312.4" y="123.2" width="8.6" height="7.4" fill="#7a7a7a"/>
<text x="322.6" y="129.5" font-size="7.2" fill="#222">NS</text>
<rect x="312.4" y="133.2" width="8.6" height="7.4" fill="#a4c4e4"/>
<text x="322.6" y="139.5" font-size="7.2" fill="#222">2</text>
<rect x="312.4" y="143.1" width="8.6" height="7.4" fill="#8c98cc"/>
<text x="322.6" y="149.4" font-size="7.2" fill="#222">3</text>
<rect x="312.4" y="153.1" width="8.6" height="7.4" fill="#7467b3"/>
<text x="322.6" y="159.4" font-size="7.2" fill="#222">4</text>
<rect x="312.4" y="163" width="8.6" height="7.4" fill="#a84c6e"/>
<text x="322.6" y="169.3" font-size="7.2" fill="#222">5</text>
<rect x="312.4" y="172.9" width="8.6" height="7.4" fill="#e0302a"/>
<text x="322.6" y="179.2" font-size="7.2" fill="#222">6</text>
<text x="571.5" y="14.3" font-size="20">f</text>
<rect x="608.1" y="30.7" width="16.8" height="490.6" fill="#e3f2f9"/>
<text x="627" y="22.9" font-size="11.1" text-anchor="middle" fill="#1a1a1a">Child Cortex</text>
<rect x="596.2" y="34.9" width="9.7" height="112.5" fill="#000"/>
<rect x="653.8" y="34.9" width="9.7" height="112.5" fill="#000"/>
<rect x="596.2" y="75.1" width="3" height="1" fill="#fff"/>
<rect x="596.2" y="145.5" width="1.5" height="2" fill="#fff"/>
<rect x="659.5" y="52.4" width="4" height="1" fill="#fff"/>
<rect x="660.5" y="54.5" width="3" height="0.8" fill="#fff"/>
<rect x="613.8" y="34.9" width="4" height="6.7" fill="#1f2a2c"/>
<rect x="613.8" y="52" width="4" height="3.3" fill="#1f2a2c"/>
<rect x="613.8" y="67" width="4" height="14" fill="#1f2a2c"/>
<rect x="613.8" y="147.8" width="4" height="1.5" fill="#1f2a2c"/>
<rect x="627" y="67.4" width="5.1" height="9.2" fill="#000"/>
<text x="626.8" y="169.2" font-size="11.1" text-anchor="middle" fill="#1a1a1a">Y.A. Cortex</text>
<rect x="596.2" y="179.7" width="9.7" height="112.5" fill="#000"/>
<rect x="653.8" y="179.7" width="9.7" height="112.5" fill="#000"/>
<rect x="596.2" y="275.5" width="2" height="1" fill="#fff"/>
<rect x="596.2" y="287.7" width="2.5" height="4.5" fill="#fff"/>
<rect x="599" y="289.5" width="4" height="0.8" fill="#fff"/>
<rect x="660.2" y="181.3" width="2.7" height="2.2" fill="#fff"/>
<rect x="660.5" y="222.5" width="3" height="1.2" fill="#fff"/>
<rect x="660.5" y="244.8" width="3" height="1.2" fill="#fff"/>
<rect x="660.5" y="264" width="3" height="3.5" fill="#fff"/>
<rect x="660.5" y="276.6" width="3" height="2.2" fill="#fff"/>
<rect x="613.8" y="179.7" width="4" height="1.5" fill="#1f2a2c"/>
<rect x="613.8" y="183.7" width="4" height="38.5" fill="#1f2a2c"/>
<rect x="613.8" y="225.1" width="4" height="20.2" fill="#1f2a2c"/>
<rect x="613.8" y="253.1" width="4" height="10" fill="#1f2a2c"/>
<rect x="613.8" y="271" width="4" height="4.8" fill="#1f2a2c"/>
<rect x="613.8" y="291.9" width="4" height="1.7" fill="#1f2a2c"/>
<rect x="627" y="270.5" width="5.1" height="1.8" fill="#000"/>
<text x="625.2" y="314" font-size="11.1" text-anchor="middle" fill="#1a1a1a">Child WM</text>
<rect x="596.2" y="323.7" width="9.7" height="39.9" fill="#000"/>
<rect x="653.8" y="323.7" width="9.7" height="39.9" fill="#000"/>
<rect x="596.2" y="352" width="2" height="3.5" fill="#fff"/>
<rect x="653.8" y="353.2" width="6" height="2.2" fill="#fff"/>
<rect x="613.8" y="324.2" width="4" height="17.8" fill="#1f2a2c"/>
<rect x="613.8" y="344" width="4" height="1.5" fill="#1f2a2c"/>
<rect x="613.8" y="348.4" width="4" height="1.8" fill="#1f2a2c"/>
<rect x="613.8" y="353.2" width="4" height="4.2" fill="#1f2a2c"/>
<text x="625.6" y="385.2" font-size="11.1" text-anchor="middle" fill="#1a1a1a">Y.A. WM</text>
<rect x="596.2" y="394.2" width="9.7" height="22.3" fill="#000"/>
<rect x="653.8" y="394.2" width="9.7" height="22.3" fill="#000"/>
<rect x="596.2" y="412" width="2" height="2.5" fill="#fff"/>
<rect x="660.5" y="396" width="3" height="3" fill="#fff"/>
<rect x="653.8" y="403.8" width="9.7" height="3.2" fill="#fff"/>
<rect x="613.8" y="394.2" width="4" height="1" fill="#1f2a2c"/>
<rect x="613.8" y="397.9" width="4" height="4.5" fill="#1f2a2c"/>
<rect x="613.8" y="404.6" width="4" height="3" fill="#1f2a2c"/>
<rect x="613.8" y="409" width="4" height="5.6" fill="#1f2a2c"/>
<rect x="627" y="409" width="5.1" height="6.3" fill="#000"/>
<text x="628.6" y="438" font-size="11.1" text-anchor="middle" fill="#1a1a1a">SLC12A2</text>
<path d="M574.2 451.6L678.7 451.6" stroke="#777" stroke-width="0.9"/>
<rect x="595.9" y="447.9" width="10.5" height="7.4" fill="#000"/>
<rect x="613.8" y="447.9" width="3.9" height="7.4" fill="#222"/>
<rect x="653.6" y="447.9" width="9.8" height="7.4" fill="#000"/>
<path d="M574.2 470.1L676.3 470.1" stroke="#bbb" stroke-width="0.9"/>
<rect x="595.9" y="466.4" width="10.5" height="7.4" fill="#000"/>
<rect x="613.8" y="466.4" width="3.9" height="7.4" fill="#222"/>
<rect x="653.6" y="466.4" width="9.8" height="7.4" fill="#000"/>
<path d="M574.2 478.8L677 478.8" stroke="#bbb" stroke-width="0.9"/>
<rect x="624.9" y="476.6" width="7" height="4.4" fill="#000"/>
<rect x="653.6" y="476.6" width="9.8" height="4.4" fill="#000"/>
<path d="M574.2 497.3L680 497.3" stroke="#888" stroke-width="0.9"/>
<rect x="639.5" y="495.1" width="23.9" height="4.4" fill="#000"/>
<path d="M574.2 506.7L680 506.7" stroke="#bbb" stroke-width="0.9"/>
<rect x="595.9" y="503" width="10.5" height="7.4" fill="#000"/>
<rect x="653.6" y="503" width="9.8" height="7.4" fill="#000"/>
<path d="M574.2 515.3L680 515.3" stroke="#888" stroke-width="0.9"/>
<rect x="595.9" y="511.6" width="10.5" height="7.4" fill="#000"/>
<rect x="613.8" y="511.6" width="3.9" height="7.4" fill="#222"/>
<rect x="653.6" y="511.6" width="9.8" height="7.4" fill="#000"/>
<text x="12.6" y="412" font-size="20">n</text>
<text x="30.2" y="414.2" font-size="13" fill="#2e74b5" font-family='"Liberation Serif", serif' textLength="66.8" lengthAdjust="spacingAndGlyphs">UBR4-204</text>
<text x="198.6" y="472.3" font-size="13" fill="#2e74b5" font-family='"Liberation Serif", serif' textLength="66.2" lengthAdjust="spacingAndGlyphs">UBR4-202</text>
<text x="248.4" y="519.4" font-size="13" fill="#2e74b5" font-family='"Liberation Serif", serif' textLength="66.2" lengthAdjust="spacingAndGlyphs">UBR4-203</text>
<path d="M63 424.7L353.7 424.7" stroke="#555" stroke-width="0.8"/>
<rect x="86.7" y="416.9" width="74.1" height="15.5" fill="#c2e4f6" stroke="#6d7f8f" stroke-width="0.8"/>
<text x="123.8" y="428.1" font-size="9.6" text-anchor="middle" fill="#1a1a1a" textLength="23.9" lengthAdjust="spacingAndGlyphs">ARM</text>
<rect x="171.5" y="416.9" width="50.1" height="15.5" fill="#fbc98a" stroke="#6d7f8f" stroke-width="0.8"/>
<text x="196.6" y="428.1" font-size="9.6" text-anchor="middle" fill="#1a1a1a" textLength="36.6" lengthAdjust="spacingAndGlyphs">WD-40</text>
<rect x="233.3" y="416.9" width="74.4" height="15.5" fill="#c2e4f6" stroke="#6d7f8f" stroke-width="0.8"/>
<text x="270.5" y="428.1" font-size="9.6" text-anchor="middle" fill="#1a1a1a" textLength="23.9" lengthAdjust="spacingAndGlyphs">ARM</text>
<rect x="312.7" y="416.9" width="32.8" height="15.5" fill="#d0d0d0" stroke="#6d7f8f" stroke-width="0.8"/>
<path d="M269.7 478.3L353.7 478.3" stroke="#555" stroke-width="0.8"/>
<rect x="274.9" y="470.8" width="32.8" height="15.4" fill="#c2e4f6" stroke="#6d7f8f" stroke-width="0.8"/>
<text x="291.3" y="482" font-size="9.6" text-anchor="middle" fill="#1a1a1a" textLength="23.9" lengthAdjust="spacingAndGlyphs">ARM</text>
<rect x="312.7" y="470.8" width="32.8" height="15.4" fill="#d0d0d0" stroke="#6d7f8f" stroke-width="0.8"/>
<path d="M303.6 526L353.7 526" stroke="#555" stroke-width="0.8"/>
<rect x="320.9" y="519" width="24.6" height="15.2" fill="#d0d0d0" stroke="#6d7f8f" stroke-width="0.8"/>
<path d="M269.7 432.4L269.7 478.3" stroke="#f08080" stroke-width="0.7" stroke-dasharray="2 1.4"/>
<path d="M320.9 432.4L320.9 519" stroke="#f08080" stroke-width="0.7" stroke-dasharray="2 1.4"/>
<path d="M352.9 424.7L352.9 526" stroke="#f08080" stroke-width="0.7" stroke-dasharray="2 1.4"/>
<rect x="56.1" y="463.9" width="117.6" height="65.1" fill="#fff" stroke="#d8d8d8" stroke-width="0.8"/>
<text x="60.7" y="474.2" font-size="7.6" fill="#222" textLength="81.5" lengthAdjust="spacingAndGlyphs">Domain Annotation</text>
<rect x="62.4" y="482.2" width="24.6" height="8.2" fill="#c2e4f6" stroke="#6d7f8f" stroke-width="0.7"/>
<rect x="62.4" y="496.7" width="24.6" height="8.2" fill="#fbc98a" stroke="#6d7f8f" stroke-width="0.7"/>
<rect x="62.4" y="515" width="24.6" height="9" fill="#d0d0d0" stroke="#6d7f8f" stroke-width="0.7"/>
<path d="M87 486.3L97.5 493.5L87 500.8" stroke="#aaa" stroke-width="0.7" fill="none"/>
<text x="102.6" y="496.8" font-size="7.6" fill="#222" textLength="67" lengthAdjust="spacingAndGlyphs">SUPERFAMILY</text>
<text x="102.6" y="521.9" font-size="7.6" fill="#222" textLength="52" lengthAdjust="spacingAndGlyphs">AlphaFold-3</text>
<text x="346" y="411.3" font-size="20">o</text>
<rect x="367.4" y="407" width="7.6" height="7" fill="#7f7f7f"/>
<text x="375.2" y="413.3" font-size="6" fill="#222">Y.A.</text>
<rect x="391.5" y="407" width="7.5" height="7" fill="#ed1c24"/>
<text x="399.2" y="413.3" font-size="6" fill="#222">Child</text>
<path d="M373.7 419.5L373.7 523.7" stroke="#777" stroke-width="0.8"/>
<path d="M373.7 523.7L403.6 523.7" stroke="#777" stroke-width="0.8"/>
<path d="M373.7 523.7L373.7 525.6" stroke="#777" stroke-width="0.8"/>
<path d="M403.6 523.7L403.6 525.6" stroke="#777" stroke-width="0.8"/>
<rect x="373.7" y="421.5" width="14.3" height="6.3" fill="#7f7f7f"/>
<text x="390.2" y="426.1" font-size="4.2" fill="#1e1e1e">52</text>
<rect x="373.7" y="432.5" width="30.1" height="6.3" fill="#ed1c24"/>
<text x="406" y="437.1" font-size="4.2" fill="#1e1e1e">111</text>
<rect x="373.7" y="467.3" width="24.3" height="6.3" fill="#7f7f7f"/>
<text x="400.2" y="472" font-size="4.2" fill="#1e1e1e">89</text>
<rect x="373.7" y="478.2" width="11.8" height="6.3" fill="#ed1c24"/>
<text x="387.7" y="482.9" font-size="4.2" fill="#1e1e1e">43</text>
<rect x="373.7" y="504.5" width="18.3" height="6" fill="#7f7f7f"/>
<text x="394.2" y="509" font-size="4.2" fill="#1e1e1e">67</text>
<rect x="373.7" y="515.5" width="19.2" height="6.3" fill="#ed1c24"/>
<text x="395.1" y="520.1" font-size="4.2" fill="#1e1e1e">71</text>
<text x="373.7" y="530.5" font-size="5.4" text-anchor="middle" fill="#1e1e1e">0</text>
<text x="403.6" y="530.5" font-size="5.4" text-anchor="middle" fill="#1e1e1e">100</text>
<text x="394.2" y="537" font-size="7" text-anchor="middle" fill="#1e1e1e" textLength="51" lengthAdjust="spacingAndGlyphs">Number of Reads</text>
<text x="425.2" y="411.8" font-size="20.5">p</text>
<path d="M456.7 435.4L458.0 435.4L459.3 435.4L460.2 434.4L459.9 433.1L458.6 432.9L457.3 433.0L456.4 432.0L456.3 430.7M443.0 443.3L444.2 444.0L443.8 445.2L444.8 446.1L444.1 447.2L442.9 447.6L441.6 447.7L440.9 448.8L440.2 449.9M444.2 431.1L445.5 431.4L446.6 430.7L447.9 430.6L449.0 431.1L450.2 430.5L449.9 429.3L450.9 428.4L452.2 428.3M447.2 422.5L447.5 423.8L448.6 424.6L449.4 425.6L448.9 426.8L448.9 428.1L447.8 428.8L448.1 430.1L448.7 431.2M457.6 424.4L456.6 423.7L455.3 423.3L455.6 422.0L456.9 422.3L457.5 421.1L458.8 421.3L458.6 420.1L457.5 419.3M440.3 426.9L440.4 425.6L439.6 424.5L439.8 423.2L440.9 422.7L442.1 422.0L443.2 421.4L444.3 420.8L445.0 419.7M444.7 421.7L443.6 422.5L442.7 423.3L441.5 424.0L440.2 423.9L440.3 422.6L440.0 421.3L439.2 420.3L438.6 419.2M454.8 426.3L456.1 425.9L457.2 425.3L458.4 425.8L458.5 427.1L457.9 428.2L457.7 429.5L458.9 429.4L459.7 430.4M445.1 443.8L446.4 443.6L446.2 442.4L445.9 441.1L445.3 440.0L445.9 438.9L444.6 438.8L443.4 439.3L442.3 439.9M440.7 439.9L441.7 440.8L442.4 441.9L442.0 443.1L440.9 442.3L440.4 441.2L439.1 440.9L438.6 439.7L438.1 438.5M452.1 434.8L453.4 435.2L454.6 435.5L455.7 434.6L455.6 433.3L456.0 432.1L457.3 432.4L457.9 433.5L457.7 434.8M446.5 439.8L445.8 440.9L446.8 441.8L448.0 441.4L449.3 441.1L449.1 439.8L448.4 438.7L448.0 440.0L448.9 440.9M451.7 417.0L452.8 416.4L453.6 415.3L454.8 414.9L456.1 414.7L457.1 415.5L458.4 415.5L458.3 414.2L457.1 413.7M448.3 446.1L448.5 447.3L449.4 448.2L448.4 449.1L449.1 450.2L450.2 450.8L450.5 452.1L450.0 453.3L450.7 454.4M444.3 425.3L445.0 426.4L446.3 426.7L447.3 427.5L448.6 427.8L449.8 428.0L451.1 428.3L452.3 427.8L453.6 427.9M449.5 433.9L448.9 435.1L450.1 435.6L451.4 435.4L452.7 435.5L454.0 435.7L454.9 436.5L454.9 437.8L454.9 439.1M447.3 438.6L448.5 438.3L448.6 437.0L447.5 436.4L446.2 436.5L446.3 435.2L447.4 434.4L446.3 433.6L445.2 433.0M454.2 425.9L453.7 424.7L453.7 423.4L453.0 422.3L452.9 423.6L453.7 424.6L455.0 424.8L455.5 426.0L454.6 426.9M453.9 424.9L455.2 425.0L454.5 423.9L453.6 422.9L452.9 421.9L451.6 421.4L452.8 422.1L454.0 422.6L455.2 422.4M455.9 426.4L454.9 427.2L453.6 427.5L452.4 428.0L452.9 429.2L453.7 430.2L454.8 430.8L455.0 429.5L454.3 428.5M440.3 439.9L441.6 439.9L440.8 441.0L440.5 442.2L441.3 443.2L442.5 443.7L443.1 442.5L442.0 441.8L441.0 441.0M444.5 432.6L443.4 433.3L442.4 434.1L441.7 435.2L441.9 436.5L443.1 437.1L443.9 438.0L445.0 438.8L445.6 440.0M461.0 429.9L461.4 431.1L462.2 432.1L462.8 433.3L462.2 434.4L462.8 435.5L463.9 436.2L464.8 437.2L464.0 438.2M455.5 433.8L456.4 432.9L457.7 433.1L458.8 433.8L460.0 434.2L461.2 433.6L462.5 433.5L463.2 434.6L464.5 434.7M459.0 432.7L458.2 433.7L459.5 433.7L460.8 433.7L461.3 434.9L461.9 433.8L461.6 432.5L462.6 431.6L463.4 430.5M461.5 429.8L462.5 430.7L463.8 430.7L464.8 429.9L465.8 429.0L466.8 428.2L468.1 428.1L469.2 428.7L470.4 429.1M455.6 445.8L456.8 446.2L458.1 446.4L459.4 446.6L460.2 447.6L460.5 448.9L460.7 450.2L459.6 450.9L458.8 451.9M446.7 424.9L447.5 426.0L446.7 427.0L447.3 428.1L447.4 429.4L448.6 429.9L449.8 429.5L450.8 428.6L451.1 427.3M455.0 438.4L454.7 439.7L453.5 439.2L453.5 437.9L454.0 436.7L453.0 435.8L453.0 434.5L453.8 433.4L454.7 432.5M453.8 427.5L454.0 428.8L454.7 429.9L455.9 430.5L457.0 431.2L456.2 432.3L456.2 431.0L455.8 429.8L454.5 429.7M448.3 441.8L449.6 441.6L450.1 440.4L451.3 439.8L452.5 440.2L451.9 441.4L451.1 440.4L451.6 439.2L451.9 440.5M454.2 418.9L453.5 420.0L452.2 419.9L450.9 420.2L451.0 418.9L452.3 418.8L453.6 419.2L454.5 420.1L455.7 419.8M440.2 428.1L441.4 427.7L441.4 426.4L440.8 425.2L442.1 425.1L443.1 426.0L443.3 427.2L444.0 428.4L443.5 429.6M460.6 429.5L459.5 428.8L458.3 429.3L457.4 430.2L456.1 430.2L455.0 431.0L454.2 432.0L453.2 431.2L452.1 430.5M460.8 434.2L460.1 435.4L459.9 436.7L461.1 436.1L460.8 434.8L460.1 433.7L461.1 433.0L461.6 431.8L462.1 430.6M447.7 417.0L447.3 415.8L448.5 415.2L447.2 415.1L446.6 414.0L446.8 412.7L448.1 412.3L449.3 412.0L450.3 412.9M449.6 439.3L448.3 439.0L447.9 437.8L448.8 436.8L448.2 435.7L449.4 436.2L450.3 437.1L450.9 438.3L451.4 439.5M448.4 430.7L449.0 431.8L449.9 430.9L451.2 430.8L452.3 430.0L453.2 429.2L454.1 428.2L453.3 427.1L452.1 426.8M455.0 420.6L453.8 420.2L453.6 418.9L454.7 418.3L455.6 419.3L455.9 420.6L457.2 420.9L457.6 422.1L457.2 423.4M441.8 443.2L443.1 443.4L443.8 444.5L444.7 445.4L445.0 446.6L445.3 447.9L445.4 449.2L444.3 450.0L443.1 450.4M461.1 429.9L460.1 429.1L459.7 427.8L458.7 428.7L457.6 428.0L456.5 427.4L457.4 426.4L456.2 426.9L457.0 427.9M446.4 432.3L446.3 431.0L446.5 429.7L447.3 428.7L446.8 427.5L446.1 426.4L447.1 425.6L448.3 425.0L448.8 423.8M447.8 447.7L448.6 446.7L449.8 446.2L450.9 446.9L450.2 448.0L449.5 449.1L448.5 450.0L447.4 449.4L447.4 450.7M444.3 420.9L443.3 420.1L443.1 418.8L444.3 418.3L445.4 417.7L446.1 416.6L446.6 415.4L447.7 416.0L447.3 417.3M438.3 434.3L439.0 435.4L440.1 436.2L440.8 437.3L442.0 437.1L443.3 436.6L444.5 437.0L444.6 435.7L445.2 436.8M442.9 430.9L442.6 429.7L442.2 430.9L440.9 430.9L440.1 429.9L440.1 428.6L438.9 428.0L437.9 427.2L436.6 427.1M457.0 423.0L457.3 424.3L457.9 425.4L459.2 425.5L460.5 425.5L460.9 426.8L459.6 427.1L458.3 427.4L457.0 427.3M450.6 447.9L449.3 448.2L448.2 448.9L447.3 449.8L448.5 450.4L449.6 451.1L448.9 452.2L448.2 453.3L446.9 453.6M455.9 425.8L457.0 426.6L458.2 426.2L456.9 426.4L455.6 426.2L454.9 427.3L456.1 428.0L455.3 429.0L454.0 429.3M438.9 431.7L437.8 431.2L437.9 429.9L437.3 428.7L438.6 428.9L439.5 429.8L440.7 430.4L440.1 431.6L441.4 431.3M439.1 432.4L440.2 431.8L441.5 431.7L441.0 430.5L440.0 429.7L438.9 430.4L438.1 429.4L436.9 428.8L436.4 427.6M455.1 420.2L454.7 421.4L454.2 422.6L453.6 423.8L452.9 424.9L452.1 425.9L451.7 427.1L450.8 426.2L449.5 425.9M450.7 441.1L451.5 442.1L452.0 443.3L453.2 443.0L453.9 441.9L452.7 441.4L451.8 440.5L452.8 439.7L453.8 440.6M452.2 438.0L453.3 438.7L454.5 439.0L455.8 439.0L456.8 439.9L458.0 440.0L458.8 439.0L460.1 438.9L461.4 439.1M449.8 440.6L450.2 441.8L450.5 443.1L451.3 444.1L452.6 444.3L453.8 444.9L455.0 445.3L453.9 446.1L452.9 447.0M455.6 422.9L455.8 421.6L454.8 420.7L455.7 419.7L456.4 418.6L457.6 418.1L458.8 417.7L460.0 417.1L461.3 417.3M442.1 441.0L441.7 439.7L440.7 438.9L439.6 438.2L440.1 437.0L439.5 435.8L438.2 435.7L437.6 436.8L437.6 438.1M456.7 425.9L457.9 425.3L459.1 424.8L458.0 424.1L457.6 422.9L458.4 421.9L458.1 420.6L457.8 419.4L456.5 419.0M455.3 429.8L456.6 429.5L457.0 428.3L456.8 427.0L455.6 426.9L454.3 426.6L453.3 425.8L453.4 424.5L454.1 423.4M440.6 441.7L440.1 442.9L440.4 444.1L441.2 445.2L441.3 443.9L442.6 443.7L443.8 443.3L444.9 444.0L445.0 445.3M450.9 430.1L452.2 429.7L451.4 428.6L450.2 428.3L449.1 427.6L450.1 426.7L449.8 425.5L448.9 424.5L448.4 423.3M452.4 423.6L451.3 424.3L451.0 425.5L450.1 426.4L448.8 426.8L447.7 427.4L446.4 427.6L446.8 426.3L447.5 425.2M460.6 427.1L459.3 427.3L458.9 428.6L458.0 429.5L457.3 430.6L456.0 430.9L455.6 429.7L455.8 428.4L455.8 427.1M456.0 425.4L457.1 424.7L456.8 423.4L457.6 422.4L457.8 421.1L457.4 419.8L458.0 418.7L457.7 417.4L457.2 416.2M457.6 442.3L456.9 443.4L457.3 444.6L456.2 445.2L455.3 444.4L456.3 443.6L456.1 442.3L455.1 441.4L456.3 440.8M454.6 418.3L453.9 419.5L452.6 419.7L451.4 419.5L450.2 420.2L449.5 419.1L450.1 417.9L450.3 416.7L450.0 415.4M446.4 427.9L446.9 426.7L446.6 425.4L447.5 424.5L448.8 424.2L447.5 424.1L446.2 424.2L445.0 423.7L444.3 424.7M443.6 422.5L444.8 422.7L444.9 424.0L444.1 425.0L443.0 424.3L441.8 423.9L440.7 424.7L441.4 425.8L441.2 427.0M446.1 432.8L445.1 432.0L444.8 430.7L443.7 431.3L442.6 430.6L443.0 429.4L442.6 428.2L441.3 427.8L440.2 428.5M440.5 430.7L439.9 431.9L438.6 432.1L437.7 433.0L436.4 432.9L436.3 431.6L435.0 431.9L433.8 432.5L432.6 432.0M439.8 430.1L439.7 428.8L440.9 428.3L441.6 427.2L442.5 426.2L441.9 425.1L442.7 424.0L442.7 422.7L441.6 422.1M455.7 440.7L455.0 441.8L453.9 441.0L455.0 440.4L456.1 439.6L457.0 438.7L457.2 437.4L458.5 437.2L458.2 435.9M447.7 435.1L446.5 435.1L445.2 435.1L443.9 435.4L443.0 434.4L442.2 433.4L441.5 432.3L440.5 431.5L439.4 432.2M459.5 441.8L459.3 440.5L459.7 439.2L458.9 438.2L458.0 437.3L457.0 436.4L456.0 435.7L455.1 434.8L454.6 433.5M452.0 430.3L452.9 431.2L454.2 431.2L455.5 431.3L456.7 431.6L457.2 432.8L458.3 432.0L459.5 431.5L460.7 431.3M442.6 430.6L443.9 430.7L444.9 431.5L445.1 430.2L444.1 429.3L445.2 428.5L446.4 428.1L447.1 427.0L447.4 425.7M442.5 438.2L443.5 439.0L442.8 440.1L441.6 440.7L441.1 439.5L441.5 438.3L442.7 438.8L443.8 439.4L445.0 440.0M451.5 442.2L452.1 441.1L453.3 441.8L453.4 443.1L452.2 443.7L450.9 443.8L449.8 443.2L448.9 444.1L448.0 445.1M445.5 426.0L446.6 425.3L446.5 424.0L447.8 423.9L448.4 425.0L449.5 425.7L450.5 425.0L451.2 423.8L452.5 423.9M448.8 430.9L448.4 429.6L449.4 428.8L450.5 428.2L451.4 427.2L452.5 428.0L453.2 426.9L454.0 427.9L455.3 427.9M449.9 428.0L451.2 427.7L450.1 427.0L449.3 425.9L448.7 424.8L447.6 424.1L446.4 423.5L445.2 423.7L444.3 422.6M455.6 421.2L456.8 420.6L457.7 419.7L457.2 418.5L457.6 417.3L458.7 416.5L459.8 417.2L461.0 417.0L462.2 417.6M455.6 442.1L456.6 442.9L457.7 443.7L457.3 444.9L457.3 446.2L457.4 447.5L456.1 447.6L454.8 447.7L453.7 448.3M449.6 432.4L449.6 433.7L449.7 435.0L448.8 436.0L448.1 437.1L447.2 436.1L446.3 435.2L446.4 433.9L447.1 432.8M452.2 447.5L453.5 447.1L452.5 446.3L452.1 447.5L453.3 447.2L452.7 446.1L451.7 445.3L450.7 444.4L449.4 444.8M459.4 434.1L458.2 434.6L456.9 434.6L455.9 433.8L457.1 433.2L458.3 433.5L458.6 432.3L458.8 431.0L458.5 429.7M452.1 433.2L451.9 434.5L450.6 434.2L449.3 434.1L448.8 432.8L449.1 431.6L448.3 430.6L447.0 430.5L446.0 429.7M446.1 427.1L445.6 425.9L444.7 424.9L444.7 423.6L444.0 422.5L442.7 422.7L441.6 423.4L440.6 424.2L439.4 424.8M445.5 421.1L444.3 420.5L445.3 419.7L445.4 418.4L446.0 419.6L447.1 420.3L447.4 421.5L448.6 421.0L449.7 420.3M442.9 432.9L442.3 431.7L441.0 432.1L439.7 432.0L438.5 431.6L438.0 430.4L437.2 429.3L437.3 428.0L438.6 427.8M458.3 441.4L459.4 440.7L460.2 439.7L460.9 438.6L461.7 437.6L461.9 436.3L463.2 435.9L464.5 435.9L465.0 434.7M438.5 434.6L437.3 435.1L436.1 435.6L434.8 435.9L433.6 436.3L432.4 436.0L433.2 435.1L432.7 433.9L432.7 432.6M444.5 442.5L443.6 443.5L442.8 444.5L443.0 445.8L442.2 446.8L441.1 447.5L439.8 447.5L440.1 446.2L438.9 445.7M446.0 442.3L445.5 443.5L445.5 444.8L446.7 445.2L447.2 446.4L448.4 446.9L448.1 445.6L448.9 444.5L449.0 443.3M451.1 417.1L452.4 417.4L453.1 416.4L454.3 415.9L454.8 414.7L454.3 413.4L454.0 412.2L452.7 412.1L451.7 412.9" stroke="#6a6a6a" stroke-width="0.6" fill="none" stroke-linecap="round" stroke-linejoin="round" opacity="0.9"/>
<path d="M490.5 432.2L491.7 431.6L492.9 431.4L493.7 432.5L492.9 433.5L493.5 434.7L492.5 435.4L491.4 436.2L490.5 435.3M504.6 429.1L505.7 428.5L506.5 427.4L507.7 427.4L508.3 428.6L507.9 429.8L507.2 430.9L507.0 432.2L506.1 431.3M504.0 425.9L505.3 425.5L506.2 424.6L507.5 424.7L507.4 423.4L508.4 422.5L509.0 423.7L508.4 424.8L508.2 426.1M490.8 428.8L489.7 428.2L490.6 427.3L491.1 426.1L492.4 426.0L492.7 424.7L492.4 423.5L491.3 422.7L491.5 421.5M503.9 438.0L504.0 436.7L504.2 435.4L505.5 435.6L506.7 435.9L506.1 437.0L505.0 437.8L504.2 438.9L503.0 438.5M494.6 421.9L495.5 420.9L494.8 419.8L493.5 419.7L492.2 419.5L491.8 418.2L492.8 417.4L493.6 416.4L494.6 415.6M500.1 433.6L499.6 434.8L498.4 435.4L497.8 436.5L498.5 437.6L498.8 438.9L499.7 439.7L500.7 438.9L501.9 439.4M497.2 432.1L496.3 433.0L496.0 434.3L495.1 435.3L496.0 436.3L496.3 437.5L496.6 438.8L495.3 439.1L494.7 440.2M501.0 425.5L501.8 426.6L501.9 427.9L503.2 427.8L503.1 429.1L504.3 428.5L505.5 428.8L505.5 430.1L506.3 431.1M495.1 441.6L495.0 440.3L493.9 439.7L493.0 438.7L492.9 437.4L494.0 436.8L494.7 437.9L495.0 439.2L494.5 440.4M499.2 441.7L498.3 440.8L498.0 439.5L497.7 438.3L498.7 437.4L498.2 436.2L497.2 435.4L496.4 434.4L497.1 433.3M496.4 443.0L495.1 443.1L494.2 442.2L495.2 441.4L495.0 442.7L496.2 443.2L497.4 443.5L498.6 443.1L498.7 441.8M503.1 428.5L504.4 428.3L504.2 427.1L504.8 425.9L506.0 425.3L506.7 424.3L505.5 424.4L506.6 425.1L507.3 424.1M495.2 427.7L493.9 427.3L492.8 427.9L491.8 428.8L492.1 430.1L493.0 429.1L494.3 429.1L495.5 429.6L496.5 428.7M496.0 419.1L497.1 419.6L498.3 420.2L498.5 421.5L498.2 422.8L499.2 423.6L499.4 424.9L499.7 426.2L500.9 426.7M496.9 443.0L496.7 441.7L496.8 440.4L496.3 439.2L495.3 438.4L494.1 438.9L494.7 440.1L494.9 441.3L494.5 442.6M493.8 435.2L492.8 436.1L491.9 435.2L490.6 434.9L489.5 434.2L488.3 433.7L487.2 433.0L487.7 431.8L488.6 430.8M504.4 436.1L504.3 434.8L503.4 433.9L502.2 433.6L500.9 433.6L499.6 433.1L498.5 433.8L497.4 434.4L496.2 435.0M490.8 439.8L491.5 438.7L492.8 438.9L494.1 438.9L494.0 437.6L494.5 436.4L493.6 435.4L493.5 436.7L492.9 437.9M493.7 425.2L493.2 424.0L492.2 423.1L491.3 422.2L491.1 423.5L490.3 424.6L491.4 425.3L492.2 426.4L493.1 427.3M495.0 418.4L494.8 419.7L494.9 421.0L496.0 421.6L496.5 420.4L497.7 420.8L498.9 421.3L497.7 421.6L496.5 420.9M490.6 423.6L491.9 423.9L493.1 424.5L493.0 425.8L492.4 426.9L492.9 428.2L492.2 429.3L492.3 430.6L491.7 431.8M492.5 440.9L491.7 441.9L491.6 443.2L492.8 443.8L491.9 444.6L490.7 445.2L489.9 444.2L489.4 443.0L490.2 442.0M499.3 429.3L500.6 429.6L501.3 428.5L501.6 427.2L501.7 425.9L503.0 425.6L503.2 426.9L504.2 426.0L505.4 425.7M494.9 422.9L493.6 422.8L492.3 422.4L491.1 422.7L489.8 422.8L488.8 421.9L488.0 420.9L487.6 419.6L487.6 418.3M500.8 438.5L500.7 439.8L499.5 440.2L498.4 440.8L497.6 441.9L498.6 442.8L499.9 442.9L501.1 443.3L502.4 443.6M496.0 432.3L497.1 433.0L498.3 433.5L498.4 434.8L497.9 435.9L497.7 437.2L496.9 438.2L495.8 438.9L495.6 440.2M501.6 432.2L500.7 431.2L500.4 430.0L499.8 428.8L501.1 428.8L502.4 428.6L503.5 429.1L504.5 430.0L504.2 431.2M490.9 436.4L491.9 435.5L491.6 434.2L490.6 433.4L491.1 432.3L492.4 432.0L492.3 430.7L492.7 429.5L492.5 428.2M498.2 419.3L497.5 418.2L497.0 417.1L495.8 416.4L495.1 417.5L495.0 418.8L493.8 419.0L493.4 417.8L492.2 417.2M500.4 434.4L499.3 435.1L498.9 436.4L497.8 437.1L496.5 436.8L497.1 435.6L497.5 434.3L496.3 434.8L495.5 435.8M495.6 421.9L494.3 422.1L493.6 423.1L492.8 424.2L492.0 423.2L491.2 422.2L490.3 423.1L489.1 423.0L488.0 422.2M491.8 429.4L493.0 428.8L494.2 428.4L493.6 427.3L492.3 427.0L492.0 425.7L490.7 425.7L489.6 425.2L489.5 423.9M495.1 425.9L493.8 426.2L493.8 424.9L492.7 424.2L491.7 423.4L490.5 424.0L490.7 425.3L489.6 426.1L488.5 426.8M494.4 434.0L495.7 433.7L496.9 434.0L497.9 434.9L499.2 435.0L500.2 435.8L501.4 436.1L501.4 437.4L501.6 438.7M501.6 425.0L502.9 424.6L503.3 423.4L502.0 423.4L500.7 423.1L500.5 421.9L501.1 420.7L500.7 419.5L499.6 420.2M499.0 430.0L498.2 431.0L497.7 432.2L496.4 432.0L495.1 432.1L494.6 433.3L495.6 434.2L496.9 433.9L497.6 432.8M501.3 439.6L502.2 440.6L503.3 441.2L504.5 441.7L505.7 442.1L506.3 443.2L506.0 444.5L506.5 445.7L505.2 446.0M503.8 432.5L505.1 432.5L506.4 432.6L507.1 431.6L506.5 430.4L506.5 429.1L507.4 428.2L507.5 426.9L508.7 426.3M498.5 422.8L498.8 424.0L497.5 424.2L496.4 424.9L495.1 425.0L494.5 423.8L495.8 423.6L497.1 423.7L498.3 424.3M495.0 432.0L494.7 430.8L495.8 430.0L496.9 430.7L495.9 431.6L495.0 432.5L493.7 432.4L492.6 433.1L491.9 434.2M502.8 431.5L503.9 430.8L504.6 429.7L503.3 429.4L502.2 428.8L502.0 427.5L501.2 426.4L501.8 425.3L500.5 425.4M502.4 421.0L503.7 421.1L505.0 420.7L506.1 420.0L507.4 420.2L508.5 420.9L509.3 421.9L509.8 423.1L510.9 423.8M495.0 439.9L496.1 440.6L496.1 441.9L496.3 443.1L495.2 443.8L494.2 444.7L493.1 444.1L492.4 443.0L493.3 442.0M493.3 431.0L493.0 432.2L492.9 433.5L492.7 434.8L492.5 436.1L493.8 435.8L494.7 436.7L496.0 436.8L496.5 435.6M494.8 424.6L496.0 424.1L496.8 423.0L498.1 423.1L499.0 422.2L500.2 421.7L500.5 420.4L499.5 419.5L499.6 418.2M495.7 433.8L494.4 433.6L493.7 432.5L492.8 433.4L491.5 433.5L490.2 433.9L489.7 435.0L488.4 435.0L487.3 434.4M498.1 423.4L497.0 422.7L495.7 422.9L495.5 421.6L494.7 420.6L493.7 421.4L493.5 420.2L494.6 420.8L495.2 419.7M489.7 436.3L491.0 436.2L491.2 434.9L492.4 434.5L493.0 433.3L494.1 432.6L494.6 431.4L495.6 432.2L495.1 433.4M495.8 437.5L494.5 437.4L494.3 436.1L495.6 436.1L496.9 436.2L497.5 437.4L498.7 437.3L499.8 438.0L498.9 438.9M502.9 428.7L502.3 427.6L501.9 426.3L501.6 425.1L502.7 424.4L503.8 423.8L505.1 424.0L505.6 422.8L506.5 421.9M501.6 441.6L501.1 442.8L501.8 443.9L502.8 444.7L504.0 445.3L502.7 445.8L501.6 445.2L500.6 446.0L500.8 444.7M490.3 425.7L489.6 426.9L489.7 425.6L489.6 424.3L490.2 423.1L489.1 422.4L487.8 422.1L489.1 421.9L489.6 423.1M495.6 418.1L496.8 418.7L498.1 418.5L499.3 418.0L499.8 416.8L501.0 416.4L500.9 417.7L500.8 419.0L502.1 419.1M497.9 430.4L496.9 429.5L496.9 428.2L498.1 427.8L499.4 427.5L500.6 427.7L501.9 427.5L501.3 426.4L500.8 425.2M497.1 418.4L496.2 419.3L494.9 419.6L493.9 420.4L493.9 421.7L494.8 422.7L495.2 423.9L494.5 424.9L493.8 423.8M491.1 429.8L490.8 431.0L489.8 431.8L489.1 433.0L488.9 434.2L487.8 434.9L486.8 435.8L485.6 436.2L485.5 437.5M503.0 437.2L504.3 437.3L505.6 437.5L506.9 437.5L508.1 437.0L508.7 435.9L509.5 436.8L510.8 437.0L509.6 437.5M491.2 426.9L492.4 427.3L493.7 427.5L493.6 428.8L493.6 430.1L494.8 429.5L494.8 430.8L495.6 431.8L496.7 432.6M496.8 444.2L495.5 443.8L494.8 442.7L495.0 441.4L494.0 440.5L494.3 439.3L494.0 438.0L494.1 436.7L493.1 435.9M490.9 422.2L489.6 421.9L488.7 421.0L487.6 421.8L486.6 422.6L485.8 423.6L485.0 422.5L484.0 421.7L482.9 421.0M502.0 439.6L502.4 440.8L502.0 442.1L500.9 441.3L500.0 440.4L499.6 439.1L498.7 438.2L497.7 437.4L496.4 437.4M502.2 433.3L503.4 433.5L504.6 433.0L504.3 431.7L503.2 430.9L504.4 431.5L505.7 431.5L506.6 432.4L506.1 433.6M495.5 437.4L494.2 437.6L495.1 436.6L496.0 435.7L496.2 434.4L495.4 433.4L494.2 434.0L493.0 433.6L492.6 432.3M500.3 418.6L501.5 418.3L502.7 417.7L503.0 416.5L503.8 415.4L503.8 416.7L505.0 417.1L506.3 416.7L507.2 415.8" stroke="#6a6a6a" stroke-width="0.6" fill="none" stroke-linecap="round" stroke-linejoin="round" opacity="0.9"/>
<path d="M490.0 409.7L488.7 409.5L488.2 410.7L489.2 411.4L489.9 412.5L490.4 413.7L491.7 413.8L492.5 414.8L493.1 413.6M460.6 405.9L459.7 406.9L458.7 407.6L459.4 408.6L459.6 409.9L460.9 410.1L462.1 409.5L463.4 409.6L464.6 409.2M454.8 410.9L455.5 412.0L456.0 410.7L456.2 409.5L457.4 408.9L458.0 407.8L457.9 406.5L457.1 405.4L457.0 404.1M494.2 418.4L493.6 419.6L492.9 420.7L491.8 421.3L490.5 421.3L489.3 421.7L488.1 422.2L487.0 423.0L485.7 423.1M481.3 414.7L480.8 413.5L481.4 412.4L481.1 411.1L480.9 409.8L480.7 408.5L479.7 409.3L478.9 410.4L477.7 410.9M473.4 420.1L474.6 420.6L475.5 421.5L476.1 422.6L476.8 423.7L478.1 423.9L479.3 424.4L480.6 424.8L480.1 426.0M470.1 409.7L470.9 410.8L471.2 409.5L472.0 410.5L473.0 409.7L472.7 408.4L472.0 407.3L470.8 407.0L471.6 406.0M483.4 408.9L482.6 407.9L481.3 407.7L480.3 406.9L480.0 405.6L479.4 404.4L478.2 404.7L477.4 405.8L476.1 405.6M492.1 411.0L491.0 410.2L489.7 410.3L488.4 410.3L487.2 409.8L487.2 408.5L487.4 407.2L488.1 406.1L488.9 405.1M481.7 417.1L481.6 415.8L481.1 414.6L480.7 413.3L482.0 413.4L481.6 414.7L480.7 413.7L481.6 412.7L482.3 411.7M474.8 415.5L474.8 416.8L473.6 416.4L472.9 415.3L472.5 414.0L472.6 412.7L471.5 412.1L470.3 411.5L469.2 412.2M490.9 411.6L490.9 412.9L491.4 414.1L490.9 415.2L491.1 416.5L492.0 417.5L493.2 417.9L494.2 418.7L494.8 419.9M464.7 416.8L463.4 417.1L463.8 415.8L465.1 415.6L464.4 414.5L464.1 413.2L463.4 412.1L462.6 411.1L463.1 409.9M470.2 414.0L470.1 412.7L469.3 411.7L468.9 410.5L470.1 409.8L470.3 408.5L470.5 407.2L471.5 406.4L470.6 405.5M499.1 408.8L497.9 409.4L496.8 408.8L495.9 407.9L496.6 406.8L497.0 408.0L497.7 409.1L498.5 410.2L498.6 411.5M467.5 415.5L468.4 414.6L469.5 413.9L469.4 415.2L469.2 413.9L470.2 413.0L469.6 414.2L468.8 415.2L470.0 415.8M492.4 414.8L492.3 413.5L491.0 413.7L489.7 413.5L490.1 414.8L490.2 416.1L489.0 415.6L487.9 416.3L487.5 417.5M464.0 410.1L463.5 411.3L462.2 411.5L461.7 412.7L460.5 412.2L460.1 411.0L459.0 410.3L457.7 410.2L456.5 410.7M496.0 415.1L494.7 415.3L494.3 414.0L493.9 412.8L493.6 411.5L494.9 411.3L495.4 410.1L494.9 408.9L493.8 409.5M492.7 409.5L492.5 408.2L491.3 407.7L491.0 406.5L492.1 407.2L493.3 407.8L493.8 406.6L494.3 405.4L495.6 405.1M480.6 407.7L480.3 406.4L481.6 406.3L482.8 406.7L482.3 407.9L481.2 408.6L480.3 409.5L479.9 410.7L479.1 409.7M475.9 406.4L476.0 407.7L474.9 408.4L474.7 409.7L476.0 409.8L476.0 411.1L474.7 411.2L473.4 411.1L472.6 412.0M472.8 416.6L473.8 417.3L474.5 418.4L475.3 419.4L475.7 420.7L477.0 421.0L478.2 421.2L478.8 420.0L480.0 419.4M457.5 416.2L458.0 415.0L457.3 414.0L457.4 412.7L458.2 411.7L459.5 411.9L460.7 411.3L461.9 411.1L461.1 410.1M452.2 414.5L452.5 415.8L451.4 415.1L451.0 413.8L449.9 413.2L451.1 413.0L451.4 414.3L450.2 414.8L450.3 413.5M476.2 414.1L477.4 414.6L477.9 415.8L478.8 416.7L478.8 418.0L479.8 418.8L479.3 420.0L478.0 420.4L477.4 421.5M478.0 420.6L479.3 420.7L480.5 420.3L481.8 419.9L483.0 419.4L482.6 418.2L482.3 416.9L481.1 416.6L479.8 416.3M469.9 411.7L468.8 410.8L468.0 411.8L466.9 411.2L468.2 411.0L469.4 410.8L470.6 411.4L470.9 412.6L471.3 413.8M460.4 408.1L461.3 409.0L462.5 409.3L462.9 408.1L464.2 408.0L465.5 408.2L466.6 407.4L466.2 406.2L465.8 404.9M450.1 410.2L450.4 411.5L449.8 412.6L448.6 412.2L447.8 411.2L447.7 412.5L446.4 412.6L445.2 412.3L444.4 411.2M473.7 414.5L474.6 415.4L473.6 416.2L472.6 417.0L471.8 418.0L471.2 419.1L469.9 419.6L470.9 420.5L469.6 420.7M460.2 411.2L459.4 410.2L459.4 408.9L458.3 408.2L458.7 406.9L459.6 406.0L459.4 404.7L459.1 403.4L459.3 402.1M484.9 413.2L486.1 413.4L487.0 412.4L488.0 411.6L489.3 411.7L490.4 412.3L491.7 412.5L492.8 413.3L494.0 413.7M493.1 410.1L494.2 410.8L495.1 411.7L494.0 412.4L493.1 413.4L491.8 413.1L491.3 414.3L491.1 415.5L490.2 416.4M485.4 408.4L486.7 408.6L488.0 408.5L488.9 407.6L490.1 407.0L490.4 405.8L490.0 404.6L491.1 405.2L491.8 406.3M465.5 412.3L464.9 413.5L466.0 414.2L466.9 413.3L468.2 413.1L468.7 411.9L468.1 410.8L466.9 410.3L466.4 409.0M456.8 416.7L455.7 416.0L454.6 415.3L454.2 414.1L452.9 414.0L451.6 414.2L450.3 414.4L449.4 415.4L448.2 415.7M455.8 414.8L454.6 414.2L454.0 415.4L452.8 415.7L453.0 417.0L454.1 417.8L455.1 418.7L455.4 419.9L455.5 421.2M495.5 412.3L494.8 411.3L493.7 411.9L493.6 413.2L493.0 414.4L492.4 415.5L491.3 416.2L490.0 416.5L490.4 417.7M453.2 410.8L454.4 410.2L455.5 410.7L456.7 410.1L457.3 409.0L457.7 407.7L458.4 406.6L458.1 405.4L457.5 404.2M488.8 407.1L489.3 405.9L488.1 405.2L488.8 404.1L488.6 402.8L489.7 402.2L490.3 401.1L489.3 400.2L488.3 399.5M483.5 404.1L482.4 404.7L481.6 405.8L481.5 407.1L482.5 407.9L483.6 408.5L483.2 409.7L481.9 409.7L480.7 409.3M459.9 407.9L458.6 408.1L457.4 407.8L457.0 406.6L455.7 406.8L456.5 405.8L456.5 404.5L455.3 403.9L455.7 405.1M474.2 415.2L473.1 414.5L472.3 413.5L471.7 412.3L472.9 412.3L473.9 413.2L473.4 414.4L474.7 414.5L474.5 413.2M476.1 409.7L476.3 408.4L476.3 407.1L476.8 405.9L476.7 404.6L477.5 403.5L476.2 403.1L475.1 402.4L473.8 402.7M469.7 416.3L470.5 417.3L471.8 417.2L473.1 417.1L474.4 416.9L475.6 417.4L475.9 418.6L475.6 419.9L476.5 420.8M461.5 409.5L462.3 410.5L463.6 410.4L464.4 409.4L465.3 408.4L466.4 407.7L467.7 407.7L468.2 406.5L469.4 406.1M488.5 411.7L488.6 410.4L489.4 409.4L490.7 409.7L491.9 409.3L492.2 410.6L493.5 410.1L494.1 409.0L495.3 408.4M466.1 410.0L466.8 408.9L466.4 407.7L465.2 408.1L466.4 407.7L467.7 407.5L467.1 406.3L466.4 407.4L465.2 406.8M494.0 408.5L495.2 408.1L496.3 408.9L497.0 409.9L498.2 409.2L499.5 409.0L498.3 409.6L498.5 410.9L499.6 411.6M451.7 412.9L453.0 413.0L453.5 411.8L452.5 411.0L451.4 410.3L450.1 410.7L448.8 410.6L447.6 410.1L447.5 411.4M467.5 406.0L467.5 407.3L468.0 408.5L468.4 407.3L467.8 406.1L468.7 405.2L470.0 405.5L470.9 404.5L469.9 405.4M497.6 417.0L498.0 418.2L496.9 418.8L496.3 419.9L495.6 421.0L495.2 422.3L495.8 423.4L495.3 424.6L494.3 425.5M457.2 407.5L457.8 406.3L458.7 405.4L459.3 404.2L459.1 405.5L460.4 405.6L461.6 405.1L461.1 406.2L459.8 405.9M494.5 410.3L495.5 411.1L496.1 409.9L496.3 408.6L497.5 408.3L498.7 407.8L497.5 407.4L496.3 407.9L495.6 406.8M472.5 403.0L473.7 402.4L474.9 402.8L475.3 404.1L476.0 405.2L477.3 405.3L477.5 404.1L477.6 402.8L476.4 403.3M480.2 421.0L479.2 421.9L477.9 421.6L476.9 420.7L475.7 420.3L474.8 419.3L473.8 418.6L472.7 417.9L471.5 418.4M467.9 407.3L466.7 406.8L465.5 406.2L464.2 406.2L462.9 406.2L461.9 407.1L463.2 406.7L463.5 405.4L463.2 404.2M482.9 410.9L484.1 411.5L483.4 412.6L483.0 413.8L481.8 414.1L483.0 414.6L483.7 413.5L484.6 414.4L485.7 415.1M470.6 419.4L471.2 420.5L472.0 421.6L473.0 420.8L474.2 420.3L475.3 421.0L475.3 422.3L475.1 423.6L475.8 424.7M484.5 414.0L484.0 415.2L484.5 416.4L483.3 415.8L482.3 415.0L483.1 413.9L482.0 413.3L480.7 413.0L480.2 411.8M493.4 413.6L494.5 412.9L494.6 411.6L493.9 410.5L492.8 411.3L491.7 410.7L490.8 411.6L491.3 412.8L492.2 413.8M487.6 410.6L488.4 409.5L489.3 410.5L489.5 411.8L490.7 411.5L490.7 410.2L490.9 408.9L491.5 407.7L491.2 406.5M483.2 414.3L484.4 414.8L483.9 416.0L484.1 414.7L483.3 413.7L483.6 412.4L483.7 411.1L483.9 409.8L485.0 409.2M488.3 411.2L487.2 410.6L487.3 409.3L488.1 408.2L489.1 407.5L490.4 407.8L491.4 408.6L492.7 408.5L494.0 408.8M490.2 405.7L491.2 406.5L489.9 406.7L488.7 407.0L487.5 407.6L486.8 406.5L485.9 405.6L484.7 405.2L483.9 406.3M476.1 417.0L476.1 418.3L475.7 419.5L474.5 420.0L473.7 421.1L474.0 422.3L474.6 423.5L473.5 424.1L473.0 425.3M473.4 409.3L472.2 409.4L472.7 410.6L473.9 410.3L475.2 410.0L475.3 408.7L476.6 409.1L476.7 410.4L476.2 411.6M470.5 410.2L470.2 411.5L469.1 412.2L467.9 412.0L467.2 410.9L466.4 409.9L467.5 409.3L468.7 408.7L470.0 408.5M486.2 412.3L487.0 413.3L488.1 414.0L489.4 414.3L490.2 413.3L489.2 412.5L487.9 413.0L487.0 413.9L485.8 413.4M490.5 420.0L491.2 418.9L492.1 417.9L492.8 416.9L494.1 416.6L494.4 415.4L493.4 414.5L492.7 413.4L491.5 413.8M489.8 412.3L490.3 411.1L491.5 410.5L490.9 409.4L490.7 408.1L490.5 406.8L489.2 407.1L488.0 407.5L486.8 407.0M465.6 410.0L464.3 410.2L463.0 410.3L462.3 411.4L462.2 412.7L461.5 413.8L460.8 414.8L459.6 414.3L458.5 413.5M462.8 408.5L461.8 407.6L462.7 406.7L463.9 406.1L465.1 406.6L465.5 407.8L466.6 407.1L467.1 408.3L468.1 409.1M496.3 412.9L496.5 411.6L497.3 410.6L497.3 409.3L498.2 408.4L499.1 407.5L499.6 406.3L499.1 405.1L499.2 403.8M467.9 410.3L466.6 409.9L466.8 408.6L465.5 408.2L465.7 406.9L464.6 406.3L463.3 406.6L462.2 407.3L462.8 408.4M498.3 409.8L499.6 410.3L499.3 409.0L498.4 408.0L499.6 407.5L498.5 406.8L497.5 407.6L496.7 406.6L496.9 405.3M465.6 418.3L465.9 419.6L466.6 420.7L466.9 419.4L466.7 418.1L467.9 417.6L468.0 416.3L469.0 415.4L469.8 414.4M477.9 411.8L479.2 411.9L480.4 412.4L481.4 411.6L482.7 411.4L483.9 411.1L484.1 412.4L485.1 413.1L486.0 412.1M500.4 414.5L499.2 414.1L498.0 414.6L497.9 415.9L496.9 416.6L495.8 415.9L494.8 416.6L494.0 415.6L494.7 414.5M462.1 414.4L463.3 414.0L462.1 413.6L460.8 413.6L459.7 414.4L459.4 415.7L460.2 416.7L461.2 417.5L462.4 417.9M477.2 405.0L476.0 405.2L474.7 405.4L474.3 406.6L474.8 407.8L474.7 409.1L474.9 410.4L475.5 411.6L476.3 412.6M468.6 413.4L467.4 413.8L466.7 414.9L465.8 415.9L464.5 415.9L464.5 414.6L464.4 413.3L463.6 412.3L463.1 411.1M450.7 409.7L452.0 409.2L452.7 408.1L453.5 409.2L454.3 410.2L455.2 409.4L456.5 409.1L457.8 409.2L458.8 410.0M495.0 409.0L495.0 410.3L496.2 410.8L496.4 412.1L495.4 411.3L496.5 410.5L495.8 409.4L497.1 409.1L497.3 407.8M456.0 411.6L457.3 411.8L458.6 411.9L459.7 412.6L460.9 412.1L462.2 411.8L462.3 413.1L462.3 414.4L462.9 415.6M462.1 411.6L461.4 412.7L460.4 413.5L459.9 414.7L459.5 416.0L459.5 417.3L459.7 418.5L460.4 417.4L460.6 416.2M466.4 419.6L467.7 419.8L468.2 418.6L469.4 418.1L470.6 417.7L471.3 416.5L470.6 415.4L469.5 414.8L468.2 414.8M478.1 415.7L477.6 416.9L476.8 417.9L478.1 418.0L478.7 416.8L477.4 416.6L476.5 415.6L477.0 414.4L476.0 413.5M485.3 404.6L484.1 404.3L483.5 403.1L482.2 402.8L481.5 403.9L482.3 404.9L483.4 405.6L483.0 406.9L482.3 408.0M475.4 403.7L475.2 405.0L475.1 406.3L476.3 406.8L477.5 406.3L478.7 405.8L480.0 405.7L481.3 405.8L481.8 407.0M484.6 419.8L484.5 421.1L483.2 421.2L482.1 421.8L481.3 422.9L480.5 421.9L479.6 420.9L480.9 421.0L480.4 419.9M491.6 406.9L492.9 407.4L494.2 407.4L495.4 407.8L496.5 407.2L497.1 406.0L498.2 405.4L499.5 405.3L499.1 406.5M498.9 411.1L500.0 411.9L500.3 413.1L500.1 411.8L501.1 410.9L500.8 409.7L499.6 409.0L499.0 407.9L497.7 407.7M474.6 414.5L475.2 413.3L474.0 412.7L472.8 413.0L471.6 413.6L470.5 414.2L469.2 414.6L467.9 414.7L468.7 413.7M482.6 409.7L483.0 408.4L483.5 407.2L483.3 405.9L482.8 404.8L482.7 403.5L483.5 402.4L484.4 401.5L485.6 402.1M488.2 418.2L486.9 418.3L486.5 417.1L486.4 415.8L486.0 414.6L485.4 413.4L484.4 412.7L483.7 413.8L483.0 414.8M490.6 417.8L490.8 419.1L489.7 419.8L489.4 421.0L490.5 421.7L490.9 423.0L489.8 423.7L488.5 424.0L487.6 423.1M454.7 412.9L455.7 412.0L457.0 412.3L458.0 413.0L459.2 413.6L460.4 414.0L461.0 415.1L462.0 416.0L462.7 417.1M465.6 403.6L466.3 402.5L467.4 401.7L468.5 402.4L469.7 402.0L468.8 401.1L469.4 399.9L468.3 399.3L468.5 398.0M499.2 417.0L500.0 416.0L501.3 416.1L502.2 417.1L501.7 415.9L501.1 414.7L500.0 415.4L498.8 416.0L497.5 415.8M471.2 418.7L469.9 419.0L468.7 419.3L468.3 420.6L467.2 421.3L465.9 421.6L466.8 422.6L467.9 423.2L469.0 422.4M477.5 418.6L476.5 419.4L477.2 420.4L477.9 421.5L476.7 421.7L475.4 421.4L475.2 420.1L474.7 418.9L473.4 419.3M494.0 408.9L494.5 410.1L495.7 410.5L495.6 409.3L495.6 410.6L494.7 411.4L495.5 412.4L496.7 411.8L497.8 411.2M498.7 416.4L497.8 417.4L497.5 418.6L498.3 419.6L498.0 420.8L497.7 422.1L498.2 423.3L499.1 424.3L498.4 425.4M474.6 410.1L473.7 409.1L473.6 407.8L474.7 407.1L475.8 406.5L476.0 405.2L477.3 405.0L478.0 404.0L478.0 402.7M486.4 419.8L485.1 420.1L485.3 418.9L486.5 418.4L487.5 419.1L487.4 420.4L486.4 419.5L485.1 419.6L483.8 419.6M465.7 407.4L465.3 406.2L465.3 404.9L466.0 403.8L467.3 403.7L468.1 404.7L468.3 406.0L469.1 404.9L470.1 404.1M490.1 406.1L489.0 405.5L488.0 404.6L486.7 404.3L485.5 403.7L484.9 402.6L483.6 402.6L483.0 401.4L482.7 400.2M473.6 413.1L473.5 414.4L474.4 415.4L474.8 416.6L475.1 417.9L475.1 419.2L476.4 419.3L477.7 419.2L477.9 420.5M490.4 418.3L490.6 419.5L490.9 420.8L490.5 422.1L490.0 423.3L489.7 422.0L488.8 421.0L490.1 420.6L489.8 419.3M476.9 416.5L475.6 416.7L475.6 415.4L475.6 414.1L475.6 412.8L475.1 411.6L473.9 412.1L473.2 413.2L472.1 413.9M468.7 417.4L469.9 417.9L471.2 418.2L472.5 417.9L473.3 418.9L473.7 420.2L474.2 419.0L474.6 417.7L475.7 417.1M482.0 406.1L483.1 406.7L484.4 406.6L485.6 406.0L486.4 404.9L487.3 404.1L488.5 404.6L489.4 405.5L488.9 406.7M498.7 411.0L498.8 409.7L499.8 408.8L500.4 409.9L501.7 410.2L503.0 410.2L504.2 410.8L503.7 412.0L502.8 412.9M487.3 416.8L486.0 416.7L485.9 415.4L487.1 414.9L486.8 413.6L488.1 413.7L489.3 414.2L490.0 415.3L488.9 414.5M489.4 414.2L488.9 413.0L488.3 411.8L488.1 410.5L488.4 409.2L487.1 408.8L485.9 408.4L484.6 408.8L485.7 408.0M457.8 407.7L458.9 408.4L460.1 409.0L460.0 410.3L458.8 410.7L459.3 409.5L459.1 408.2L457.9 408.0L456.6 407.8M478.2 407.7L479.5 408.0L480.7 408.4L480.8 409.7L480.5 411.0L479.2 410.8L480.1 409.8L481.3 409.4L481.7 408.2M462.4 408.5L461.5 409.4L461.8 410.6L462.6 411.7L461.6 412.5L460.9 413.6L462.0 414.3L463.2 413.7L462.5 414.8" stroke="#4676c0" stroke-width="0.6" fill="none" stroke-linecap="round" stroke-linejoin="round" opacity="1"/>
<path d="M480.2 432.1L478.9 432.4L477.7 432.8L476.8 433.8L475.9 432.8L476.6 431.7L475.3 431.7L474.7 430.5L473.6 429.8M472.2 451.4L471.0 451.0L470.2 452.1L469.3 453.0L469.0 454.2L468.6 455.4L469.5 456.3L470.4 455.4L471.7 455.4M483.1 446.3L483.5 445.1L484.1 443.9L483.4 442.8L482.7 441.7L482.2 442.9L481.3 443.8L480.9 445.1L480.8 446.4M474.9 451.3L474.6 450.0L474.1 448.9L475.4 448.8L476.6 449.0L477.9 448.6L476.7 448.1L477.0 446.8L476.6 445.6M485.4 444.9L485.9 446.1L486.9 447.0L487.6 448.0L488.2 449.2L488.5 450.4L489.8 450.2L490.0 448.9L489.0 448.1M487.6 446.5L487.0 447.6L486.5 446.4L487.0 445.2L488.3 445.1L488.1 446.4L487.3 447.4L487.2 448.7L488.2 449.5M476.6 433.8L477.7 433.0L477.9 434.3L477.2 435.3L475.9 435.6L474.7 435.8L473.5 435.3L472.4 434.6L471.1 434.5M458.6 443.1L458.9 441.8L459.3 440.6L459.0 439.3L458.5 438.1L458.9 436.9L458.4 435.7L457.2 435.2L457.9 434.1M467.4 430.7L466.6 429.7L465.7 428.7L464.5 429.1L464.5 430.4L465.8 430.3L467.1 430.6L468.4 430.2L469.5 430.8M476.4 438.5L475.2 439.1L474.4 438.1L474.4 436.8L475.0 435.7L476.1 436.3L477.4 436.7L478.5 436.1L479.8 435.8M476.0 446.3L477.1 447.0L478.4 446.6L478.3 447.9L479.6 447.8L480.7 447.2L481.5 446.1L481.7 444.9L481.6 443.6M491.9 439.5L490.9 438.6L490.8 437.3L492.0 436.8L492.7 435.7L491.4 435.7L490.1 435.5L490.4 434.2L490.6 433.0M481.4 438.6L482.2 437.5L481.0 437.2L480.0 436.4L479.1 435.4L479.2 434.1L478.6 433.0L479.3 431.9L480.6 431.4M469.4 431.8L468.1 431.5L466.8 431.3L466.0 432.3L464.8 432.7L464.0 433.7L464.8 434.7L466.1 435.1L467.1 435.9M480.8 431.1L481.5 430.0L481.2 428.8L481.1 427.5L480.0 428.2L479.6 429.4L480.4 430.4L481.4 431.3L482.2 432.3M467.0 445.9L466.3 446.9L466.3 448.2L466.0 449.5L465.1 450.4L464.0 451.1L463.8 452.4L463.5 453.7L462.4 454.5M474.5 444.8L474.0 446.0L472.7 446.0L472.3 447.2L472.5 448.5L473.4 447.6L473.0 446.4L471.7 446.5L470.5 446.8M486.5 443.4L485.9 442.3L484.7 441.8L483.5 441.2L483.2 439.9L484.1 439.0L484.3 437.7L485.6 437.8L486.9 437.8M470.3 442.8L469.1 443.2L467.8 443.3L469.0 443.6L469.0 444.9L470.1 445.7L471.0 444.7L472.1 445.4L473.3 445.8M473.3 447.1L474.5 447.5L474.5 448.8L475.3 449.9L476.0 451.0L477.3 450.8L477.8 449.6L477.5 448.4L476.3 447.8M466.7 446.0L465.8 446.9L464.6 446.5L463.3 446.7L462.4 445.8L461.3 445.1L460.0 444.8L458.8 444.5L458.5 445.7M465.6 429.8L465.6 428.5L465.6 427.2L466.9 427.1L468.2 427.3L468.9 426.2L469.3 425.0L468.1 424.7L466.8 424.4M473.8 427.5L472.5 427.4L473.0 428.6L472.9 429.9L472.7 431.2L471.9 432.2L470.9 431.4L472.0 430.7L472.6 429.5M464.4 434.2L464.9 435.4L465.2 436.6L465.4 437.9L465.9 439.1L465.8 440.4L467.0 439.9L468.0 440.8L469.3 441.0M489.5 444.2L489.4 445.5L490.1 446.6L491.2 447.3L491.6 448.5L490.7 449.4L490.0 450.5L489.3 451.6L488.1 452.3M475.3 450.6L475.5 451.9L476.7 452.5L476.5 453.8L475.6 454.7L474.3 455.0L473.0 455.0L471.9 455.6L472.4 456.8M469.1 435.8L468.0 436.6L466.8 437.0L467.3 435.8L468.1 434.8L468.4 436.0L468.8 437.3L469.9 438.0L470.6 439.0M473.8 432.5L474.1 433.8L474.6 435.0L475.3 433.9L476.6 434.1L476.8 432.8L476.1 431.7L477.0 430.8L476.7 429.6M462.8 448.6L463.9 447.9L465.1 447.6L465.1 446.3L465.3 445.1L465.7 443.8L466.9 444.4L468.1 444.7L468.6 445.9M470.5 430.6L471.1 431.7L472.1 432.6L472.4 433.8L471.9 435.0L472.0 436.3L472.5 437.5L472.1 438.7L472.7 439.9M472.4 428.1L472.3 429.4L471.0 429.5L470.1 428.6L470.5 427.4L471.1 426.2L472.4 426.1L473.3 425.2L472.4 424.2M462.8 437.8L462.2 436.7L460.9 436.3L459.7 436.6L458.5 437.1L459.1 438.2L459.7 439.3L460.7 440.2L460.7 441.5M484.0 447.4L483.3 448.4L482.1 447.9L481.0 448.7L482.3 448.2L483.2 447.3L484.0 446.3L485.3 446.2L486.4 446.8M490.0 444.4L491.3 444.5L490.4 445.4L490.0 446.7L491.2 447.2L491.8 448.4L492.5 449.5L493.1 450.6L492.5 451.8M459.2 439.6L458.5 438.5L459.0 437.3L458.7 436.0L459.2 434.8L460.5 434.8L460.6 436.1L461.5 437.0L462.4 437.9M483.2 430.9L483.3 432.2L482.2 432.8L481.1 433.6L479.9 433.1L479.5 434.3L478.6 435.3L477.3 435.4L476.9 436.7M477.4 435.4L478.0 436.6L479.1 435.9L478.2 435.0L478.1 433.7L478.9 432.6L478.2 431.5L478.6 430.3L479.9 430.2M478.7 430.7L480.0 430.7L478.8 431.3L480.1 431.4L481.3 431.9L482.5 431.5L483.4 432.5L484.5 433.2L485.4 434.1M485.7 445.0L486.0 443.8L486.6 442.6L485.6 441.7L484.3 441.8L483.4 442.7L483.3 444.0L484.4 444.8L485.1 445.8M481.4 446.4L482.1 445.4L481.6 444.1L480.6 443.3L479.9 442.2L479.8 440.9L481.1 440.9L482.3 441.3L482.0 440.0M479.8 449.0L478.9 448.1L477.9 447.2L477.0 448.1L476.0 447.3L475.5 446.1L476.5 445.4L476.0 444.2L476.8 443.2M480.4 428.5L480.1 429.7L481.0 430.7L481.4 431.9L481.4 433.2L482.7 433.5L482.9 432.2L483.0 433.5L483.7 434.6M489.7 438.6L490.1 439.9L491.4 439.9L492.6 440.5L493.8 440.2L493.2 439.0L494.1 438.1L495.4 438.1L496.7 438.4M479.0 442.6L480.3 442.7L480.1 441.4L481.0 440.4L480.6 439.1L480.8 437.8L481.9 437.3L482.7 436.3L482.0 435.2M479.8 448.7L480.3 449.9L481.6 449.8L482.1 451.0L483.3 450.6L484.3 449.8L484.5 448.5L483.6 447.6L483.8 448.9M483.2 440.2L482.3 439.3L481.1 438.8L479.9 439.3L478.7 439.6L479.0 440.8L478.0 441.7L476.9 442.4L476.6 441.2M477.2 451.4L476.0 450.8L474.7 450.7L473.8 449.8L472.6 450.4L473.2 451.6L474.4 451.9L475.7 451.6L477.0 451.8M478.5 448.9L479.4 449.8L480.7 449.4L480.5 448.1L479.7 447.1L478.5 447.5L477.9 446.3L477.7 445.0L476.5 445.6M483.5 439.6L484.5 440.5L485.4 441.4L485.3 442.7L484.9 444.0L485.0 445.3L484.8 444.0L484.1 442.9L483.6 444.0M484.3 440.1L485.6 440.0L486.8 440.4L487.7 439.5L489.0 439.4L490.2 438.7L490.0 440.0L490.8 441.0L491.6 442.1M460.1 440.4L460.9 439.5L460.0 438.5L458.7 438.4L457.7 437.6L456.8 436.7L455.7 436.0L454.9 436.9L453.6 436.9M483.4 432.3L482.7 433.4L482.5 434.7L483.4 435.7L482.9 436.9L483.5 438.1L483.5 439.4L483.3 440.7L483.5 441.9M469.7 443.4L470.9 444.0L471.1 445.3L472.3 445.9L473.3 446.7L474.5 447.3L475.4 446.4L476.5 445.7L475.2 445.7M479.0 436.1L480.2 435.7L481.4 435.1L482.5 434.4L483.8 434.4L484.5 433.3L484.8 432.0L483.5 432.0L482.2 431.8M482.2 451.4L481.1 452.1L481.7 450.9L481.0 449.8L479.7 449.9L478.5 449.3L477.3 448.8L477.1 447.5L477.6 446.3M489.3 435.5L489.4 434.2L490.4 433.3L491.5 432.6L491.6 431.3L491.1 432.5L490.0 433.3L489.0 434.1L489.1 435.4M471.4 448.5L471.9 447.3L471.7 446.1L471.1 444.9L469.8 444.7L468.6 445.2L467.3 445.2L466.0 445.1L464.9 444.4M481.8 440.3L481.6 441.6L480.6 442.5L479.9 443.5L479.3 444.7L479.2 446.0L477.9 446.3L476.6 446.1L475.5 445.5M482.0 434.2L482.1 435.5L481.9 436.8L480.7 436.4L479.9 437.5L479.8 438.7L478.7 439.4L479.0 438.1L479.0 436.8M469.0 430.6L470.3 430.8L470.4 432.1L470.6 433.4L471.5 432.5L472.7 432.2L474.0 432.5L474.9 433.4L475.5 432.3M459.8 445.8L460.6 444.7L461.8 445.2L460.5 445.4L460.9 444.2L459.8 443.5L459.3 442.3L458.4 443.3L457.6 442.3M478.7 447.0L478.5 448.3L479.7 447.9L481.0 448.1L482.1 448.8L482.6 450.0L483.8 450.5L484.9 449.7L485.8 448.8M468.2 436.8L466.9 437.2L465.8 437.9L464.6 437.5L463.3 437.8L462.0 438.0L461.0 438.8L460.4 439.9L459.9 441.1M460.6 436.4L461.5 437.4L461.2 438.6L461.2 439.9L460.0 439.6L459.0 438.8L458.2 439.8L456.9 440.0L455.6 440.2M485.4 441.6L486.0 440.4L487.3 440.6L488.4 441.3L489.4 442.0L490.6 441.4L491.2 442.6L490.6 443.8L489.5 443.1M472.5 439.1L472.4 437.8L473.5 437.1L474.7 436.6L474.2 435.4L473.0 435.8L472.4 434.7L473.3 433.8L473.2 432.5M461.8 445.5L463.1 445.9L464.1 445.1L462.8 445.0L461.6 445.5L460.4 446.0L459.4 446.9L458.2 447.1L458.3 448.4M466.1 442.1L467.4 442.0L468.4 441.2L468.9 440.0L470.1 440.4L471.3 440.0L472.4 439.2L471.5 438.3L470.4 438.9M480.4 439.9L479.9 441.2L478.7 440.8L479.9 441.4L480.3 442.6L480.7 441.4L481.5 440.3L482.7 440.9L483.9 440.4M477.6 431.6L476.5 430.9L475.5 431.8L474.6 430.9L475.5 429.9L474.9 428.7L475.3 427.5L474.0 427.6L472.9 428.2M470.6 442.2L469.7 441.4L470.9 441.8L472.0 442.6L472.9 443.5L473.8 444.4L473.8 445.7L473.6 447.0L473.4 448.3M489.5 440.5L490.2 441.6L490.3 442.9L491.5 443.3L492.6 444.1L493.7 443.5L494.5 442.4L493.4 441.7L492.1 441.5M461.0 434.3L460.3 433.1L461.0 432.1L460.9 430.8L460.1 431.8L460.5 433.0L461.1 434.2L462.2 434.9L463.5 434.8M477.2 443.4L478.2 444.2L479.4 444.6L480.2 445.6L479.8 446.8L478.6 447.4L477.3 447.7L476.0 447.7L474.7 447.9M466.1 447.4L466.6 446.2L466.9 444.9L466.3 443.8L465.9 442.5L465.1 443.6L464.8 444.8L464.8 446.1L466.1 446.5M460.2 446.2L460.0 444.9L460.1 443.6L460.6 442.4L460.7 441.1L459.4 441.1L458.1 440.9L457.9 442.1L457.2 443.2M473.2 429.8L472.2 430.6L471.5 429.5L472.5 428.6L473.7 429.0L474.7 428.1L476.0 427.8L477.3 427.9L478.5 428.4M488.0 447.1L489.1 446.4L490.0 447.4L489.9 448.6L490.7 449.6L490.8 450.9L490.5 452.2L489.6 453.1L490.6 454.0M482.2 451.4L482.4 452.7L483.7 452.6L484.9 452.0L486.1 451.6L486.6 450.4L486.0 449.2L484.7 449.4L483.4 449.7M472.1 443.0L473.2 443.6L474.5 443.8L475.8 443.6L474.5 443.4L475.4 442.5L475.6 441.2L475.3 440.0L475.1 441.2M484.6 436.1L483.6 436.8L483.4 438.1L483.0 439.3L482.6 440.6L481.5 440.0L482.4 439.0L483.7 439.2L484.8 438.4M490.0 444.4L489.4 443.2L490.0 442.1L488.8 442.6L488.1 443.6L486.8 444.0L485.8 443.2L486.5 442.2L487.8 442.1M483.2 440.8L484.1 441.7L483.8 443.0L484.4 441.8L483.5 440.8L482.6 439.9L481.5 439.3L480.8 438.1L479.8 437.3M476.9 450.5L476.8 451.8L476.5 453.1L475.2 453.2L474.4 454.2L475.2 455.3L474.3 456.1L473.1 456.8L473.4 458.0M463.5 445.8L463.9 447.1L464.8 448.0L464.1 449.2L465.2 449.9L465.3 451.2L464.7 452.4L463.5 452.9L463.7 454.2M470.2 444.8L470.4 446.0L470.3 447.3L469.1 447.7L469.5 446.4L470.3 445.4L471.6 445.2L472.2 444.1L471.6 445.2M488.9 438.6L490.2 438.6L490.8 437.5L489.5 437.4L488.7 436.4L487.5 437.0L486.6 436.1L485.9 435.0L485.7 433.7M474.5 451.1L475.6 450.5L476.8 450.0L478.1 449.9L478.8 451.0L477.5 451.2L477.5 452.5L478.0 453.7L477.5 454.9M467.9 443.0L468.6 444.0L469.4 445.1L470.5 445.8L470.3 447.1L469.0 447.5L467.8 447.2L467.0 448.2L465.7 448.4M483.3 442.9L483.7 444.2L484.3 445.3L485.4 446.0L485.9 444.8L486.1 443.5L487.3 443.1L487.3 441.8L487.3 440.5M471.5 445.8L470.3 446.1L469.0 446.6L469.0 445.3L468.1 444.4L467.8 443.1L467.0 442.1L465.8 442.7L465.3 443.9M463.5 433.2L462.4 432.5L463.1 431.3L464.2 432.0L464.6 430.8L465.0 429.6L464.6 428.3L463.6 427.5L462.4 428.1M476.0 436.4L477.3 436.2L478.4 437.0L478.4 435.7L479.4 434.9L480.4 435.7L479.3 436.3L478.0 436.0L478.6 434.9M462.9 433.3L464.1 432.8L465.3 433.4L465.6 432.1L464.4 432.0L463.7 430.9L462.9 429.8L461.6 429.9L460.5 430.6M483.2 435.6L483.3 436.9L484.5 436.4L484.0 435.2L483.8 434.0L483.4 432.7L482.1 432.7L480.8 432.7L479.6 432.2M459.2 442.5L458.9 443.7L458.2 444.8L457.4 445.9L457.6 447.1L457.6 448.4L457.8 449.7L456.8 450.5L456.0 451.5M477.8 450.7L478.8 451.6L479.8 450.8L481.0 450.1L481.1 448.8L482.2 449.4L482.1 450.7L481.9 452.0L480.9 452.9M467.1 439.4L465.8 439.6L464.7 438.8L464.2 440.0L463.2 440.9L461.9 441.0L461.4 442.2L461.5 443.5L462.5 444.3M477.1 450.5L477.9 449.4L476.9 448.6L475.7 448.0L475.3 446.8L476.6 446.5L477.9 446.4L479.2 446.3L480.4 446.8M478.5 439.8L479.8 439.5L481.0 440.1L482.0 440.9L483.3 440.8L484.1 441.8L485.2 442.5L485.5 443.8L485.7 445.0M477.7 447.3L477.7 448.6L477.2 449.8L475.9 450.1L474.8 450.8L473.8 451.5L472.5 451.8L471.5 451.0L472.3 449.9M479.9 429.2L478.7 428.7L477.4 428.5L476.7 429.6L476.3 430.8L476.3 432.1L476.6 433.4L477.4 434.4L478.5 433.8M479.9 430.3L480.9 431.1L482.2 431.2L481.6 430.0L480.4 430.4L479.2 430.9L478.4 431.9L477.2 431.2L476.3 430.3M491.2 439.7L492.3 440.4L493.4 439.8L493.7 438.5L492.8 437.6L491.5 437.6L490.7 438.6L489.9 439.6L489.9 440.9M469.1 431.3L469.4 432.5L469.2 433.8L469.3 435.1L470.0 436.2L470.7 437.3L470.5 438.6L471.1 439.7L471.6 440.9M477.3 441.2L476.0 441.3L474.8 441.6L474.2 442.7L472.9 442.6L471.6 442.5L471.9 441.3L472.5 440.1L473.8 439.9M478.7 442.7L477.4 442.4L478.3 441.5L479.6 441.4L479.1 442.6L479.4 443.9L479.2 445.2L478.3 446.1L477.6 447.2M474.2 446.5L475.1 447.5L476.2 448.2L474.9 448.2L473.6 448.4L472.5 447.7L471.8 446.6L471.9 445.3L471.5 444.0M470.0 437.2L470.6 436.0L470.1 434.8L471.0 433.8L471.4 432.6L471.6 431.3L470.4 431.7L470.4 433.0L470.1 434.3M469.4 447.2L468.6 448.3L467.4 448.0L466.1 447.9L466.2 449.2L467.2 450.1L467.3 448.8L466.0 448.7L464.8 448.1" stroke="#4676c0" stroke-width="0.6" fill="none" stroke-linecap="round" stroke-linejoin="round" opacity="1"/>
<path d="M477.8 452.3L476.6 452.6L476.3 451.3L477.4 451.9L478.7 452.0L479.9 451.3L481.0 450.7L482.0 451.6L482.1 452.9M479.1 458.8L480.4 459.1L479.1 459.4L477.8 459.3L477.9 460.6L477.8 461.9L479.1 462.3L480.4 462.3L481.3 461.4M483.9 456.2L483.2 457.2L482.3 458.2L483.5 458.2L482.9 459.3L481.6 459.0L480.4 459.3L480.0 460.5L478.9 461.1M487.7 462.0L489.0 461.5L489.9 460.6L490.0 459.3L491.2 459.7L491.8 458.5L492.3 457.3L493.4 456.6L494.6 456.0M484.7 450.5L484.2 449.4L482.9 449.8L482.5 448.6L481.2 448.4L479.9 448.3L478.7 448.7L477.5 449.3L477.9 448.0M474.6 455.9L474.1 457.1L473.6 458.3L472.5 458.9L471.7 460.0L470.7 459.2L471.1 457.9L472.3 457.5L473.1 458.5M490.3 450.5L491.0 451.6L489.7 451.8L489.0 450.7L487.7 450.6L486.5 451.0L487.0 449.8L486.7 448.5L485.4 448.8M483.8 451.3L482.5 451.5L481.2 451.3L480.2 452.0L479.0 452.5L477.8 453.0L476.6 453.5L476.3 452.3L475.6 453.4M476.9 449.3L477.8 450.3L478.0 451.5L479.2 451.4L480.5 451.3L480.1 452.5L479.0 453.3L477.8 453.1L478.4 451.9M491.3 457.8L491.4 456.5L492.3 455.5L493.6 455.5L494.7 456.3L495.9 456.6L497.0 455.9L498.2 456.4L499.1 455.4M489.5 461.8L488.6 460.8L487.9 459.7L487.9 458.4L489.1 458.7L489.7 457.6L489.9 456.3L488.7 455.8L487.4 455.5M488.9 462.4L487.7 462.9L486.4 462.9L485.1 462.5L485.9 461.5L486.0 460.2L487.3 460.0L488.5 460.5L489.8 460.7M482.0 455.3L481.4 454.1L480.8 453.0L481.5 451.9L480.5 451.0L479.7 452.0L479.1 453.2L477.9 453.5L477.0 454.4M492.5 456.1L493.7 456.5L494.2 455.3L494.8 454.2L493.9 453.2L492.8 452.5L491.9 451.6L490.7 451.2L489.6 452.0M476.0 453.2L477.1 454.0L477.5 455.2L478.6 455.9L479.5 455.0L478.4 455.5L478.8 456.8L478.3 458.0L478.2 459.3M476.8 460.4L476.6 459.2L475.3 459.0L476.1 460.1L477.3 460.5L478.6 460.4L478.8 461.7L479.8 462.5L480.0 461.2M486.0 451.5L487.2 451.9L488.4 451.4L489.7 451.2L488.5 451.8L487.2 451.7L486.4 450.7L486.7 449.4L485.7 448.5M476.5 457.6L477.7 458.1L478.1 456.8L479.0 455.9L477.7 455.8L477.7 457.1L476.5 457.7L476.1 458.9L476.0 460.2M485.0 456.7L485.8 455.7L486.5 454.6L487.8 454.5L487.2 455.6L487.7 456.8L489.0 456.7L489.0 455.4L489.1 454.1M483.9 454.8L485.1 454.4L486.4 454.6L487.1 453.5L486.3 452.4L485.0 452.6L484.5 453.8L484.1 455.0L483.3 456.1M483.8 457.1L483.0 458.2L481.8 457.7L480.8 456.9L480.4 455.7L479.3 456.4L478.2 457.0L477.2 457.9L477.1 459.2M489.5 457.9L488.8 456.8L487.9 455.9L487.0 455.0L487.5 453.8L488.0 452.6L487.1 451.6L485.8 451.6L486.3 450.4M483.3 448.9L484.5 448.5L483.6 447.6L482.5 446.9L481.2 446.6L481.2 445.3L480.0 444.8L478.8 445.3L478.6 444.0M489.8 454.4L490.7 455.2L491.8 454.5L492.3 455.6L492.2 456.9L491.2 457.8L490.9 459.1L491.6 460.2L492.8 460.7M490.0 453.8L488.9 454.5L489.9 455.4L490.5 456.5L491.6 457.1L491.9 458.4L491.7 459.7L492.2 460.9L491.3 461.7M477.1 460.5L476.6 461.7L475.7 462.6L475.1 463.8L474.7 465.0L474.1 466.1L472.8 465.8L471.7 465.1L472.3 466.2M478.5 457.7L478.1 458.9L478.8 460.0L479.3 461.2L480.3 460.4L480.5 459.1L479.2 459.2L478.1 459.9L476.8 460.0M483.8 451.8L484.9 451.1L485.0 449.8L484.8 448.5L483.7 447.8L484.2 446.6L485.0 445.6L486.1 446.1L486.9 445.1M486.3 449.7L487.4 450.3L488.7 450.3L490.0 450.7L491.1 450.1L492.4 450.4L493.7 450.5L493.8 451.8L493.9 453.1M478.7 450.0L479.3 451.2L480.5 451.6L481.4 452.6L480.8 453.7L480.8 452.4L480.8 451.1L480.1 450.0L478.9 449.6M475.7 453.4L474.9 452.4L474.5 451.2L475.7 451.7L476.9 452.2L478.1 451.6L479.2 450.9L479.1 449.6L480.4 449.3M479.0 448.9L478.5 450.1L478.9 451.4L480.1 451.8L480.2 453.1L479.6 454.3L478.3 454.2L477.2 453.5L477.4 452.3M485.2 449.6L484.1 449.0L482.9 449.5L481.7 449.9L480.7 449.0L482.0 449.0L483.3 449.0L484.2 449.9L485.0 448.9M491.4 461.0L492.6 461.3L493.9 461.5L493.9 460.2L494.8 459.3L493.8 458.4L493.2 457.3L492.8 456.0L491.9 455.1M477.6 463.5L477.5 462.2L477.6 460.9L478.6 460.0L479.5 459.1L480.6 458.5L481.6 457.6L480.6 456.8L479.3 457.1M480.6 461.6L480.1 462.8L480.2 464.1L480.4 465.4L479.8 466.5L478.6 465.9L477.7 465.0L477.8 463.7L477.8 462.4M491.9 452.5L492.3 451.3L493.1 450.3L492.5 449.1L491.5 448.2L490.3 448.0L489.2 447.2L487.9 446.9L486.7 447.2M479.7 452.1L478.7 452.9L479.1 451.7L480.2 451.1L480.7 449.9L480.6 448.6L481.9 448.5L483.0 449.2L484.3 449.1M476.7 457.0L477.1 455.8L477.0 454.5L477.9 453.5L476.7 452.9L476.3 451.7L475.1 452.0L474.6 453.2L475.7 454.0M476.5 450.4L477.8 450.6L479.1 450.5L479.0 451.8L480.2 452.2L480.2 450.9L478.9 451.0L477.8 450.3L478.1 449.0M481.6 451.4L482.1 450.2L481.7 449.0L480.4 449.0L480.6 447.7L481.7 446.9L482.8 446.4L484.0 445.8L484.7 444.6M483.4 449.9L483.1 448.7L482.1 447.9L481.2 448.8L480.1 449.5L479.5 450.7L479.2 451.9L478.4 453.0L477.4 453.7M481.5 460.5L481.2 459.2L481.4 457.9L481.7 456.7L482.7 455.9L483.8 455.1L485.0 454.7L485.2 453.4L484.1 453.9M478.2 452.6L479.4 452.9L478.7 453.9L478.7 455.2L478.5 456.5L478.7 457.8L479.6 456.9L480.9 457.3L481.6 458.4M488.8 447.7L488.2 446.5L487.2 445.7L486.2 446.6L487.0 447.7L486.6 448.9L485.7 449.8L484.7 450.6L484.1 451.8M488.3 449.4L489.5 449.7L490.1 450.9L490.3 452.2L490.9 453.3L490.6 454.6L490.2 455.8L491.5 456.0L492.6 456.6M489.1 462.9L487.8 463.0L487.3 461.9L487.0 460.6L487.3 459.3L488.4 458.5L489.7 458.4L490.9 458.3L492.2 458.7M477.8 456.2L478.7 455.3L479.5 454.4L479.0 453.2L477.8 453.8L476.6 453.7L477.3 454.7L476.7 455.9L477.1 457.1M482.1 451.4L481.4 450.3L480.2 449.7L479.4 448.7L479.5 450.0L480.6 449.2L481.7 449.8L482.8 449.1L483.8 448.2M486.1 462.8L487.1 463.7L487.0 464.9L486.1 465.9L485.8 467.2L484.7 466.5L484.1 465.4L482.8 465.7L482.1 464.6M490.0 453.3L491.3 453.4L492.4 454.1L493.7 453.7L494.1 452.4L494.6 451.2L495.5 450.3L495.8 451.6L496.2 452.8M489.7 462.9L490.9 462.4L492.0 461.7L493.1 461.0L492.0 460.4L491.6 459.1L491.1 457.9L490.5 456.8L490.4 455.5M474.5 456.1L474.6 457.4L475.9 457.6L476.2 458.8L475.0 458.7L473.7 458.4L472.6 457.6L473.4 456.6L473.4 455.3M481.2 452.4L482.5 452.6L482.6 453.9L482.4 455.2L482.8 456.4L483.4 457.5L483.1 458.8L484.1 459.5L485.3 459.0M487.6 456.8L487.1 455.7L488.2 455.0L487.9 453.7L488.7 452.7L489.9 452.3L491.2 452.2L492.5 452.5L492.7 451.2M479.5 448.5L480.7 448.1L482.0 447.9L480.7 447.8L479.5 448.1L478.3 448.8L477.9 450.0L476.7 450.6L475.5 450.9M489.2 454.4L490.5 454.5L490.2 453.2L489.0 453.5L488.2 454.5L486.9 454.3L486.0 453.4L487.0 452.6L487.6 453.8M481.3 456.1L480.3 456.8L479.1 457.4L478.0 458.1L477.1 459.0L476.1 459.8L475.9 461.1L474.6 461.4L473.5 462.1M474.4 453.9L475.5 454.7L475.8 455.9L474.5 455.7L473.2 456.0L472.0 456.3L471.0 457.2L472.2 457.6L473.5 457.4M492.2 459.2L492.5 460.5L492.3 461.7L491.0 461.8L491.6 462.9L492.0 464.1L490.8 464.1L491.6 465.1L491.0 466.2" stroke="#4676c0" stroke-width="0.6" fill="none" stroke-linecap="round" stroke-linejoin="round" opacity="1"/>
<path d="M461.8 441.3L461.1 442.4L460.4 443.5L460.7 444.8L460.8 446.1L459.7 446.8L458.5 446.2L457.9 445.0L457.0 444.1M460.8 440.9L460.6 439.6L460.1 440.8L461.2 441.5L462.5 441.3L463.2 440.3L464.5 440.0L465.7 439.5L466.9 438.9M462.4 441.5L462.9 440.3L463.6 439.2L463.3 438.0L462.3 438.8L461.8 440.0L461.3 438.8L461.6 437.6L461.5 436.3M453.9 449.0L453.1 450.0L451.8 449.9L450.5 450.2L449.7 451.2L448.5 451.7L448.3 453.0L448.1 454.3L448.1 455.6M459.1 440.7L459.3 442.0L459.3 443.3L458.3 444.2L457.3 443.4L457.2 442.1L458.5 442.0L459.2 443.1L459.7 444.3M458.1 444.8L459.2 445.3L458.5 446.4L457.6 447.3L458.2 448.5L459.3 449.0L460.6 448.6L461.4 449.6L462.3 450.5M457.9 447.6L457.8 446.3L459.0 446.0L460.2 446.6L459.7 447.8L460.5 448.9L461.3 449.9L461.8 451.1L463.1 450.8M462.5 442.7L463.3 441.7L464.1 440.7L465.3 440.0L466.5 439.7L467.7 440.2L468.2 441.4L469.1 440.4L468.1 439.6M457.6 442.5L457.0 441.4L457.2 440.1L456.7 438.9L457.5 437.9L457.2 436.7L456.3 435.7L455.3 436.5L454.0 436.4M461.7 442.8L461.7 441.5L460.5 440.9L460.0 439.7L458.8 440.3L457.9 441.2L459.1 441.8L459.9 442.8L461.2 442.8M459.3 443.0L458.1 442.6L457.6 443.8L456.3 443.4L455.3 442.6L454.9 441.3L454.5 440.1L454.5 438.8L454.6 437.5M454.1 443.9L452.8 443.9L453.6 444.9L452.7 445.8L452.2 447.0L452.6 448.2L453.2 449.4L454.4 449.8L455.6 450.2M458.2 444.8L457.5 443.7L457.3 442.4L458.2 441.5L458.1 440.2L457.1 441.0L456.7 442.2L455.6 442.8L454.9 443.9M454.6 450.5L453.4 451.1L453.6 449.8L453.2 448.6L452.5 447.5L452.1 446.2L452.4 445.0L452.5 443.7L451.2 443.7M451.9 446.4L451.6 445.1L451.8 443.9L452.0 442.6L452.1 441.3L453.1 440.5L454.3 440.1L455.6 440.2L456.2 441.4M456.2 444.7L454.9 444.3L453.7 444.0L452.4 444.1L451.1 443.9L449.8 443.7L449.3 442.5L448.1 442.1L446.8 442.4M453.1 446.4L453.0 447.7L451.7 448.1L451.9 449.4L453.0 450.1L454.2 449.8L455.3 449.0L456.5 448.5L456.3 447.2M456.1 444.7L454.8 444.4L454.1 443.3L452.8 443.3L451.5 443.5L451.7 444.8L450.5 445.1L449.5 445.9L448.5 445.0M459.4 441.1L458.8 439.9L458.6 438.6L457.3 438.5L456.8 439.7L456.6 441.0L456.2 442.2L457.4 442.9L457.7 444.1M459.7 448.1L460.7 448.9L459.9 449.9L460.3 451.2L461.1 452.2L462.3 452.7L462.7 453.9L462.5 455.2L462.7 456.5M454.5 445.0L453.2 444.5L452.4 443.6L452.7 442.3L452.4 441.0L453.7 441.3L454.2 440.1L455.0 441.2L454.6 442.4M460.9 444.1L460.5 445.3L461.7 445.9L463.0 445.9L464.2 446.2L464.6 447.4L464.0 448.6L462.8 448.8L461.5 448.5M459.6 446.0L458.3 446.4L457.5 447.4L458.4 448.4L459.6 447.8L459.8 449.1L461.1 449.4L460.2 450.4L459.1 451.2M464.2 448.0L463.2 448.8L462.8 450.1L463.1 451.3L463.6 452.5L463.6 453.8L462.8 452.9L463.3 451.7L462.9 450.4M457.5 450.5L458.8 450.7L458.7 452.0L457.6 451.2L456.6 450.5L456.6 449.2L455.7 448.3L455.6 447.0L454.9 445.9M455.6 444.1L456.6 443.1L457.0 441.9L457.6 440.8L458.6 439.9L459.8 439.4L460.4 440.6L459.2 441.1L459.5 442.4M452.0 444.4L450.9 443.6L449.8 444.2L450.2 442.9L451.5 442.6L452.7 442.4L454.0 442.7L455.3 442.9L456.5 442.4M452.8 444.8L453.9 444.1L454.4 442.9L455.6 442.4L455.3 443.6L455.9 444.8L456.4 446.0L455.7 447.1L455.9 448.4M462.5 441.6L463.7 441.1L465.0 441.1L466.2 441.5L466.2 442.8L467.3 442.0L466.4 441.0L467.1 440.0L465.9 439.6M463.2 444.1L463.5 445.3L463.9 446.6L463.2 447.6L462.4 446.6L461.6 445.6L461.2 444.4L459.9 444.6L459.4 445.8" stroke="#4676c0" stroke-width="0.6" fill="none" stroke-linecap="round" stroke-linejoin="round" opacity="1"/>
<path d="M460.8 429.4L461.9 428.7L463.2 428.4L463.4 427.2L464.6 426.6L465.8 426.9L466.6 425.8M463.5 432.3L464.0 433.6L463.6 434.8L462.6 435.7L461.4 435.3L460.3 434.6L460.5 433.3M461.3 429.3L461.7 430.5L460.5 431.2L459.6 430.3L459.2 429.0L460.5 429.0L461.6 429.8M461.4 428.5L460.2 429.0L458.9 429.2L459.4 428.0L459.3 426.7L460.5 426.3L461.8 426.7M460.3 432.8L461.4 433.4L461.8 432.2L463.1 432.6L462.4 431.5L461.9 430.3L461.8 429.0M462.7 432.6L462.1 431.4L460.9 431.9L459.9 432.8L459.2 433.9L460.0 432.9L460.9 431.9M465.7 432.9L466.3 431.7L467.3 431.0L468.1 429.9L469.2 429.3L470.4 429.8L471.7 430.0M462.6 425.6L461.5 424.8L460.5 424.0L460.5 422.7L460.2 421.5L459.4 420.5L458.1 420.5M465.0 434.1L464.0 433.2L462.8 432.9L461.5 433.1L460.9 434.3L460.0 435.3L459.8 436.5M467.6 434.3L466.3 434.6L465.3 435.4L464.1 435.2L462.8 435.2L461.5 434.9L461.0 433.7M464.4 429.4L463.1 429.7L462.0 430.4L462.6 431.5L463.1 432.7L464.4 432.8L464.6 431.5M462.5 428.3L462.4 427.0L463.7 427.4L462.4 427.1L461.6 428.1L460.5 427.3L461.2 426.2M468.4 430.8L468.4 429.5L468.6 428.2L469.0 427.0L467.7 426.7L466.5 426.4L465.2 426.1M467.6 427.4L466.4 427.1L466.1 425.9L466.2 424.6L467.0 423.5L468.2 424.1L469.0 423.1M467.8 433.0L469.0 432.7L470.3 432.3L470.3 433.6L470.9 434.8L469.8 435.4L469.9 436.7M464.7 428.4L463.9 429.5L462.7 429.0L461.4 429.2L460.3 428.6L459.1 428.9L458.3 430.0M460.3 427.9L459.8 429.2L458.9 430.0L459.2 431.3L459.4 432.6L460.7 432.7L461.3 433.8M464.6 432.7L464.2 431.4L463.3 430.5L464.4 429.8L465.6 429.4L466.0 430.7L464.7 430.9M466.4 433.0L465.3 433.6L464.0 433.9L465.3 434.2L466.2 435.1L464.9 435.1L463.8 435.8M465.6 432.2L465.8 430.9L465.8 429.6L464.6 429.2L463.4 429.7L462.2 429.2L463.2 430.1M465.4 430.5L464.6 431.6L463.3 432.0L462.3 432.8L461.2 433.5L461.1 432.2L460.7 431.0M462.2 434.0L462.9 432.9L462.2 431.8L460.9 432.0L460.1 433.1L459.1 433.9L457.8 433.5M466.2 426.4L465.4 425.4L464.7 424.3L465.9 423.8L466.3 422.6L465.8 421.4L464.5 421.6M463.1 427.9L463.7 426.8L464.6 425.8L465.7 426.5L466.7 427.4L467.5 428.3L468.4 429.3M460.3 434.3L459.8 433.1L459.2 432.0L458.0 431.4L457.6 430.2L457.4 428.9L457.8 427.6M461.3 434.6L460.9 435.9L459.6 436.0L458.3 435.8L458.1 434.5L459.1 433.7L460.3 434.1M460.2 434.9L458.9 435.1L457.6 434.9L456.3 434.9L455.2 434.3L454.1 435.1L453.6 433.9M464.1 435.7L463.1 436.5L462.4 437.6L461.1 437.7L460.2 436.8L460.4 435.5L460.2 434.2M467.0 428.5L467.9 427.6L467.6 426.3L468.8 425.8L469.7 426.7L470.8 427.5L471.2 428.7M462.6 432.6L463.3 431.5L463.7 430.3L462.6 429.5L463.4 428.6L462.6 427.6L462.2 426.3" stroke="#d98a28" stroke-width="0.7" fill="none" stroke-linecap="round" stroke-linejoin="round" opacity="1"/>
<path d="M513.6 465.8L513.1 467.0L514.4 466.9L514.8 465.7L513.9 464.8L512.7 464.3L512.9 463.0L511.6 462.9L511.3 464.1M517.7 466.6L519.0 466.9L518.0 467.7L516.7 467.7L515.8 468.7L514.9 469.6L514.2 470.7L513.7 471.9L513.5 473.2M512.8 454.0L513.8 453.2L515.1 453.1L515.3 454.4L515.3 455.7L514.6 456.7L515.2 457.9L515.7 459.1L514.7 460.0M521.1 460.5L520.8 461.8L520.9 463.1L519.6 462.8L520.2 464.0L519.2 464.8L518.0 465.3L518.7 464.2L519.0 463.0M510.4 460.1L510.1 458.8L510.2 457.5L509.3 456.6L508.2 455.9L508.1 457.2L509.0 458.2L510.3 458.3L509.8 459.5M525.3 463.1L524.1 463.7L524.0 465.0L523.2 466.0L521.9 465.7L521.5 464.5L520.2 464.6L520.7 465.7L522.0 465.9M523.1 464.9L522.3 463.9L522.5 465.2L522.9 466.4L522.6 467.7L522.6 469.0L523.9 469.2L524.9 468.3L524.7 469.6M520.5 460.9L519.2 460.9L518.1 461.7L516.9 462.0L515.7 462.7L515.3 463.9L516.6 463.9L517.7 463.2L518.2 462.0M515.2 466.2L514.2 465.4L513.1 464.6L512.8 463.4L513.1 462.1L512.6 460.9L512.5 459.6L511.8 458.5L510.8 459.3M517.3 456.0L518.0 457.0L519.3 457.0L520.6 457.0L520.9 455.8L520.7 454.5L520.8 453.2L519.5 453.1L520.0 454.3M514.2 452.1L515.4 451.8L515.8 450.6L517.0 450.1L517.6 451.2L516.8 452.3L515.8 453.1L515.4 454.3L514.2 454.7M513.0 460.7L513.9 461.7L513.0 462.7L512.0 463.4L512.2 464.7L513.1 463.8L514.3 463.6L515.5 463.1L516.4 462.1M520.5 459.8L521.5 459.0L521.9 457.7L521.8 456.4L520.5 456.3L519.5 457.1L519.1 455.9L518.0 456.5L516.9 457.2M520.3 452.4L519.1 451.9L518.2 451.0L519.4 451.3L519.4 450.0L519.0 451.2L519.7 452.3L520.7 453.2L520.6 454.5M517.2 456.6L517.9 455.5L519.2 455.4L519.5 454.1L518.3 453.5L517.1 453.1L516.1 452.3L517.1 451.5L518.0 450.6M520.6 453.4L521.6 454.1L522.9 454.3L523.9 455.1L522.9 455.9L521.7 456.5L521.5 455.2L522.3 454.2L523.6 454.0M512.1 461.1L512.9 460.0L514.1 459.6L515.4 459.9L516.5 459.3L516.9 458.1L517.3 456.8L516.7 455.7L516.0 454.5M511.1 461.4L511.2 460.1L511.8 458.9L511.5 457.7L512.4 456.7L512.1 455.4L512.1 454.1L512.4 452.9L511.1 453.2M517.1 466.4L518.4 466.3L519.6 466.7L520.4 465.7L520.5 464.4L521.7 463.9L523.0 464.2L524.2 463.8L525.1 462.9M523.0 457.7L522.2 458.7L522.6 460.0L523.8 459.6L523.4 458.4L524.4 457.5L524.9 456.3L524.0 457.3L522.8 456.8M525.0 454.5L523.8 455.1L524.3 456.3L525.2 457.2L526.3 458.0L526.8 459.1L528.1 459.5L527.6 458.3L527.2 457.1M520.0 456.2L519.0 455.4L518.1 456.3L517.2 457.3L518.5 457.6L519.6 457.0L520.9 456.7L522.1 456.4L522.3 457.7M510.7 457.0L509.4 456.9L508.1 457.0L507.1 456.1L505.9 455.6L504.8 454.9L504.1 453.9L503.8 455.1L503.3 456.3M517.3 457.3L518.0 456.3L516.8 455.8L515.8 456.6L515.4 457.9L515.9 459.1L515.1 460.1L513.8 460.2L514.6 461.3M517.8 452.0L517.5 450.8L516.3 450.2L516.8 451.4L517.3 452.6L517.3 453.9L518.3 454.7L519.6 454.9L519.5 456.2M525.3 456.3L524.3 455.4L524.3 454.1L524.4 452.8L525.4 452.0L525.9 450.8L525.4 449.6L525.1 448.3L526.4 448.2M513.8 459.7L513.5 458.5L514.7 457.9L515.0 456.7L514.9 455.4L515.3 454.1L516.3 453.3L516.1 452.0L515.0 451.2M516.1 463.4L516.5 464.6L516.7 465.9L516.3 467.1L515.7 466.0L514.5 465.4L513.8 466.4L513.0 465.4L512.8 464.1M520.1 463.5L519.2 462.6L519.4 461.3L518.4 460.5L517.8 461.6L517.1 462.7L516.2 463.7L515.1 464.3L515.1 465.6M514.6 460.4L515.6 461.2L515.3 462.5L516.4 463.1L517.5 463.8L517.7 465.0L516.6 465.7L515.5 465.1L514.7 464.1M515.4 455.3L516.6 455.7L517.4 454.7L516.2 454.2L515.2 453.4L514.1 452.7L513.3 451.8L514.5 451.9L514.9 453.2M518.6 461.7L517.3 461.9L516.0 462.1L514.8 461.7L514.1 462.7L513.8 464.0L514.7 464.9L515.1 463.7L513.8 463.8M510.9 459.3L510.2 458.2L509.2 457.4L508.5 458.5L509.0 459.7L508.0 458.9L506.7 458.9L506.3 460.2L505.6 461.2M513.9 462.8L514.0 461.5L512.8 461.0L511.5 460.8L510.3 460.2L510.3 458.9L511.6 458.8L512.2 460.0L511.6 461.2M524.3 453.3L525.5 453.7L526.8 453.5L528.1 453.5L529.4 453.4L530.2 454.4L531.5 454.5L532.4 453.6L532.8 452.3M515.5 463.7L516.8 463.6L516.4 464.8L515.2 465.3L514.0 464.8L512.8 464.4L512.0 463.3L513.3 463.3L514.5 463.1" stroke="#4a7cc4" stroke-width="0.5" fill="none" stroke-linecap="round" stroke-linejoin="round" opacity="1"/>
<path d="M507.5 477.5L508.0 476.3L507.1 475.4L505.8 475.8L505.3 474.6L504.2 473.9L503.5 472.8L502.5 471.9L501.7 471.0M520.6 479.9L519.4 480.3L518.2 480.8L517.5 479.8L516.3 479.2L515.2 478.6L514.5 477.5L513.2 477.4L512.5 476.3M513.7 486.8L513.2 488.0L513.9 489.1L513.0 490.0L514.3 489.9L514.5 488.6L514.4 487.3L515.1 486.2L514.4 485.1M510.2 479.9L509.6 481.0L508.6 480.2L507.3 480.3L506.2 480.9L505.0 481.5L503.8 481.9L502.5 481.5L501.4 480.9M511.9 474.1L513.1 474.4L513.0 475.7L513.1 476.9L512.4 478.0L511.9 479.2L512.5 480.3L513.7 480.9L514.8 481.6M505.4 478.7L504.8 479.9L504.0 480.9L505.3 480.8L505.3 482.1L504.0 482.3L503.3 481.2L504.2 480.3L503.7 479.1M517.6 492.4L517.2 493.6L518.2 494.5L519.5 494.1L519.5 492.8L520.5 491.9L520.1 490.7L520.9 489.7L521.0 488.4M508.4 479.7L508.3 478.4L507.2 477.9L506.3 477.0L507.5 476.8L508.5 475.9L509.8 476.0L510.8 475.2L511.0 473.9M515.8 485.0L516.1 486.3L517.2 487.0L518.2 487.8L518.4 489.1L518.1 490.4L517.9 491.7L516.8 492.2L517.8 491.4M510.0 479.2L509.2 478.2L508.5 477.1L507.9 476.0L507.4 474.7L508.3 473.8L509.3 473.0L510.6 472.6L511.7 473.4M510.7 489.0L509.5 489.5L508.5 488.7L507.9 487.5L508.2 486.2L509.4 485.8L510.4 485.0L510.8 483.8L512.1 483.7M512.9 491.6L511.6 491.7L511.5 490.4L512.0 489.2L511.1 488.3L509.9 488.7L508.6 488.6L508.2 487.3L507.0 487.0M512.5 488.6L513.4 489.4L514.7 489.3L515.7 488.4L515.3 487.1L514.2 486.5L512.9 486.3L512.5 485.0L512.8 483.8M517.5 478.0L517.2 479.2L516.2 480.1L515.1 480.8L514.6 482.0L514.3 483.2L513.0 483.6L512.5 482.4L513.8 482.2M507.0 486.5L507.8 485.4L509.1 485.7L510.2 485.2L511.5 485.0L512.7 484.4L512.6 485.7L511.3 486.1L511.6 487.4M506.8 493.3L508.1 493.6L507.1 492.7L506.4 491.6L507.5 490.9L508.8 490.8L509.4 489.6L509.5 488.3L509.2 487.1M508.3 491.0L508.1 489.8L509.4 489.9L508.1 489.8L508.8 491.0L510.1 491.1L511.4 491.0L511.0 489.8L512.1 489.1M516.0 477.4L515.0 478.2L514.8 479.5L513.7 478.8L512.7 479.7L511.8 480.6L511.0 481.6L511.1 482.9L509.8 483.1M514.9 490.5L514.8 489.2L514.2 488.0L514.9 486.9L513.8 487.5L512.5 487.9L511.3 488.2L511.4 489.5L512.0 490.6M509.8 488.0L509.7 489.3L511.0 488.9L511.5 487.7L512.8 487.6L512.9 488.9L511.6 488.7L510.4 489.1L509.8 490.3M517.4 488.7L517.2 490.0L517.6 491.3L518.4 492.3L518.6 491.1L519.4 490.0L520.3 489.1L520.3 490.4L520.1 491.7M505.4 478.9L506.6 478.7L507.8 479.3L506.8 480.2L506.3 481.4L506.4 482.7L505.7 483.9L504.5 483.6L504.2 484.9M518.8 479.6L517.5 479.6L517.4 480.9L518.7 481.2L519.6 482.1L520.0 483.3L519.9 484.6L521.2 485.1L522.3 485.8M515.4 482.9L515.8 484.1L517.1 484.1L517.6 485.3L516.3 485.5L515.2 484.9L514.0 484.3L513.0 485.2L512.6 486.4M505.7 488.6L506.9 489.0L506.8 490.3L506.4 491.5L505.4 492.3L505.4 493.6L505.8 494.9L506.2 496.1L507.0 497.1M511.8 477.4L510.7 476.6L509.5 476.4L509.6 477.7L510.8 478.0L511.9 478.8L512.6 479.9L512.2 481.1L510.9 481.2M510.8 484.6L509.6 484.0L508.4 484.5L507.2 485.1L506.0 484.8L504.9 484.1L503.6 484.0L502.4 483.5L501.4 484.3M511.2 479.4L510.4 478.4L509.6 477.3L508.3 477.5L507.1 477.8L505.9 477.2L506.1 478.5L504.8 478.6L504.4 479.8M514.3 489.1L513.8 487.9L513.3 486.7L514.5 486.1L515.7 485.6L516.8 485.0L516.0 484.1L514.7 483.8L513.6 484.5M515.4 473.0L514.2 473.3L513.6 472.1L512.4 471.8L511.2 471.2L510.6 470.1L511.8 470.6L512.1 471.8L512.8 472.9M511.2 492.2L510.4 493.2L510.8 494.4L511.0 495.7L511.7 496.8L512.8 497.5L512.7 498.8L514.0 498.6L515.0 499.4M508.7 479.1L507.4 479.2L506.2 479.8L506.2 481.1L507.5 481.3L508.1 480.2L508.7 479.0L507.4 479.0L506.3 479.7M512.8 481.7L512.0 480.7L510.8 481.0L509.5 480.9L508.2 480.7L508.0 479.4L506.7 479.7L507.7 478.9L509.0 479.0M514.4 479.8L513.4 479.0L512.7 480.1L511.7 479.2L511.9 477.9L511.8 476.6L511.0 475.6L510.9 474.3L509.7 473.8M513.8 476.3L514.3 477.5L514.0 478.7L512.7 478.7L511.7 477.9L510.7 477.0L509.5 477.3L508.2 477.6L509.5 477.7M516.8 476.2L516.4 477.5L515.1 477.1L514.0 477.7L512.7 477.3L512.2 476.2L511.9 474.9L511.7 473.6L510.5 473.1M516.7 481.6L515.7 480.8L516.2 479.6L517.1 478.7L518.4 478.9L519.4 478.1L520.5 478.6L521.8 478.9L522.7 477.9M511.5 485.2L511.7 483.9L513.0 484.1L513.4 482.8L512.9 481.6L512.9 480.3L514.1 479.8L513.5 478.6L514.7 478.2M507.3 486.1L506.8 484.9L506.2 483.8L505.4 482.8L504.1 483.0L503.1 482.2L503.1 480.9L504.2 481.6L503.8 480.4M518.4 485.4L517.2 485.0L517.7 486.2L517.6 487.5L517.7 488.8L517.7 490.1L516.9 491.1L516.0 492.0L517.2 492.4M510.8 482.7L509.5 482.7L508.2 482.5L507.6 483.7L506.6 484.5L506.1 485.6L506.1 486.9L507.3 487.5L506.2 488.2M515.1 480.3L516.0 479.3L515.8 478.0L517.1 478.1L518.3 477.5L518.6 476.3L517.3 476.1L516.1 475.7L515.6 474.4M513.0 480.7L512.3 481.8L513.5 482.3L514.5 481.5L515.7 481.9L516.7 481.1L515.6 481.8L515.0 482.9L515.8 483.9M511.3 496.1L510.9 494.9L509.8 494.2L509.1 493.1L508.7 491.9L509.4 490.8L510.2 489.8L511.0 488.8L511.2 487.5M511.8 485.0L510.5 484.7L509.5 484.0L510.7 483.8L511.9 483.2L512.4 482.0L511.3 481.2L510.1 480.7L510.9 479.6" stroke="#4a7cc4" stroke-width="0.5" fill="none" stroke-linecap="round" stroke-linejoin="round" opacity="1"/>
<path d="M534.7 463.0L534.5 464.3L533.2 464.1L533.3 462.8L534.1 461.8L534.0 460.6L532.9 459.8L531.7 459.3L531.2 458.1M534.9 456.0L536.1 456.5L535.9 455.2L536.7 454.2L537.6 455.1L537.5 453.8L538.5 453.0L539.6 452.3L540.8 452.7M528.2 464.0L528.9 462.9L529.5 461.8L530.8 461.7L530.9 460.4L531.0 459.1L530.9 457.8L530.8 456.5L531.8 455.6M532.2 460.2L531.3 461.1L530.0 461.0L528.7 460.7L528.0 461.8L527.9 463.1L526.7 462.6L526.5 461.3L525.3 460.9M535.0 461.4L535.5 460.2L536.6 460.9L537.7 460.1L539.0 460.4L539.2 461.6L539.9 460.5L540.0 459.2L540.7 458.2M537.7 462.0L536.9 463.0L536.7 464.3L537.3 465.5L536.0 465.6L534.8 465.1L533.5 465.2L532.9 466.4L531.6 465.9M525.3 461.5L524.0 461.2L522.8 460.8L521.5 460.4L520.5 461.3L521.0 462.5L522.3 462.3L523.2 463.2L524.3 464.0M527.2 458.5L525.9 458.3L524.7 457.9L523.4 458.0L523.0 456.8L522.6 455.5L521.9 454.4L521.2 453.3L522.2 452.5M537.4 462.3L536.2 462.9L535.5 464.0L535.1 465.2L536.0 466.2L534.9 466.9L533.6 466.6L532.5 465.9L532.6 464.6M538.1 462.4L537.2 463.3L537.2 464.6L535.9 464.6L534.8 465.3L534.7 466.6L535.6 467.5L535.9 468.8L534.7 468.5M526.3 459.0L526.5 457.7L527.0 458.9L526.8 460.2L528.0 460.5L529.2 459.9L528.9 458.6L529.7 457.6L531.0 457.8M525.8 460.4L525.4 461.6L524.8 462.8L524.3 464.0L523.5 465.0L523.2 463.8L522.2 463.0L521.0 462.6L519.7 462.7M532.7 456.8L532.5 455.5L533.7 454.9L533.2 453.7L531.9 453.5L532.0 454.8L531.8 456.1L532.9 456.8L532.6 458.1M535.3 461.2L534.0 461.3L533.2 462.3L532.9 463.6L534.0 464.2L534.7 465.3L536.0 465.4L537.3 465.1L538.5 465.7M528.2 458.6L526.9 458.4L525.9 457.5L524.9 456.8L523.6 456.9L522.4 456.4L521.6 455.3L521.9 454.1L523.1 453.5M529.3 462.5L529.6 461.3L528.5 460.7L527.4 460.1L527.5 458.8L528.2 457.7L527.4 456.6L526.3 456.0L525.4 455.1M535.7 462.5L535.3 463.7L536.1 464.7L536.9 465.7L536.9 467.0L537.4 468.3L536.4 469.1L535.6 470.2L535.4 471.5M528.3 457.0L528.7 458.2L527.4 458.4L526.6 457.5L526.9 456.2L528.1 455.7L526.8 455.2L525.6 455.3L526.4 454.3M528.8 454.2L529.4 453.1L529.0 451.9L528.2 450.8L526.9 451.0L525.6 451.0L524.5 451.5L523.2 451.8L522.1 452.4M534.4 458.6L533.4 457.8L532.8 456.6L531.9 455.7L531.5 454.5L531.6 453.2L532.9 453.0L532.8 451.8L531.7 451.0M537.7 459.6L538.6 458.6L539.7 458.0L540.8 458.8L542.0 459.3L543.2 459.3L543.9 460.4L543.3 461.5L544.6 461.4M528.4 464.0L527.5 465.0L526.3 465.4L526.4 466.7L527.4 467.5L528.6 467.7L529.8 467.1L530.8 467.9L530.8 469.2M537.2 461.8L537.1 463.1L537.9 464.1L539.2 464.0L540.4 463.5L540.6 464.7L539.9 465.9L539.8 467.2L540.6 468.2M536.1 461.6L537.1 460.8L536.1 459.9L535.6 458.7L536.2 459.9L537.0 461.0L538.2 461.5L539.2 462.2L540.4 462.7M532.0 464.4L533.3 464.5L534.6 464.2L535.3 465.2L535.8 464.0L535.0 463.0L534.4 461.9L533.6 460.8L534.9 460.6M539.3 458.8L540.2 459.8L539.0 460.3L538.4 461.4L537.1 461.4L536.2 460.5L536.5 459.2L536.9 458.0L537.8 457.1M527.8 462.2L528.9 461.5L529.9 460.7L530.3 462.0L529.6 463.1L528.6 464.0L529.1 465.2L529.9 466.2L531.2 465.9M534.5 459.1L533.3 459.6L532.0 459.6L530.7 459.8L529.7 460.6L528.4 460.4L527.7 459.4L527.8 460.7L528.5 461.8M531.5 459.1L532.8 458.8L532.9 457.5L534.0 456.8L535.3 456.9L536.5 456.7L537.2 455.6L536.3 454.7L536.4 453.4M528.0 456.0L526.8 456.5L525.5 456.5L526.3 455.4L527.5 455.8L528.7 456.3L528.6 457.6L529.4 458.7L530.4 457.8" stroke="#555" stroke-width="0.5" fill="none" stroke-linecap="round" stroke-linejoin="round" opacity="1"/>
<path d="M527.8 486.3L528.6 487.4L529.9 487.6L530.8 488.6L529.6 488.1L528.3 488.2L527.2 489.0L528.3 489.6L529.2 490.6M535.8 474.9L534.8 474.1L535.5 473.1L536.8 473.0L538.1 472.8L538.2 471.5L538.2 470.2L537.2 469.4L538.4 468.9M527.9 484.8L526.9 484.0L525.9 484.7L525.1 483.6L524.5 482.5L523.7 481.5L523.2 482.6L522.0 483.1L522.5 484.3M535.4 472.1L536.7 471.7L538.0 471.7L538.7 472.8L539.3 473.9L540.4 474.6L541.3 475.6L542.4 474.8L543.6 474.5M542.9 490.4L544.2 490.5L545.4 490.1L545.0 488.8L544.2 487.8L543.8 486.6L543.8 485.3L543.1 484.2L542.4 485.4M544.5 490.6L544.8 489.3L545.3 488.1L546.4 487.4L547.2 486.4L548.4 486.2L549.2 487.3L550.1 488.2L550.8 489.3M546.1 485.8L544.8 485.7L544.0 484.7L542.7 484.4L541.9 485.4L540.7 486.1L539.9 487.1L539.8 488.4L538.5 488.6M540.0 488.6L539.9 487.3L541.2 487.2L542.1 486.3L542.7 485.2L542.1 484.0L540.8 484.0L540.6 485.3L541.3 486.5M529.2 478.4L528.8 479.6L530.1 480.1L530.8 479.0L529.5 478.6L528.2 478.3L528.9 477.2L529.8 478.1L530.1 479.4M538.1 471.7L537.4 472.9L536.7 471.8L537.1 470.5L537.9 469.5L539.1 469.0L540.2 469.7L539.1 468.9L537.9 468.5M545.4 485.5L546.5 484.9L547.7 484.4L548.8 485.2L550.1 485.0L550.3 483.7L549.9 482.5L548.7 482.0L547.7 481.1M537.8 493.3L538.0 494.6L537.9 495.9L538.4 497.1L537.6 498.0L537.1 499.2L538.4 499.3L537.9 500.5L538.1 501.8M535.6 471.4L535.0 472.6L534.2 473.5L533.0 474.1L531.8 474.5L530.5 474.3L529.4 473.6L528.9 474.8L530.0 475.4M546.2 485.5L545.9 484.3L546.3 483.0L547.3 483.9L547.8 485.0L549.0 485.6L548.0 486.4L548.4 487.7L547.8 488.8M542.2 480.2L542.8 479.0L543.7 478.0L544.6 477.2L545.8 476.6L546.8 475.8L546.9 477.1L547.8 476.2L548.0 477.4M539.0 488.5L540.0 489.4L539.4 490.5L539.0 491.8L539.1 493.0L539.5 494.3L538.2 494.6L537.1 495.2L536.3 494.1M539.2 475.4L538.1 474.8L537.3 473.8L536.3 472.9L535.4 473.7L534.6 472.7L535.9 472.5L536.0 471.2L537.2 470.8M535.3 493.0L534.0 493.0L534.2 491.7L534.8 490.6L536.0 491.1L535.3 492.2L534.6 493.2L534.2 494.5L532.9 494.8M535.6 490.3L536.5 489.4L535.3 489.9L534.2 490.5L534.1 491.8L535.2 491.1L536.4 490.5L537.5 489.9L538.5 489.0M530.6 483.2L529.5 483.9L528.9 485.0L528.5 486.2L527.5 487.0L527.2 488.3L526.8 489.5L525.6 489.0L524.7 488.1M528.4 479.0L527.3 479.7L527.0 480.9L528.0 481.7L527.9 480.4L526.7 480.7L525.9 479.7L525.9 478.4L525.5 477.2M543.7 488.9L542.4 488.5L541.2 488.0L540.5 487.0L539.3 486.3L538.6 485.3L539.7 484.5L540.9 484.1L540.3 485.2M538.9 473.1L540.1 472.6L539.5 471.5L538.2 471.5L537.0 472.0L536.0 472.8L535.3 473.9L534.6 472.8L533.4 472.9M537.0 481.3L537.5 480.1L538.7 480.6L539.9 481.1L540.6 480.1L541.4 481.2L542.6 480.6L542.4 481.9L541.9 483.1M531.7 483.0L530.6 483.6L530.1 484.9L530.2 486.2L530.2 487.5L529.1 488.1L529.5 489.3L530.7 489.9L530.7 491.2M531.1 486.0L530.5 487.1L529.2 486.9L527.9 487.3L526.7 487.8L525.4 487.8L524.9 486.6L523.6 486.8L522.6 487.6M538.2 491.3L539.2 492.2L540.4 491.7L541.6 491.2L542.9 491.1L544.2 491.1L544.9 492.2L545.0 493.5L545.0 494.8M541.3 471.6L540.6 470.5L539.5 469.9L538.2 469.5L537.7 468.3L536.5 467.9L535.8 466.8L534.7 467.6L533.5 467.3M545.3 476.9L546.6 476.7L547.8 476.3L548.9 476.9L549.4 475.7L550.6 475.3L551.8 474.7L551.5 473.5L552.8 473.1M538.7 487.5L539.8 486.9L539.2 488.1L538.4 489.1L537.2 489.6L537.0 490.8L536.9 492.1L537.9 492.9L538.9 493.8M534.4 489.1L534.6 490.4L534.8 491.6L535.7 492.6L536.5 493.6L536.5 494.9L537.3 495.9L538.6 495.8L539.9 495.8M532.2 477.1L531.0 477.5L529.8 477.3L528.5 477.1L528.9 475.9L530.2 475.9L531.3 475.2L532.6 474.9L533.7 475.6M529.0 479.1L529.7 478.0L529.6 476.7L528.8 475.7L529.7 474.7L530.7 473.9L531.4 472.8L532.2 471.9L532.8 470.7M540.8 473.0L541.6 472.0L542.3 470.9L541.8 469.7L541.9 468.4L543.2 468.4L544.0 467.3L544.9 466.4L545.2 465.1M541.2 480.9L542.5 481.2L543.4 482.1L544.5 481.4L543.7 480.4L544.3 479.3L545.5 478.7L546.7 478.3L547.2 479.5M530.7 484.0L530.5 482.7L531.0 481.5L530.2 480.5L529.3 479.6L528.4 480.5L527.1 480.5L526.7 481.8L527.0 483.0M531.4 472.6L532.6 473.2L533.4 474.2L533.3 475.5L533.7 474.3L532.4 474.2L532.2 475.4L530.9 475.0L529.6 474.9M534.2 490.2L535.5 490.4L536.7 490.9L538.0 490.7L539.3 490.7L539.8 489.5L539.9 488.2L538.6 488.1L538.7 486.8M538.7 470.1L540.0 470.0L539.4 468.8L539.2 467.5L538.8 466.3L538.1 465.2L537.0 464.5L536.1 465.5L535.0 466.1M538.1 476.8L537.2 475.9L537.4 477.2L538.7 477.2L539.9 477.6L540.5 478.8L540.1 480.0L541.2 480.6L540.6 481.7M533.5 486.3L532.2 486.5L531.6 487.6L532.0 488.9L532.2 490.1L532.5 491.4L532.9 492.7L533.5 493.8L532.5 494.7M539.9 478.7L541.2 478.9L539.9 479.1L539.3 480.3L540.4 479.5L541.3 478.6L541.8 479.8L542.4 480.9L541.9 482.1M545.9 483.6L546.3 482.4L547.2 481.5L546.5 480.4L547.3 479.3L548.5 479.0L548.5 480.3L549.5 481.2L549.3 479.9M540.0 493.4L538.9 492.7L538.3 493.8L539.0 494.8L537.9 495.4L536.8 496.1L535.9 497.1L534.9 497.9L534.4 496.7M528.3 483.2L527.3 482.3L527.6 481.0L527.7 479.7L526.8 478.8L525.9 477.9L524.7 477.3L524.5 478.6L523.7 479.7M539.5 493.5L540.0 494.7L540.3 496.0L539.1 496.5L539.0 497.8L539.0 499.1L538.8 500.4L537.6 499.9L537.4 498.6M537.2 478.1L538.5 478.5L538.4 477.2L538.9 475.9L539.6 474.9L540.0 473.6L540.6 472.5L541.5 471.6L542.8 471.4M540.6 493.4L541.1 494.6L542.0 495.5L542.1 496.8L543.4 496.8L544.7 496.5L545.4 497.6L546.6 498.0L547.0 496.8M528.6 480.0L529.2 481.2L530.4 481.5L531.5 482.3L532.6 481.7L532.8 480.4L534.1 480.1L535.3 479.6L535.8 478.4M538.8 486.5L538.4 485.2L537.3 484.6L536.4 483.6L537.7 484.1L538.6 483.2L538.5 484.5L539.5 485.3L540.7 486.0M543.0 486.2L543.2 487.5L544.4 487.0L544.1 485.8L545.1 485.0L545.5 483.8L544.6 482.8L543.5 482.1L543.3 480.9M548.0 477.2L546.7 477.4L545.4 477.1L544.8 475.9L543.6 476.5L542.7 477.4L542.2 478.6L541.1 479.2L539.8 479.2M536.0 476.8L535.1 477.7L534.1 476.9L532.8 476.6L531.7 475.9L532.0 474.6L531.1 473.7L531.4 472.4L530.8 471.3M532.2 480.5L533.5 480.3L534.4 481.2L533.2 481.7L532.4 480.7L533.6 480.2L533.1 479.0L533.7 477.9L534.0 476.6M543.3 478.3L542.9 477.1L541.7 476.4L540.4 476.4L539.3 475.9L540.1 474.9L539.4 473.8L539.5 475.1L540.5 475.8M536.0 491.1L537.1 490.4L535.9 490.0L535.0 490.9L533.7 490.7L532.7 490.0L531.4 490.3L532.7 490.3L534.0 490.3M538.3 488.8L537.2 488.2L535.9 487.9L534.6 488.0L533.3 487.7L532.3 488.6L531.5 489.6L530.3 489.8L530.7 491.0M543.6 487.4L543.0 486.2L541.9 485.6L541.3 484.4L540.1 484.0L538.8 483.8L537.5 483.4L536.6 482.5L535.9 481.4M547.1 485.0L548.2 485.6L547.7 486.8L548.9 486.2L548.8 484.9L547.5 485.0L546.2 485.0L544.9 485.4L544.0 486.3M529.9 479.8L531.2 479.7L531.3 481.0L530.4 481.9L529.4 482.7L528.8 483.9L529.0 485.2L528.7 486.5L527.6 487.2M541.8 472.8L540.5 473.0L539.3 472.7L538.1 472.1L538.3 470.9L539.4 470.2L539.5 471.5L540.7 470.8L541.7 471.6M534.2 483.0L533.2 483.7L532.0 484.3L530.8 484.9L530.3 483.7L530.3 482.4L531.5 482.9L532.0 484.1L530.8 484.5M542.2 490.1L541.3 489.3L541.6 488.0L542.3 486.9L542.8 485.7L543.3 484.5L542.6 483.4L541.7 482.5L543.0 482.8M548.0 479.0L546.9 478.2L546.2 479.3L546.0 480.6L546.3 481.8L545.6 483.0L545.1 484.2L543.9 484.6L542.6 484.2M546.0 483.4L547.0 484.2L546.4 485.3L546.6 486.6L547.7 487.2L547.7 488.5L547.9 489.8L549.2 489.9L550.2 489.1" stroke="#444" stroke-width="0.5" fill="none" stroke-linecap="round" stroke-linejoin="round" opacity="1"/>
<path d="M535.0 462.4L535.5 463.4L536.1 460.7L536.6 463.5L537.1 461.9L537.6 461.2L538.2 463.6L538.7 460.5L539.2 462.5L539.7 462.5L540.3 460.3L540.8 463.2L541.3 460.9L541.8 461.3L542.4 462.8L542.9 459.9L543.4 462.4L543.9 461.4L544.5 460.2L545.0 462.8L545.5 459.9L546.0 461.3L546.6 462.0L547.1 459.4L547.6 462.3L548.1 460.4L548.7 460.1L549.2 462.2L549.7 459.2L550.2 461.4L550.8 461.0L551.3 459.1L551.8 462.0L552.3 459.4L552.9 460.2L553.4 461.4L553.9 458.6L554.4 461.3L555.0 459.9L555.5 459.0" stroke="#444" stroke-width="0.6" fill="none"/>
<path d="M555.5 460Q562 463 559 468T553 469.6" stroke="#555" stroke-width="0.6" fill="none"/>
<path d="M451.6 494.4L451.0 495.8L450.5 496.5L450.4 496.2L450.9 495.0L451.9 493.8L453.2 493.0L454.2 493.1L454.6 494.2L454.5 495.8L453.9 497.2L453.3 498.0L453.2 497.7L453.6 496.7L454.7 495.4L455.9 494.5L456.9 494.5L457.5 495.5L457.3 497.1L456.8 498.6L456.2 499.4L456.0 499.3L456.4 498.3L457.4 497.0L458.6 496.0L459.7 496.0L460.3 496.9L460.2 498.4L459.7 500.0L459.1 500.9L458.8 500.8L459.2 499.9L460.1 498.6L461.3 497.6L462.4 497.4L463.1 498.3L463.1 499.8L462.6 501.4L462.0 502.3L461.7 502.4L461.9 501.5L462.8 500.2L464.0 499.2L465.2 498.9L465.9 499.7L465.9 501.1" stroke="#1a1a1a" stroke-width="0.9" fill="none"/>
<path d="M459.9 491.8L459.0 493.0L458.3 493.6L458.3 493.2L459.1 492.2L460.4 491.2L461.8 490.7L462.7 491.1L462.9 492.3L462.3 493.8L461.4 495.1L460.7 495.6L460.7 495.3L461.4 494.4L462.7 493.4L464.1 492.9L465.1 493.2L465.3 494.3L464.8 495.8L463.9 497.1L463.2 497.7L463.1 497.5L463.8 496.6L465.0 495.5L466.4 495.0L467.5 495.2L467.7 496.3L467.3 497.8L466.4 499.2L465.6 499.8L465.5 499.6L466.1 498.7L467.4 497.7L468.8 497.1L469.8 497.3L470.2 498.3L469.7 499.8L468.8 501.2L468.1 501.9L467.9 501.8L468.4 500.9L469.7 499.9L471.1 499.2L472.2 499.4L472.6 500.4L472.2 501.8L471.3 503.2L470.5 504.0L470.3 503.9L470.8 503.1L472.0 502.0L473.4 501.3L474.6 501.4L475.0 502.4L474.6 503.8L473.8 505.3L473.0 506.1" stroke="#1a1a1a" stroke-width="0.9" fill="none"/>
<path d="M466.3 490.9L465.2 491.9L464.4 492.3L464.5 491.9L465.4 491.2L467.0 490.5L468.4 490.3L469.2 490.9L469.2 492.1L468.3 493.4L467.1 494.5L466.3 494.9L466.3 494.6L467.2 493.8L468.7 493.1L470.2 492.9L471.1 493.4L471.1 494.6L470.2 496.0L469.1 497.0L468.2 497.5L468.2 497.2L469.0 496.5L470.5 495.7L472.0 495.5L472.9 496.0L473.0 497.1L472.2 498.5L471.0 499.6L470.1 500.1L470.0 499.8L470.8 499.1L472.3 498.4L473.8 498.1L474.8 498.5L474.9 499.6L474.1 501.0L472.9 502.1L472.0 502.6L471.9 502.4L472.6 501.7L474.1 501.0L475.6 500.7L476.6 501.1L476.8 502.1L476.0 503.5L474.9 504.7L473.9 505.2L473.7 505.1L474.4 504.4L475.8 503.6L477.4 503.3L478.5 503.6L478.7 504.6L478.0 506.0L476.8 507.2L475.9 507.8L475.6 507.7L476.2 507.0L477.6 506.3L479.2 505.9L480.3 506.2L480.5 507.2L479.9 508.5L478.8 509.7L477.8 510.4L477.4 510.3L478.0 509.7L479.4 508.9L481.0 508.5L482.1 508.7L482.4 509.7L481.9 511.0" stroke="#1a1a1a" stroke-width="0.9" fill="none"/>
<path d="M473.0 490.8L472.0 492.1L471.4 492.5L471.4 492.1L472.2 491.2L473.6 490.2L475.0 489.8L475.9 490.3L475.9 491.5L475.3 493.0L474.4 494.3L473.7 494.7L473.8 494.2L474.7 493.2L476.1 492.3L477.4 491.9L478.3 492.5L478.3 493.7L477.6 495.3L476.7 496.5L476.1 496.8L476.2 496.3L477.1 495.3L478.5 494.4L479.9 494.1L480.7 494.7L480.6 496.0L479.9 497.5L479.0 498.6L478.4 499.0L478.6 498.4L479.6 497.4L481.0 496.5L482.3 496.2L483.1 496.9L483.0 498.2" stroke="#1a1a1a" stroke-width="0.9" fill="none"/>
<path d="M483.7 497.7L482.2 498.2L481.4 498.2L481.6 497.9L482.8 497.6L484.5 497.5L485.9 497.9L486.4 498.8L485.8 499.9L484.5 500.8L483.0 501.3L482.2 501.3L482.3 501.0L483.5 500.7L485.2 500.6L486.6 501.0L487.2 501.9L486.6 503.0L485.2 503.9L483.8 504.4L482.9 504.4L483.1 504.1L484.2 503.8L485.9 503.7L487.3 504.1L487.9 505.0L487.4 506.1L486.0 507.0L484.5 507.5L483.6 507.5L483.8 507.2L485.0 506.9L486.6 506.8L488.1 507.2L488.6 508.1L488.1 509.1L486.8 510.1L485.3 510.6L484.4 510.7L484.5 510.4L485.7 510.0L487.3 510.0L488.8 510.4L489.4 511.2L488.9 512.2L487.6 513.2L486.1 513.7L485.1 513.8L485.3 513.5L486.4 513.1L488.1 513.1L489.5 513.5L490.1 514.3L489.6 515.3L488.3 516.3L486.8 516.8L485.9 516.9L486.0 516.6L487.1 516.3L488.8 516.2L490.2 516.6L490.9 517.4L490.4 518.4" stroke="#1a1a1a" stroke-width="0.9" fill="none"/>
<path d="M455.7 505.1L454.2 505.6L453.4 505.6L453.6 505.3L454.8 505.0L456.5 504.9L457.9 505.4L458.4 506.2L457.8 507.3L456.4 508.2L455.0 508.7L454.1 508.7L454.4 508.4L455.6 508.1L457.3 508.0L458.7 508.5L459.2 509.4L458.5 510.4L457.2 511.3L455.7 511.8L454.9 511.8L455.2 511.5L456.4 511.2L458.1 511.1L459.5 511.6L459.9 512.5L459.3 513.5L457.9 514.4L456.4 514.9L455.6 514.9L455.9 514.6L457.2 514.3L458.9 514.3L460.2 514.7L460.7 515.6L460.0 516.7L458.6 517.6L457.2 518.0L456.4 518.0L456.7 517.7L457.9 517.4L459.6 517.4L461.0 517.8L461.4 518.7L460.7 519.8L459.3 520.7L457.9 521.2L457.1 521.1L457.4 520.8L458.7 520.5L460.4 520.5L461.7 521.0L462.2 521.9L461.5 522.9L460.1 523.8" stroke="#1a1a1a" stroke-width="0.9" fill="none"/>
<path d="M459.0 505.8L458.0 507.0L457.3 507.5L457.3 507.1L458.2 506.2L459.6 505.3L461.0 504.9L461.9 505.4L462.0 506.6L461.3 508.0L460.3 509.3L459.6 509.8L459.6 509.4L460.4 508.5L461.8 507.6L463.2 507.2L464.1 507.6L464.3 508.8L463.6 510.2L462.6 511.5L461.9 512.0L461.8 511.7L462.6 510.9L463.9 509.9L465.4 509.5L466.4 509.8L466.5 511.0L465.9 512.4L464.9 513.7L464.2 514.3L464.0 514.0L464.8 513.2L466.1 512.2L467.6 511.8L468.6 512.1L468.8 513.2L468.2 514.6L467.2 515.9" stroke="#1a1a1a" stroke-width="0.9" fill="none"/>
<path d="M470.3 516.7L469.9 518.1L469.4 518.8L469.2 518.5L469.7 517.3L470.7 515.9L471.8 515.1L472.8 515.2L473.3 516.2L473.3 517.9L472.8 519.3L472.3 520.1L472.2 519.8L472.6 518.6L473.5 517.3L474.7 516.4L475.7 516.4L476.3 517.4L476.2 519.0L475.8 520.6L475.3 521.3L475.1 521.1L475.5 520.0L476.4 518.6L477.6 517.6L478.6 517.6L479.2 518.6L479.2 520.2L478.7 521.8L478.2 522.6L478.0 522.4L478.4 521.3L479.3 519.9L480.5 518.9L481.5 518.9L482.1 519.8L482.1 521.4L481.7 523.0L481.2 523.8L481.0 523.7L481.3 522.6" stroke="#1a1a1a" stroke-width="0.9" fill="none"/>
<path d="M442.5 496Q446 491 449 493T455 488Q462 486 470 489T478 491Q484 491 484 495M449 501.4m-2.5 0a2.5 2.5 0 1 0 5 0a2.5 2.5 0 1 0-5 0M450 504Q452 508 455 508M462 522Q470 524 478 522" stroke="#222" stroke-width="0.6" fill="none"/>
</svg>
</body></html>
